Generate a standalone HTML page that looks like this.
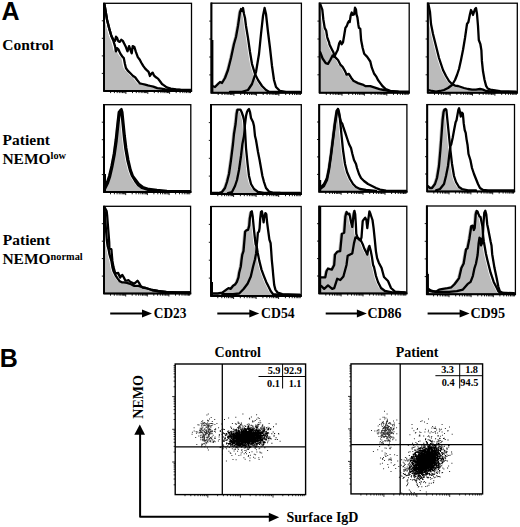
<!DOCTYPE html><html><head><meta charset="utf-8"><style>
html,body{margin:0;padding:0;background:#fff;width:520px;height:527px;overflow:hidden}
svg{display:block}
.s{font-family:"Liberation Serif",serif;font-weight:bold;fill:#000}
.a{font-family:"Liberation Sans",sans-serif;font-weight:bold;fill:#000}
</style></head><body>
<svg width="520" height="527" viewBox="0 0 520 527">
<clipPath id="c00"><rect x="104.0" y="3.3" width="87.5" height="87.6"/></clipPath>
<g clip-path="url(#c00)">
<polygon points="102.0,90.9 102.0,4.0 104.7,20.0 106.8,28.4 108.9,35.7 111.0,40.9 112.6,46.1 113.6,51.3 114.6,48.2 116.2,49.7 117.8,53.4 119.9,56.5 121.4,58.1 122.5,63.8 123.5,68.0 125.3,70.6 128.0,73.3 130.7,76.0 132.7,77.3 134.7,80.0 137.4,83.4 140.1,84.0 142.8,84.7 145.5,85.4 148.2,86.0 150.9,86.7 154.9,88.1 158.9,88.7 163.0,89.4 167.0,89.9 177.6,89.9 177.6,90.9" fill="#bbbbbb"/>
<polyline points="104.4,4.0 107.1,20.0 109.2,28.4 111.3,35.7 113.4,40.9 115.0,46.1 116.0,51.3 117.0,48.2 118.6,49.7 120.2,53.4 122.3,56.5 123.8,58.1 124.9,63.8 125.9,68.0 127.7,70.6 130.4,73.3 133.1,76.0 135.1,77.3 137.1,80.0 139.8,83.4 142.5,84.0 145.2,84.7 147.9,85.4 150.6,86.0 153.3,86.7 157.3,88.1 161.3,88.7 165.4,89.4 169.4,89.9 180.0,89.9" fill="none" stroke="#000" stroke-width="2.3" stroke-linejoin="round" stroke-linecap="round"/>
<polyline points="104.4,4.0 107.1,20.0 109.2,28.4 111.3,35.7 113.4,39.8 115.0,40.9 116.0,36.7 117.0,37.7 118.1,40.9 119.7,41.9 121.2,39.8 122.8,40.9 124.4,44.0 125.9,47.1 127.5,51.3 129.1,46.1 130.6,50.3 131.7,53.4 132.7,46.1 134.4,47.0 135.8,51.7 137.8,57.1 139.8,59.8 141.2,62.5 143.2,65.9 145.2,68.6 146.5,69.9 148.6,71.9 149.9,76.0 151.2,73.9 152.6,72.6 153.9,75.3 156.0,77.3 158.0,78.6 160.0,81.3 162.0,84.0 164.0,85.4 166.7,87.4 170.8,88.7 176.1,89.4 181.5,89.9 191.0,89.9" fill="none" stroke="#000" stroke-width="2.3" stroke-linejoin="round" stroke-linecap="round"/>
</g>
<rect x="104.0" y="3.3" width="87.5" height="87.6" fill="none" stroke="#000" stroke-width="1.3"/>
<path d="M104.0 2.6999999999999997V91.5M103.4 90.9H192.1" stroke="#000" stroke-width="2" fill="none"/>
<path d="M101.8 20.8h2.2 M101.8 38.3h2.2 M101.8 55.9h2.2 M101.8 73.4h2.2 M110.6 90.9v2.2 M114.4 90.9v2.2 M117.2 90.9v2.2 M119.3 90.9v2.2 M121.0 90.9v2.2 M122.5 90.9v2.2 M123.8 90.9v2.2 M124.9 90.9v2.2 M125.9 90.9v3.0 M132.5 90.9v2.2 M136.3 90.9v2.2 M139.0 90.9v2.2 M141.2 90.9v2.2 M142.9 90.9v2.2 M144.4 90.9v2.2 M145.6 90.9v2.2 M146.7 90.9v2.2 M147.8 90.9v3.0 M154.3 90.9v2.2 M158.2 90.9v2.2 M160.9 90.9v2.2 M163.0 90.9v2.2 M164.8 90.9v2.2 M166.2 90.9v2.2 M167.5 90.9v2.2 M168.6 90.9v2.2 M169.6 90.9v3.0 M176.2 90.9v2.2 M180.1 90.9v2.2 M182.8 90.9v2.2 M184.9 90.9v2.2 M186.6 90.9v2.2 M188.1 90.9v2.2 M189.4 90.9v2.2 M190.5 90.9v2.2" stroke="#000" stroke-width="0.9" fill="none"/>
<clipPath id="c01"><rect x="211.4" y="3.2" width="90.0" height="89.6"/></clipPath>
<g clip-path="url(#c01)">
<polygon points="210.4,92.8 210.4,86.0 213.0,87.0 216.0,84.0 218.0,82.0 220.0,83.0 223.0,78.0 226.0,70.0 229.0,58.0 232.0,44.0 234.0,37.0 236.0,26.0 238.0,12.0 239.0,9.0 240.0,11.0 241.0,8.0 242.0,14.0 243.0,18.0 244.0,26.0 246.0,38.0 248.0,52.0 250.0,64.0 253.0,74.0 256.0,80.0 260.0,86.0 264.0,90.0 267.0,91.8 278.0,91.8 278.0,92.8" fill="#bbbbbb"/>
<polyline points="212.4,86.0 215.0,87.0 218.0,84.0 220.0,82.0 222.0,83.0 225.0,78.0 228.0,70.0 231.0,58.0 234.0,44.0 236.0,37.0 238.0,26.0 240.0,12.0 241.0,9.0 242.0,11.0 243.0,8.0 244.0,14.0 245.0,18.0 246.0,26.0 248.0,38.0 250.0,52.0 252.0,64.0 255.0,74.0 258.0,80.0 262.0,86.0 266.0,90.0 269.0,91.8 280.0,91.8" fill="none" stroke="#000" stroke-width="2.3" stroke-linejoin="round" stroke-linecap="round"/>
<polyline points="230.0,91.8 242.0,91.8 248.0,90.0 252.0,84.0 256.0,72.0 259.0,54.0 261.0,34.0 263.0,16.0 264.6,8.0 266.0,14.0 268.0,32.0 270.0,48.0 272.0,66.0 274.0,80.0 276.0,87.0 280.0,91.0 286.0,91.8 300.0,91.8" fill="none" stroke="#000" stroke-width="2.3" stroke-linejoin="round" stroke-linecap="round"/>
</g>
<line x1="212.3" y1="40" x2="212.3" y2="92.8" stroke="#000" stroke-width="2.2"/>
<rect x="211.4" y="3.2" width="90.0" height="89.6" fill="none" stroke="#000" stroke-width="1.3"/>
<path d="M211.4 2.6V93.39999999999999M210.8 92.8H302.0" stroke="#000" stroke-width="2" fill="none"/>
<path d="M209.2 21.1h2.2 M209.2 39.0h2.2 M209.2 57.0h2.2 M209.2 74.9h2.2 M218.2 92.8v2.2 M222.1 92.8v2.2 M224.9 92.8v2.2 M227.1 92.8v2.2 M228.9 92.8v2.2 M230.4 92.8v2.2 M231.7 92.8v2.2 M232.9 92.8v2.2 M233.9 92.8v3.0 M240.7 92.8v2.2 M244.6 92.8v2.2 M247.4 92.8v2.2 M249.6 92.8v2.2 M251.4 92.8v2.2 M252.9 92.8v2.2 M254.2 92.8v2.2 M255.4 92.8v2.2 M256.4 92.8v3.0 M263.2 92.8v2.2 M267.1 92.8v2.2 M269.9 92.8v2.2 M272.1 92.8v2.2 M273.9 92.8v2.2 M275.4 92.8v2.2 M276.7 92.8v2.2 M277.9 92.8v2.2 M278.9 92.8v3.0 M285.7 92.8v2.2 M289.6 92.8v2.2 M292.4 92.8v2.2 M294.6 92.8v2.2 M296.4 92.8v2.2 M297.9 92.8v2.2 M299.2 92.8v2.2 M300.4 92.8v2.2" stroke="#000" stroke-width="0.9" fill="none"/>
<clipPath id="c02"><rect x="319.6" y="3.2" width="89.6" height="89.5"/></clipPath>
<g clip-path="url(#c02)">
<polygon points="318.4,92.7 318.4,4.5 318.9,5.8 320.3,9.6 321.3,19.2 322.7,27.9 324.2,30.8 325.2,37.0 325.6,38.5 327.1,42.3 327.5,44.6 329.8,49.2 331.4,52.3 332.9,56.9 336.0,60.0 338.3,64.6 340.6,66.9 342.9,70.8 344.5,74.6 346.8,73.8 349.1,77.7 351.4,80.8 356.0,83.1 360.6,84.6 363.7,86.2 368.3,86.2 372.9,87.7 377.5,89.2 382.2,90.0 388.3,91.5 396.0,91.7 396.0,92.7" fill="#bbbbbb"/>
<polyline points="320.4,4.5 320.9,5.8 322.3,9.6 323.3,19.2 324.7,27.9 326.2,30.8 327.2,37.0 327.6,38.5 329.1,42.3 329.5,44.6 331.8,49.2 333.4,52.3 334.9,56.9 338.0,60.0 340.3,64.6 342.6,66.9 344.9,70.8 346.5,74.6 348.8,73.8 351.1,77.7 353.4,80.8 358.0,83.1 362.6,84.6 365.7,86.2 370.3,86.2 374.9,87.7 379.5,89.2 384.2,90.0 390.3,91.5 398.0,91.7" fill="none" stroke="#000" stroke-width="2.3" stroke-linejoin="round" stroke-linecap="round"/>
<polyline points="320.3,52.3 322.6,58.5 325.7,63.1 328.0,63.8 330.3,60.0 332.6,55.4 334.2,56.9 336.5,52.3 337.7,50.0 339.2,43.3 340.3,41.3 341.6,44.2 343.0,42.3 344.0,36.5 345.4,27.9 346.8,26.0 347.8,23.1 348.8,21.2 349.7,22.1 350.7,15.4 351.7,12.5 352.6,14.9 354.1,14.4 355.0,7.7 356.0,9.6 356.5,14.4 357.4,17.3 358.4,25.0 358.9,27.9 360.3,28.8 361.1,40.0 362.6,47.7 364.2,53.8 367.2,56.9 370.3,61.5 371.8,67.7 374.2,73.8 376.5,76.9 378.0,80.0 380.3,83.1 382.6,86.2 385.7,89.2 390.3,90.8 398.0,91.7 409.0,91.7" fill="none" stroke="#000" stroke-width="2.3" stroke-linejoin="round" stroke-linecap="round"/>
</g>
<rect x="319.6" y="3.2" width="89.6" height="89.5" fill="none" stroke="#000" stroke-width="1.3"/>
<path d="M319.6 2.6V93.3M319.0 92.7H409.8" stroke="#000" stroke-width="2" fill="none"/>
<path d="M317.4 21.1h2.2 M317.4 39.0h2.2 M317.4 56.9h2.2 M317.4 74.8h2.2 M326.3 92.7v2.2 M330.3 92.7v2.2 M333.1 92.7v2.2 M335.3 92.7v2.2 M337.0 92.7v2.2 M338.5 92.7v2.2 M339.8 92.7v2.2 M341.0 92.7v2.2 M342.0 92.7v3.0 M348.7 92.7v2.2 M352.7 92.7v2.2 M355.5 92.7v2.2 M357.7 92.7v2.2 M359.4 92.7v2.2 M360.9 92.7v2.2 M362.2 92.7v2.2 M363.4 92.7v2.2 M364.4 92.7v3.0 M371.1 92.7v2.2 M375.1 92.7v2.2 M377.9 92.7v2.2 M380.1 92.7v2.2 M381.8 92.7v2.2 M383.3 92.7v2.2 M384.6 92.7v2.2 M385.8 92.7v2.2 M386.8 92.7v3.0 M393.5 92.7v2.2 M397.5 92.7v2.2 M400.3 92.7v2.2 M402.5 92.7v2.2 M404.2 92.7v2.2 M405.7 92.7v2.2 M407.0 92.7v2.2 M408.2 92.7v2.2" stroke="#000" stroke-width="0.9" fill="none"/>
<clipPath id="c03"><rect x="427.8" y="3.2" width="89.5" height="89.5"/></clipPath>
<g clip-path="url(#c03)">
<polygon points="426.4,92.7 426.4,4.0 428.0,12.0 429.0,24.0 431.0,34.0 433.0,42.0 435.0,50.0 437.0,58.0 439.0,64.0 441.0,70.0 444.0,76.0 447.0,81.0 450.0,84.0 453.0,85.6 456.0,86.0 459.0,87.0 462.0,88.0 466.0,89.0 470.0,89.6 474.0,89.6 478.0,89.0 481.0,89.6 484.0,91.0 490.0,91.7 498.0,91.7 498.0,92.7" fill="#bbbbbb"/>
<polyline points="428.4,4.0 430.0,12.0 431.0,24.0 433.0,34.0 435.0,42.0 437.0,50.0 439.0,58.0 441.0,64.0 443.0,70.0 446.0,76.0 449.0,81.0 452.0,84.0 455.0,85.6 458.0,86.0 461.0,87.0 464.0,88.0 468.0,89.0 472.0,89.6 476.0,89.6 480.0,89.0 483.0,89.6 486.0,91.0 492.0,91.7 500.0,91.7" fill="none" stroke="#000" stroke-width="2.3" stroke-linejoin="round" stroke-linecap="round"/>
<polyline points="428.4,90.0 432.0,91.0 436.0,91.6 440.0,91.0 444.0,90.0 448.0,88.0 452.0,85.0 455.0,80.0 457.0,75.0 459.0,69.0 461.0,60.0 463.0,50.0 465.0,38.0 467.0,24.0 468.4,22.0 470.0,14.0 471.0,10.0 472.0,12.0 473.0,15.0 474.0,12.0 475.0,9.0 476.0,8.0 477.0,14.0 478.0,26.0 478.8,40.0 480.4,44.2 481.4,50.4 481.9,60.9 483.0,71.3 484.5,79.7 486.1,85.9 487.7,88.5 490.3,89.6 500.0,91.1 516.0,91.7" fill="none" stroke="#000" stroke-width="2.3" stroke-linejoin="round" stroke-linecap="round"/>
</g>
<rect x="427.8" y="3.2" width="89.5" height="89.5" fill="none" stroke="#000" stroke-width="1.3"/>
<path d="M427.8 2.6V93.3M427.2 92.7H517.9" stroke="#000" stroke-width="2" fill="none"/>
<path d="M425.6 21.1h2.2 M425.6 39.0h2.2 M425.6 56.9h2.2 M425.6 74.8h2.2 M434.5 92.7v2.2 M438.5 92.7v2.2 M441.3 92.7v2.2 M443.4 92.7v2.2 M445.2 92.7v2.2 M446.7 92.7v2.2 M448.0 92.7v2.2 M449.2 92.7v2.2 M450.2 92.7v3.0 M456.9 92.7v2.2 M460.9 92.7v2.2 M463.6 92.7v2.2 M465.8 92.7v2.2 M467.6 92.7v2.2 M469.1 92.7v2.2 M470.4 92.7v2.2 M471.5 92.7v2.2 M472.5 92.7v3.0 M479.3 92.7v2.2 M483.2 92.7v2.2 M486.0 92.7v2.2 M488.2 92.7v2.2 M490.0 92.7v2.2 M491.5 92.7v2.2 M492.8 92.7v2.2 M493.9 92.7v2.2 M494.9 92.7v3.0 M501.7 92.7v2.2 M505.6 92.7v2.2 M508.4 92.7v2.2 M510.6 92.7v2.2 M512.3 92.7v2.2 M513.8 92.7v2.2 M515.1 92.7v2.2 M516.3 92.7v2.2" stroke="#000" stroke-width="0.9" fill="none"/>
<clipPath id="c10"><rect x="104.0" y="104.7" width="86.8" height="87.4"/></clipPath>
<g clip-path="url(#c10)">
<polygon points="102.5,192.1 102.5,190.0 104.0,187.0 106.0,183.0 108.0,177.0 110.3,167.0 112.6,155.0 114.6,141.0 116.3,125.0 117.7,113.0 118.6,110.0 119.5,113.0 120.7,125.0 121.9,137.0 123.4,149.0 125.5,161.0 127.8,170.0 130.0,176.0 133.0,181.0 136.0,185.0 140.0,188.0 146.0,190.0 154.0,191.0 164.0,191.1 178.0,191.1 188.0,191.1 188.0,192.1" fill="#bbbbbb"/>
<polyline points="104.5,190.0 106.0,187.0 108.0,183.0 110.0,177.0 112.3,167.0 114.6,155.0 116.6,141.0 118.3,125.0 119.7,113.0 120.6,110.0 121.5,113.0 122.7,125.0 123.9,137.0 125.4,149.0 127.5,161.0 129.8,170.0 132.0,176.0 135.0,181.0 138.0,185.0 142.0,188.0 148.0,190.0 156.0,191.0 166.0,191.1 180.0,191.1 190.0,191.1" fill="none" stroke="#000" stroke-width="2.3" stroke-linejoin="round" stroke-linecap="round"/>
<polyline points="103.6,188.0 105.1,186.0 107.1,182.0 109.1,176.0 111.5,166.0 113.8,154.0 115.7,140.0 117.4,124.0 118.8,112.0 121.5,109.0 122.4,112.0 123.6,124.0 124.8,136.0 126.3,148.0 128.4,160.0 130.7,170.0 132.9,176.0 135.9,180.0 138.9,184.0 142.9,187.0 148.9,189.0 156.9,190.0 166.9,191.0 180.9,191.1 190.9,191.1" fill="none" stroke="#000" stroke-width="2.3" stroke-linejoin="round" stroke-linecap="round"/>
</g>
<line x1="104.9" y1="174" x2="104.9" y2="192.1" stroke="#000" stroke-width="2.2"/>
<rect x="104.0" y="104.7" width="86.8" height="87.4" fill="none" stroke="#000" stroke-width="1.3"/>
<path d="M104.0 104.10000000000001V192.7M103.4 192.1H191.4" stroke="#000" stroke-width="2" fill="none"/>
<path d="M101.8 122.2h2.2 M101.8 139.7h2.2 M101.8 157.1h2.2 M101.8 174.6h2.2 M110.5 192.1v2.2 M114.4 192.1v2.2 M117.1 192.1v2.2 M119.2 192.1v2.2 M120.9 192.1v2.2 M122.3 192.1v2.2 M123.6 192.1v2.2 M124.7 192.1v2.2 M125.7 192.1v3.0 M132.2 192.1v2.2 M136.1 192.1v2.2 M138.8 192.1v2.2 M140.9 192.1v2.2 M142.6 192.1v2.2 M144.0 192.1v2.2 M145.3 192.1v2.2 M146.4 192.1v2.2 M147.4 192.1v3.0 M153.9 192.1v2.2 M157.8 192.1v2.2 M160.5 192.1v2.2 M162.6 192.1v2.2 M164.3 192.1v2.2 M165.7 192.1v2.2 M167.0 192.1v2.2 M168.1 192.1v2.2 M169.1 192.1v3.0 M175.6 192.1v2.2 M179.5 192.1v2.2 M182.2 192.1v2.2 M184.3 192.1v2.2 M186.0 192.1v2.2 M187.4 192.1v2.2 M188.7 192.1v2.2 M189.8 192.1v2.2" stroke="#000" stroke-width="0.9" fill="none"/>
<clipPath id="c11"><rect x="211.0" y="104.7" width="90.3" height="89.3"/></clipPath>
<g clip-path="url(#c11)">
<polygon points="210.0,194.0 210.0,193.0 216.0,193.0 220.0,192.0 223.0,188.0 225.0,182.0 227.0,174.0 229.0,160.0 231.0,144.0 232.0,134.0 233.6,124.0 234.6,114.0 235.4,109.6 237.0,109.6 238.4,109.6 239.6,112.0 241.0,116.0 242.0,120.0 243.0,130.0 244.0,148.0 245.6,164.0 247.0,176.0 249.0,184.0 252.0,189.0 256.0,192.0 262.0,193.0 278.0,193.0 278.0,194.0" fill="#bbbbbb"/>
<polyline points="212.0,193.0 218.0,193.0 222.0,192.0 225.0,188.0 227.0,182.0 229.0,174.0 231.0,160.0 233.0,144.0 234.0,134.0 235.6,124.0 236.6,114.0 237.4,109.6 239.0,109.6 240.4,109.6 241.6,112.0 243.0,116.0 244.0,120.0 245.0,130.0 246.0,148.0 247.6,164.0 249.0,176.0 251.0,184.0 254.0,189.0 258.0,192.0 264.0,193.0 280.0,193.0" fill="none" stroke="#000" stroke-width="2.3" stroke-linejoin="round" stroke-linecap="round"/>
<polyline points="228.0,193.0 232.0,192.0 235.0,186.0 237.0,180.0 239.0,170.0 241.0,156.0 242.4,144.0 244.0,136.0 245.0,124.0 246.0,116.0 247.0,112.0 248.0,110.0 249.0,109.0 250.0,112.0 251.0,118.0 252.0,120.0 253.0,122.0 254.0,126.0 255.0,136.0 256.0,140.0 257.0,146.0 258.0,152.0 259.6,160.0 261.0,168.0 262.4,176.0 264.0,182.0 266.0,188.0 269.0,191.6 274.0,193.0 300.0,193.0" fill="none" stroke="#000" stroke-width="2.3" stroke-linejoin="round" stroke-linecap="round"/>
</g>
<rect x="211.0" y="104.7" width="90.3" height="89.3" fill="none" stroke="#000" stroke-width="1.3"/>
<path d="M211.0 104.10000000000001V194.6M210.4 194.0H301.90000000000003" stroke="#000" stroke-width="2" fill="none"/>
<path d="M208.8 122.6h2.2 M208.8 140.4h2.2 M208.8 158.3h2.2 M208.8 176.1h2.2 M217.8 194.0v2.2 M221.8 194.0v2.2 M224.6 194.0v2.2 M226.8 194.0v2.2 M228.6 194.0v2.2 M230.1 194.0v2.2 M231.4 194.0v2.2 M232.5 194.0v2.2 M233.6 194.0v3.0 M240.4 194.0v2.2 M244.3 194.0v2.2 M247.2 194.0v2.2 M249.4 194.0v2.2 M251.1 194.0v2.2 M252.7 194.0v2.2 M254.0 194.0v2.2 M255.1 194.0v2.2 M256.1 194.0v3.0 M262.9 194.0v2.2 M266.9 194.0v2.2 M269.7 194.0v2.2 M271.9 194.0v2.2 M273.7 194.0v2.2 M275.2 194.0v2.2 M276.5 194.0v2.2 M277.7 194.0v2.2 M278.7 194.0v3.0 M285.5 194.0v2.2 M289.5 194.0v2.2 M292.3 194.0v2.2 M294.5 194.0v2.2 M296.3 194.0v2.2 M297.8 194.0v2.2 M299.1 194.0v2.2 M300.3 194.0v2.2" stroke="#000" stroke-width="0.9" fill="none"/>
<clipPath id="c12"><rect x="319.2" y="104.6" width="87.7" height="87.2"/></clipPath>
<g clip-path="url(#c12)">
<polygon points="318.0,191.8 318.0,189.0 322.0,186.0 325.0,180.0 327.0,170.0 329.0,156.0 331.0,140.0 333.0,124.0 335.0,112.0 336.0,109.0 337.0,112.0 338.0,120.0 339.6,136.0 341.0,150.0 343.0,164.0 345.0,172.0 348.0,179.0 351.0,184.0 354.0,187.0 358.0,189.0 364.0,190.0 374.0,190.8 374.0,191.8" fill="#bbbbbb"/>
<polyline points="320.0,189.0 324.0,186.0 327.0,180.0 329.0,170.0 331.0,156.0 333.0,140.0 335.0,124.0 337.0,112.0 338.0,109.0 339.0,112.0 340.0,120.0 341.6,136.0 343.0,150.0 345.0,164.0 347.0,172.0 350.0,179.0 353.0,184.0 356.0,187.0 360.0,189.0 366.0,190.0 376.0,190.8" fill="none" stroke="#000" stroke-width="2.3" stroke-linejoin="round" stroke-linecap="round"/>
<polyline points="320.0,188.0 324.0,184.0 327.0,178.0 329.0,168.0 331.0,154.0 333.0,138.0 335.0,122.0 336.6,111.0 338.0,109.0 339.6,116.0 341.0,122.0 342.4,124.0 343.6,128.0 345.0,132.0 347.0,138.0 349.0,144.0 351.0,148.0 352.4,154.0 354.0,160.0 356.0,164.0 357.0,168.0 359.0,174.0 361.0,178.0 364.0,181.0 368.0,184.0 372.0,186.0 376.0,188.0 380.0,189.6 386.0,190.6 406.0,190.8" fill="none" stroke="#000" stroke-width="2.3" stroke-linejoin="round" stroke-linecap="round"/>
</g>
<line x1="320.09999999999997" y1="180" x2="320.09999999999997" y2="191.8" stroke="#000" stroke-width="2.2"/>
<rect x="319.2" y="104.6" width="87.7" height="87.2" fill="none" stroke="#000" stroke-width="1.3"/>
<path d="M319.2 104.0V192.4M318.59999999999997 191.8H407.5" stroke="#000" stroke-width="2" fill="none"/>
<path d="M317.0 122.0h2.2 M317.0 139.5h2.2 M317.0 156.9h2.2 M317.0 174.4h2.2 M325.8 191.8v2.2 M329.7 191.8v2.2 M332.4 191.8v2.2 M334.5 191.8v2.2 M336.3 191.8v2.2 M337.7 191.8v2.2 M339.0 191.8v2.2 M340.1 191.8v2.2 M341.1 191.8v3.0 M347.7 191.8v2.2 M351.6 191.8v2.2 M354.3 191.8v2.2 M356.4 191.8v2.2 M358.2 191.8v2.2 M359.7 191.8v2.2 M360.9 191.8v2.2 M362.0 191.8v2.2 M363.0 191.8v3.0 M369.7 191.8v2.2 M373.5 191.8v2.2 M376.3 191.8v2.2 M378.4 191.8v2.2 M380.1 191.8v2.2 M381.6 191.8v2.2 M382.9 191.8v2.2 M384.0 191.8v2.2 M385.0 191.8v3.0 M391.6 191.8v2.2 M395.4 191.8v2.2 M398.2 191.8v2.2 M400.3 191.8v2.2 M402.0 191.8v2.2 M403.5 191.8v2.2 M404.8 191.8v2.2 M405.9 191.8v2.2" stroke="#000" stroke-width="0.9" fill="none"/>
<clipPath id="c13"><rect x="427.2" y="104.6" width="87.3" height="86.8"/></clipPath>
<g clip-path="url(#c13)">
<polygon points="425.6,191.4 425.6,186.0 428.0,188.0 430.0,188.0 433.0,184.0 435.0,178.0 437.0,166.0 438.4,150.0 439.6,134.0 440.6,120.0 441.6,112.0 442.4,109.6 443.6,109.0 444.4,110.0 445.0,116.0 446.0,126.0 447.0,136.0 448.4,150.0 450.0,164.0 452.0,176.0 454.0,182.0 457.0,187.0 460.0,189.0 466.0,190.4 474.0,190.4 474.0,191.4" fill="#bbbbbb"/>
<polyline points="427.6,186.0 430.0,188.0 432.0,188.0 435.0,184.0 437.0,178.0 439.0,166.0 440.4,150.0 441.6,134.0 442.6,120.0 443.6,112.0 444.4,109.6 445.6,109.0 446.4,110.0 447.0,116.0 448.0,126.0 449.0,136.0 450.4,150.0 452.0,164.0 454.0,176.0 456.0,182.0 459.0,187.0 462.0,189.0 468.0,190.4 476.0,190.4" fill="none" stroke="#000" stroke-width="2.3" stroke-linejoin="round" stroke-linecap="round"/>
<polyline points="436.0,190.4 440.0,189.0 444.0,184.0 446.0,176.0 448.0,166.0 449.4,154.0 450.3,146.3 451.2,144.4 452.7,137.7 454.1,130.0 455.6,122.3 456.5,120.3 457.5,114.6 458.4,109.8 459.1,108.3 459.9,111.7 460.8,116.5 461.8,112.7 462.8,113.6 463.3,118.4 463.7,123.2 464.7,130.0 465.7,132.8 466.6,139.6 467.6,145.3 468.5,154.0 470.4,160.0 472.0,168.0 474.0,174.0 476.0,179.0 478.0,184.0 480.0,188.0 483.0,190.0 488.0,190.4 514.0,190.4" fill="none" stroke="#000" stroke-width="2.3" stroke-linejoin="round" stroke-linecap="round"/>
</g>
<rect x="427.2" y="104.6" width="87.3" height="86.8" fill="none" stroke="#000" stroke-width="1.3"/>
<path d="M427.2 104.0V192.0M426.59999999999997 191.4H515.1" stroke="#000" stroke-width="2" fill="none"/>
<path d="M425.0 122.0h2.2 M425.0 139.3h2.2 M425.0 156.7h2.2 M425.0 174.0h2.2 M433.8 191.4v2.2 M437.6 191.4v2.2 M440.3 191.4v2.2 M442.5 191.4v2.2 M444.2 191.4v2.2 M445.6 191.4v2.2 M446.9 191.4v2.2 M448.0 191.4v2.2 M449.0 191.4v3.0 M455.6 191.4v2.2 M459.4 191.4v2.2 M462.2 191.4v2.2 M464.3 191.4v2.2 M466.0 191.4v2.2 M467.5 191.4v2.2 M468.7 191.4v2.2 M469.9 191.4v2.2 M470.9 191.4v3.0 M477.4 191.4v2.2 M481.3 191.4v2.2 M484.0 191.4v2.2 M486.1 191.4v2.2 M487.8 191.4v2.2 M489.3 191.4v2.2 M490.6 191.4v2.2 M491.7 191.4v2.2 M492.7 191.4v3.0 M499.2 191.4v2.2 M503.1 191.4v2.2 M505.8 191.4v2.2 M507.9 191.4v2.2 M509.7 191.4v2.2 M511.1 191.4v2.2 M512.4 191.4v2.2 M513.5 191.4v2.2" stroke="#000" stroke-width="0.9" fill="none"/>
<clipPath id="c20"><rect x="104.0" y="206.3" width="86.6" height="87.2"/></clipPath>
<g clip-path="url(#c20)">
<polygon points="102.2,293.5 102.2,207.0 102.8,212.0 103.3,220.0 104.0,230.0 104.8,240.0 105.6,246.0 106.3,248.4 106.8,250.4 107.3,253.6 108.4,257.7 109.4,260.9 110.4,267.1 111.5,271.3 113.6,275.5 115.7,278.6 117.7,281.2 119.8,282.3 121.9,282.3 125.0,282.8 128.2,283.8 130.3,284.9 132.4,285.9 134.4,285.9 136.5,285.9 139.7,287.0 143.8,288.0 150.0,290.0 158.0,291.5 168.0,292.4 188.0,292.5 188.0,293.5" fill="#bbbbbb"/>
<polyline points="104.2,207.0 104.8,212.0 105.3,220.0 106.0,230.0 106.8,240.0 107.6,246.0 108.3,248.4 108.8,250.4 109.3,253.6 110.4,257.7 111.4,260.9 112.4,267.1 113.5,271.3 115.6,275.5 117.7,278.6 119.7,281.2 121.8,282.3 123.9,282.3 127.0,282.8 130.2,283.8 132.3,284.9 134.4,285.9 136.4,285.9 138.5,285.9 141.7,287.0 145.8,288.0 152.0,290.0 160.0,291.5 170.0,292.4 190.0,292.5" fill="none" stroke="#000" stroke-width="2.3" stroke-linejoin="round" stroke-linecap="round"/>
<polyline points="104.2,207.0 105.5,209.0 106.6,211.0 107.2,216.0 107.8,224.0 108.6,234.0 109.2,242.0 109.4,248.4 111.4,249.4 111.9,255.7 112.4,260.9 113.5,267.1 115.0,272.4 116.6,273.4 118.2,272.9 119.2,275.5 120.3,277.6 121.3,275.5 122.4,275.0 123.9,277.6 125.5,280.7 127.0,280.7 128.6,280.2 130.2,281.8 132.3,282.8 133.8,283.8 135.4,282.8 137.5,280.7 139.0,282.8 140.6,285.9 142.7,287.5 145.8,288.0 149.0,289.0 152.0,290.0 158.0,291.0 166.0,292.0 178.0,292.5 190.0,292.5" fill="none" stroke="#000" stroke-width="2.3" stroke-linejoin="round" stroke-linecap="round"/>
</g>
<rect x="104.0" y="206.3" width="86.6" height="87.2" fill="none" stroke="#000" stroke-width="1.3"/>
<path d="M104.0 205.70000000000002V294.1M103.4 293.5H191.2" stroke="#000" stroke-width="2" fill="none"/>
<path d="M101.8 223.7h2.2 M101.8 241.2h2.2 M101.8 258.6h2.2 M101.8 276.1h2.2 M110.5 293.5v2.2 M114.3 293.5v2.2 M117.0 293.5v2.2 M119.1 293.5v2.2 M120.8 293.5v2.2 M122.3 293.5v2.2 M123.6 293.5v2.2 M124.7 293.5v2.2 M125.7 293.5v3.0 M132.2 293.5v2.2 M136.0 293.5v2.2 M138.7 293.5v2.2 M140.8 293.5v2.2 M142.5 293.5v2.2 M143.9 293.5v2.2 M145.2 293.5v2.2 M146.3 293.5v2.2 M147.3 293.5v3.0 M153.8 293.5v2.2 M157.6 293.5v2.2 M160.3 293.5v2.2 M162.4 293.5v2.2 M164.1 293.5v2.2 M165.6 293.5v2.2 M166.9 293.5v2.2 M168.0 293.5v2.2 M168.9 293.5v3.0 M175.5 293.5v2.2 M179.3 293.5v2.2 M182.0 293.5v2.2 M184.1 293.5v2.2 M185.8 293.5v2.2 M187.2 293.5v2.2 M188.5 293.5v2.2 M189.6 293.5v2.2" stroke="#000" stroke-width="0.9" fill="none"/>
<clipPath id="c21"><rect x="211.0" y="206.5" width="90.2" height="89.5"/></clipPath>
<g clip-path="url(#c21)">
<polygon points="210.5,296.0 210.5,293.5 215.7,293.5 220.3,292.7 223.4,290.4 226.5,288.1 228.8,288.8 231.1,285.8 233.4,284.2 234.9,281.9 236.5,277.3 237.2,272.7 238.8,266.5 239.5,260.4 240.3,254.6 241.5,251.1 242.6,238.4 243.2,231.5 244.3,230.4 246.1,229.8 247.2,225.8 247.8,218.8 249.0,211.9 249.8,211.3 250.7,216.5 251.8,228.1 252.8,237.3 253.6,244.2 254.7,246.5 255.7,252.7 257.2,260.4 259.5,269.6 261.8,275.8 264.2,281.9 266.5,286.5 268.8,291.2 271.1,294.2 278.0,295.0 298.0,295.0 298.0,296.0" fill="#bbbbbb"/>
<polyline points="212.5,293.5 217.7,293.5 222.3,292.7 225.4,290.4 228.5,288.1 230.8,288.8 233.1,285.8 235.4,284.2 236.9,281.9 238.5,277.3 239.2,272.7 240.8,266.5 241.5,260.4 242.3,254.6 243.5,251.1 244.6,238.4 245.2,231.5 246.3,230.4 248.1,229.8 249.2,225.8 249.8,218.8 251.0,211.9 251.8,211.3 252.7,216.5 253.8,228.1 254.8,237.3 255.6,244.2 256.7,246.5 257.7,252.7 259.2,260.4 261.5,269.6 263.8,275.8 266.2,281.9 268.5,286.5 270.8,291.2 273.1,294.2 280.0,295.0 300.0,295.0" fill="none" stroke="#000" stroke-width="2.3" stroke-linejoin="round" stroke-linecap="round"/>
<polyline points="222.3,294.2 233.1,294.2 239.2,293.5 243.8,288.8 247.7,283.5 250.8,276.5 253.1,266.5 255.0,259.2 256.1,253.4 256.7,245.4 257.3,239.6 257.9,232.7 259.0,231.5 259.6,228.1 260.2,218.8 261.0,211.9 261.9,211.3 262.8,216.5 263.6,222.3 264.2,217.7 265.4,213.1 266.3,214.2 267.1,222.3 268.3,231.5 269.4,239.6 270.6,243.1 271.2,251.0 271.8,260.0 272.6,268.0 273.3,276.0 274.2,285.0 275.4,289.6 277.7,292.7 282.3,294.2 300.0,295.0" fill="none" stroke="#000" stroke-width="2.3" stroke-linejoin="round" stroke-linecap="round"/>
</g>
<line x1="211.9" y1="282" x2="211.9" y2="296.0" stroke="#000" stroke-width="2.2"/>
<rect x="211.0" y="206.5" width="90.2" height="89.5" fill="none" stroke="#000" stroke-width="1.3"/>
<path d="M211.0 205.9V296.6M210.4 296.0H301.8" stroke="#000" stroke-width="2" fill="none"/>
<path d="M208.8 224.4h2.2 M208.8 242.3h2.2 M208.8 260.2h2.2 M208.8 278.1h2.2 M217.8 296.0v2.2 M221.8 296.0v2.2 M224.6 296.0v2.2 M226.8 296.0v2.2 M228.5 296.0v2.2 M230.1 296.0v2.2 M231.4 296.0v2.2 M232.5 296.0v2.2 M233.6 296.0v3.0 M240.3 296.0v2.2 M244.3 296.0v2.2 M247.1 296.0v2.2 M249.3 296.0v2.2 M251.1 296.0v2.2 M252.6 296.0v2.2 M253.9 296.0v2.2 M255.1 296.0v2.2 M256.1 296.0v3.0 M262.9 296.0v2.2 M266.9 296.0v2.2 M269.7 296.0v2.2 M271.9 296.0v2.2 M273.6 296.0v2.2 M275.2 296.0v2.2 M276.5 296.0v2.2 M277.6 296.0v2.2 M278.6 296.0v3.0 M285.4 296.0v2.2 M289.4 296.0v2.2 M292.2 296.0v2.2 M294.4 296.0v2.2 M296.2 296.0v2.2 M297.7 296.0v2.2 M299.0 296.0v2.2 M300.2 296.0v2.2" stroke="#000" stroke-width="0.9" fill="none"/>
<clipPath id="c22"><rect x="319.2" y="206.3" width="87.6" height="87.1"/></clipPath>
<g clip-path="url(#c22)">
<polygon points="318.0,293.4 318.0,277.3 323.3,277.3 324.5,271.2 326.0,268.5 327.9,269.2 329.8,269.6 332.2,265.0 333.0,254.6 335.3,251.7 338.2,251.1 339.9,233.8 342.2,232.7 343.4,216.5 344.5,211.9 346.3,214.2 347.4,213.7 349.1,222.3 350.3,226.9 351.5,215.4 352.4,210.8 353.2,214.2 353.8,223.5 354.3,233.8 355.5,237.3 356.6,238.4 358.4,239.6 360.7,244.2 362.4,248.8 363.6,251.1 365.3,254.6 366.4,248.8 367.4,245.9 368.8,251.1 369.9,256.9 371.1,265.0 372.0,267.0 374.0,276.0 376.0,282.0 379.0,288.0 383.0,291.0 390.0,292.4 404.0,292.4 404.0,293.4" fill="#bbbbbb"/>
<polyline points="320.0,277.3 325.3,277.3 326.5,271.2 328.0,268.5 329.9,269.2 331.8,269.6 334.2,265.0 335.0,254.6 337.3,251.7 340.2,251.1 341.9,233.8 344.2,232.7 345.4,216.5 346.5,211.9 348.3,214.2 349.4,213.7 351.1,222.3 352.3,226.9 353.5,215.4 354.4,210.8 355.2,214.2 355.8,223.5 356.3,233.8 357.5,237.3 358.6,238.4 360.4,239.6 362.7,244.2 364.4,248.8 365.6,251.1 367.3,254.6 368.4,248.8 369.4,245.9 370.8,251.1 371.9,256.9 373.1,265.0 374.0,267.0 376.0,276.0 378.0,282.0 381.0,288.0 385.0,291.0 392.0,292.4 406.0,292.4" fill="none" stroke="#000" stroke-width="2.3" stroke-linejoin="round" stroke-linecap="round"/>
<polyline points="320.0,285.8 321.1,285.8 324.2,288.8 328.0,285.4 332.2,288.8 334.2,288.1 337.2,278.8 340.3,280.0 343.4,276.5 346.5,265.0 347.7,255.7 350.0,254.6 352.3,253.4 354.0,243.1 355.5,237.3 357.5,237.9 359.2,239.6 360.4,240.8 361.5,237.3 362.7,221.1 363.8,219.4 365.2,217.7 366.4,220.0 367.3,228.1 368.4,218.8 369.4,211.3 370.2,213.1 371.3,216.5 372.5,220.0 373.6,228.1 374.8,239.6 375.9,251.1 377.1,258.1 378.8,262.7 380.0,265.0 381.6,268.0 384.0,277.0 386.0,279.0 388.0,281.0 391.0,288.0 395.0,291.6 404.0,292.4" fill="none" stroke="#000" stroke-width="2.3" stroke-linejoin="round" stroke-linecap="round"/>
</g>
<line x1="320.09999999999997" y1="206.3" x2="320.09999999999997" y2="293.4" stroke="#000" stroke-width="2.2"/>
<rect x="319.2" y="206.3" width="87.6" height="87.1" fill="none" stroke="#000" stroke-width="1.3"/>
<path d="M319.2 205.70000000000002V294.0M318.59999999999997 293.4H407.40000000000003" stroke="#000" stroke-width="2" fill="none"/>
<path d="M317.0 223.7h2.2 M317.0 241.1h2.2 M317.0 258.6h2.2 M317.0 276.0h2.2 M325.8 293.4v2.2 M329.6 293.4v2.2 M332.4 293.4v2.2 M334.5 293.4v2.2 M336.2 293.4v2.2 M337.7 293.4v2.2 M339.0 293.4v2.2 M340.1 293.4v2.2 M341.1 293.4v3.0 M347.7 293.4v2.2 M351.5 293.4v2.2 M354.3 293.4v2.2 M356.4 293.4v2.2 M358.1 293.4v2.2 M359.6 293.4v2.2 M360.9 293.4v2.2 M362.0 293.4v2.2 M363.0 293.4v3.0 M369.6 293.4v2.2 M373.4 293.4v2.2 M376.2 293.4v2.2 M378.3 293.4v2.2 M380.0 293.4v2.2 M381.5 293.4v2.2 M382.8 293.4v2.2 M383.9 293.4v2.2 M384.9 293.4v3.0 M391.5 293.4v2.2 M395.3 293.4v2.2 M398.1 293.4v2.2 M400.2 293.4v2.2 M401.9 293.4v2.2 M403.4 293.4v2.2 M404.7 293.4v2.2 M405.8 293.4v2.2" stroke="#000" stroke-width="0.9" fill="none"/>
<clipPath id="c23"><rect x="426.9" y="206.0" width="88.5" height="88.2"/></clipPath>
<g clip-path="url(#c23)">
<polygon points="426.0,294.2 426.0,290.5 430.0,291.5 434.8,291.2 437.1,289.6 440.9,288.8 445.5,288.1 449.4,287.3 452.5,284.2 454.8,281.2 457.1,278.1 459.4,268.1 461.7,263.5 463.2,254.2 464.1,249.2 465.5,248.3 467.4,238.7 469.3,226.2 470.8,225.7 471.8,230.0 472.7,228.1 473.7,214.6 474.6,210.8 475.6,211.7 476.6,214.6 477.5,216.5 478.5,217.0 479.4,221.3 480.4,226.2 480.9,233.8 481.8,241.5 482.6,246.0 484.0,254.0 485.5,260.4 488.6,272.7 491.7,281.9 494.8,288.1 496.3,291.2 497.8,292.7 503.0,293.2 503.0,294.2" fill="#bbbbbb"/>
<polyline points="428.0,290.5 432.0,291.5 436.8,291.2 439.1,289.6 442.9,288.8 447.5,288.1 451.4,287.3 454.5,284.2 456.8,281.2 459.1,278.1 461.4,268.1 463.7,263.5 465.2,254.2 466.1,249.2 467.5,248.3 469.4,238.7 471.3,226.2 472.8,225.7 473.8,230.0 474.7,228.1 475.7,214.6 476.6,210.8 477.6,211.7 478.6,214.6 479.5,216.5 480.5,217.0 481.4,221.3 482.4,226.2 482.9,233.8 483.8,241.5 484.6,246.0 486.0,254.0 487.5,260.4 490.6,272.7 493.7,281.9 496.8,288.1 498.3,291.2 499.8,292.7 505.0,293.2" fill="none" stroke="#000" stroke-width="2.3" stroke-linejoin="round" stroke-linecap="round"/>
<polyline points="427.0,272.7 427.5,288.1 430.6,290.4 435.2,291.9 441.4,291.9 449.1,291.9 456.8,291.2 462.9,289.6 467.5,284.2 470.6,281.9 472.9,275.8 474.5,268.1 476.0,263.5 477.6,255.0 478.6,243.5 479.5,237.7 480.5,238.7 481.0,245.4 481.9,243.5 482.9,235.8 483.4,224.2 484.3,212.7 485.3,210.8 486.3,214.6 487.2,224.2 488.2,229.0 489.1,233.8 490.6,241.5 491.5,245.4 492.2,254.2 494.5,268.1 496.8,278.8 498.3,286.5 499.8,291.2 502.2,292.7 514.0,293.2" fill="none" stroke="#000" stroke-width="2.3" stroke-linejoin="round" stroke-linecap="round"/>
</g>
<line x1="427.79999999999995" y1="274" x2="427.79999999999995" y2="294.2" stroke="#000" stroke-width="2.2"/>
<rect x="426.9" y="206.0" width="88.5" height="88.2" fill="none" stroke="#000" stroke-width="1.3"/>
<path d="M426.9 205.4V294.8M426.29999999999995 294.2H516.0" stroke="#000" stroke-width="2" fill="none"/>
<path d="M424.7 223.6h2.2 M424.7 241.3h2.2 M424.7 258.9h2.2 M424.7 276.6h2.2 M433.6 294.2v2.2 M437.5 294.2v2.2 M440.2 294.2v2.2 M442.4 294.2v2.2 M444.1 294.2v2.2 M445.6 294.2v2.2 M446.9 294.2v2.2 M448.0 294.2v2.2 M449.0 294.2v3.0 M455.7 294.2v2.2 M459.6 294.2v2.2 M462.3 294.2v2.2 M464.5 294.2v2.2 M466.2 294.2v2.2 M467.7 294.2v2.2 M469.0 294.2v2.2 M470.1 294.2v2.2 M471.1 294.2v3.0 M477.8 294.2v2.2 M481.7 294.2v2.2 M484.5 294.2v2.2 M486.6 294.2v2.2 M488.4 294.2v2.2 M489.8 294.2v2.2 M491.1 294.2v2.2 M492.3 294.2v2.2 M493.3 294.2v3.0 M499.9 294.2v2.2 M503.8 294.2v2.2 M506.6 294.2v2.2 M508.7 294.2v2.2 M510.5 294.2v2.2 M512.0 294.2v2.2 M513.3 294.2v2.2 M514.4 294.2v2.2" stroke="#000" stroke-width="0.9" fill="none"/>
<text class="a" x="1.5" y="20" font-size="25">A</text>
<text class="s" x="2.3" y="49.6" font-size="15.5">Control</text>
<text class="s" x="2.6" y="145.3" font-size="15.5">Patient</text>
<text class="s" x="2.4" y="163.6" font-size="15.5">NEMO<tspan font-size="10.3" dy="-4.4">low</tspan></text>
<text class="s" x="2.8" y="245.4" font-size="15.5">Patient</text>
<text class="s" x="2.4" y="263.8" font-size="15.5">NEMO<tspan font-size="10.3" dy="-4.2">normal</tspan></text>
<line x1="110.2" y1="313.5" x2="144" y2="313.5" stroke="#000" stroke-width="1.9"/>
<polygon points="142,309.5 152,313.5 142,317.5" fill="#000"/>
<text class="s" x="153.8" y="317.8" font-size="15.5" textLength="32.7" lengthAdjust="spacingAndGlyphs">CD23</text>
<line x1="217.3" y1="313.5" x2="251.3" y2="313.5" stroke="#000" stroke-width="1.9"/>
<polygon points="249.3,309.5 259.3,313.5 249.3,317.5" fill="#000"/>
<text class="s" x="261.1" y="317.8" font-size="15.5" textLength="33.5" lengthAdjust="spacingAndGlyphs">CD54</text>
<line x1="325.7" y1="313.5" x2="358.9" y2="313.5" stroke="#000" stroke-width="1.9"/>
<polygon points="356.9,309.5 366.9,313.5 356.9,317.5" fill="#000"/>
<text class="s" x="367.4" y="317.8" font-size="15.5" textLength="34.2" lengthAdjust="spacingAndGlyphs">CD86</text>
<line x1="427.6" y1="313.5" x2="461.6" y2="313.5" stroke="#000" stroke-width="1.9"/>
<polygon points="459.6,309.5 469.6,313.5 459.6,317.5" fill="#000"/>
<text class="s" x="470.4" y="317.8" font-size="15.5" textLength="34.6" lengthAdjust="spacingAndGlyphs">CD95</text>
<text class="a" x="-0.2" y="366.5" font-size="25">B</text>
<text class="s" x="214.6" y="356.6" font-size="14">Control</text>
<path d="M211.7 441.4h1v1h-1zM205.8 427.0h1v1h-1zM200.3 432.2h1v1h-1zM200.6 422.7h1v1h-1zM206.5 432.9h1v1h-1zM208.1 426.1h1v1h-1zM205.5 431.6h1v1h-1zM198.3 435.5h1v1h-1zM207.0 447.5h1v1h-1zM206.5 431.1h1v1h-1zM211.4 433.3h1v1h-1zM209.9 429.6h1v1h-1zM206.5 438.7h1v1h-1zM208.8 432.8h1v1h-1zM200.3 434.9h1v1h-1zM205.9 436.7h1v1h-1zM206.5 439.1h1v1h-1zM205.3 433.3h1v1h-1zM208.7 424.9h1v1h-1zM203.6 428.7h1v1h-1zM215.0 431.4h1v1h-1zM208.6 436.0h1v1h-1zM204.2 421.9h1v1h-1zM210.1 429.4h1v1h-1zM208.9 423.5h1v1h-1zM203.4 440.2h1v1h-1zM212.4 423.5h1v1h-1zM199.1 431.7h1v1h-1zM209.0 433.0h1v1h-1zM207.0 425.6h1v1h-1zM208.3 439.3h1v1h-1zM203.4 422.7h1v1h-1zM201.9 437.0h1v1h-1zM197.2 431.4h1v1h-1zM200.7 431.1h1v1h-1zM204.3 432.1h1v1h-1zM212.7 434.7h1v1h-1zM211.9 431.1h1v1h-1zM203.2 434.5h1v1h-1zM191.9 431.7h1v1h-1zM206.3 424.0h1v1h-1zM207.7 428.4h1v1h-1zM193.7 430.6h1v1h-1zM200.8 428.6h1v1h-1zM204.8 440.1h1v1h-1zM206.0 431.8h1v1h-1zM207.4 420.2h1v1h-1zM211.5 425.0h1v1h-1zM207.6 424.7h1v1h-1zM200.8 429.4h1v1h-1zM214.6 436.5h1v1h-1zM202.6 430.2h1v1h-1zM200.0 431.8h1v1h-1zM202.7 436.7h1v1h-1zM199.0 429.8h1v1h-1zM201.5 427.3h1v1h-1zM208.9 432.8h1v1h-1zM208.3 439.7h1v1h-1zM211.0 423.1h1v1h-1zM208.1 420.6h1v1h-1zM205.2 444.5h1v1h-1zM204.6 429.6h1v1h-1zM206.3 432.1h1v1h-1zM205.6 427.1h1v1h-1zM210.7 437.8h1v1h-1zM204.5 434.0h1v1h-1zM208.7 438.7h1v1h-1zM207.4 436.5h1v1h-1zM204.2 425.0h1v1h-1zM203.1 438.6h1v1h-1zM210.2 433.0h1v1h-1zM202.8 434.0h1v1h-1zM213.5 440.8h1v1h-1zM202.2 431.7h1v1h-1zM198.5 424.6h1v1h-1zM206.4 432.2h1v1h-1zM210.1 440.2h1v1h-1zM209.5 440.6h1v1h-1zM202.9 424.7h1v1h-1zM207.9 449.4h1v1h-1zM207.2 424.5h1v1h-1zM206.7 441.3h1v1h-1zM200.5 437.2h1v1h-1zM202.6 440.3h1v1h-1zM209.3 434.0h1v1h-1zM215.1 429.3h1v1h-1zM202.2 444.1h1v1h-1zM201.3 446.3h1v1h-1zM205.3 425.3h1v1h-1zM205.5 432.8h1v1h-1zM206.5 430.8h1v1h-1zM210.7 416.9h1v1h-1zM202.8 430.3h1v1h-1zM214.2 419.0h1v1h-1zM203.9 424.6h1v1h-1zM202.3 436.2h1v1h-1zM207.5 441.4h1v1h-1zM202.6 433.7h1v1h-1zM211.1 437.9h1v1h-1zM203.9 439.3h1v1h-1zM201.1 443.7h1v1h-1zM206.2 431.3h1v1h-1zM206.8 437.5h1v1h-1zM213.9 431.1h1v1h-1zM203.7 435.8h1v1h-1zM201.3 421.0h1v1h-1zM209.5 429.5h1v1h-1zM210.9 425.3h1v1h-1zM191.6 433.8h1v1h-1zM206.2 442.4h1v1h-1zM208.0 434.0h1v1h-1zM208.3 429.6h1v1h-1zM205.9 423.2h1v1h-1zM208.0 426.8h1v1h-1zM203.4 436.5h1v1h-1zM209.9 425.5h1v1h-1zM215.1 428.2h1v1h-1zM209.5 438.2h1v1h-1zM206.6 433.1h1v1h-1zM214.1 437.8h1v1h-1zM207.6 420.1h1v1h-1zM201.9 439.6h1v1h-1zM206.4 425.8h1v1h-1zM202.4 430.0h1v1h-1zM208.8 434.5h1v1h-1zM210.3 426.7h1v1h-1zM210.2 428.7h1v1h-1zM204.1 443.3h1v1h-1zM205.9 431.1h1v1h-1zM204.5 429.5h1v1h-1zM213.0 440.9h1v1h-1zM208.9 433.2h1v1h-1zM210.5 431.5h1v1h-1zM207.7 434.6h1v1h-1zM205.9 442.7h1v1h-1zM213.9 440.6h1v1h-1zM196.3 443.9h1v1h-1zM208.9 429.1h1v1h-1zM205.4 439.4h1v1h-1zM211.1 437.6h1v1h-1zM206.2 432.2h1v1h-1zM209.5 431.4h1v1h-1zM201.2 427.9h1v1h-1zM204.8 434.2h1v1h-1zM216.4 423.1h1v1h-1zM207.8 431.4h1v1h-1zM206.9 440.8h1v1h-1zM211.5 431.0h1v1h-1zM202.8 423.1h1v1h-1zM205.2 440.1h1v1h-1zM204.2 436.6h1v1h-1zM208.9 434.6h1v1h-1zM210.7 431.3h1v1h-1zM201.5 424.4h1v1h-1zM209.9 429.6h1v1h-1zM204.0 437.4h1v1h-1zM201.7 443.5h1v1h-1zM208.7 428.6h1v1h-1zM202.5 439.0h1v1h-1zM199.8 427.8h1v1h-1zM205.5 433.3h1v1h-1zM205.6 434.5h1v1h-1zM203.8 431.2h1v1h-1zM211.6 436.2h1v1h-1zM203.3 443.1h1v1h-1zM195.9 432.5h1v1h-1zM208.7 438.3h1v1h-1zM206.0 429.5h1v1h-1zM208.3 430.7h1v1h-1zM207.8 413.4h1v1h-1zM207.3 426.9h1v1h-1zM210.0 436.9h1v1h-1zM209.0 429.4h1v1h-1zM207.6 429.8h1v1h-1zM206.5 431.1h1v1h-1zM201.3 444.9h1v1h-1zM209.0 418.6h1v1h-1zM209.8 422.9h1v1h-1zM204.4 428.2h1v1h-1zM202.9 433.6h1v1h-1zM203.9 422.6h1v1h-1zM205.5 434.4h1v1h-1zM214.0 429.3h1v1h-1zM199.8 429.5h1v1h-1zM208.6 426.3h1v1h-1zM202.0 435.6h1v1h-1zM205.4 433.4h1v1h-1zM202.5 426.6h1v1h-1zM203.9 431.0h1v1h-1zM203.9 434.8h1v1h-1zM208.1 435.6h1v1h-1zM207.8 426.2h1v1h-1zM200.1 437.2h1v1h-1zM205.6 432.8h1v1h-1zM199.9 430.6h1v1h-1zM202.4 426.4h1v1h-1zM202.5 422.3h1v1h-1zM205.9 439.6h1v1h-1zM202.1 432.6h1v1h-1zM200.3 436.4h1v1h-1zM214.4 424.0h1v1h-1zM204.4 441.3h1v1h-1zM207.3 432.7h1v1h-1zM195.7 431.0h1v1h-1zM209.9 441.3h1v1h-1zM208.6 428.2h1v1h-1zM202.2 420.2h1v1h-1zM200.3 439.3h1v1h-1zM205.0 423.3h1v1h-1zM211.8 421.1h1v1h-1zM211.6 429.9h1v1h-1zM207.1 436.4h1v1h-1zM206.8 440.3h1v1h-1zM205.6 429.9h1v1h-1zM202.3 422.6h1v1h-1zM202.2 438.4h1v1h-1zM209.5 441.0h1v1h-1zM218.6 436.6h1v1h-1zM207.9 423.5h1v1h-1zM204.3 446.3h1v1h-1zM208.0 431.1h1v1h-1zM207.0 419.7h1v1h-1zM201.5 423.5h1v1h-1zM195.2 437.0h1v1h-1zM210.1 430.9h1v1h-1zM207.2 425.5h1v1h-1zM207.7 437.0h1v1h-1zM212.9 442.1h1v1h-1zM207.8 431.2h1v1h-1zM201.5 428.1h1v1h-1zM208.5 435.7h1v1h-1zM205.6 442.8h1v1h-1zM208.6 432.1h1v1h-1zM204.6 432.5h1v1h-1zM200.9 425.6h1v1h-1zM207.2 428.2h1v1h-1zM204.2 439.9h1v1h-1zM204.6 440.5h1v1h-1zM205.5 441.9h1v1h-1zM207.7 420.6h1v1h-1zM211.4 430.7h1v1h-1zM196.1 432.7h1v1h-1zM206.2 423.6h1v1h-1zM202.6 435.6h1v1h-1zM212.3 439.4h1v1h-1zM211.4 439.3h1v1h-1zM193.6 427.3h1v1h-1zM206.4 414.5h1v1h-1zM209.2 437.8h1v1h-1zM201.8 429.5h1v1h-1zM201.0 431.9h1v1h-1zM205.3 432.0h1v1h-1zM200.6 434.5h1v1h-1zM203.9 438.2h1v1h-1zM207.0 422.4h1v1h-1zM198.6 432.5h1v1h-1zM203.2 435.1h1v1h-1zM209.4 432.1h1v1h-1zM197.4 424.2h1v1h-1zM208.2 425.2h1v1h-1z" fill="#333"/>
<path d="M260.3 433.3h1v1h-1zM252.0 428.2h1v1h-1zM242.4 413.5h1v1h-1zM243.8 440.1h1v1h-1zM233.7 430.4h1v1h-1zM245.4 436.1h1v1h-1zM236.1 441.6h1v1h-1zM225.6 446.0h1v1h-1zM227.2 431.3h1v1h-1zM262.4 426.3h1v1h-1zM224.7 438.3h1v1h-1zM233.2 428.4h1v1h-1zM236.3 430.9h1v1h-1zM232.6 429.2h1v1h-1zM266.3 428.3h1v1h-1zM257.5 423.7h1v1h-1zM252.1 425.4h1v1h-1zM240.6 440.9h1v1h-1zM237.6 421.6h1v1h-1zM238.7 435.1h1v1h-1zM252.6 427.3h1v1h-1zM242.2 436.4h1v1h-1zM224.6 436.9h1v1h-1zM235.6 439.9h1v1h-1zM244.4 434.4h1v1h-1zM214.7 438.0h1v1h-1zM240.5 429.0h1v1h-1zM238.4 426.8h1v1h-1zM248.8 440.2h1v1h-1zM253.3 430.8h1v1h-1zM268.4 439.6h1v1h-1zM233.6 435.8h1v1h-1zM224.8 436.8h1v1h-1zM256.2 444.0h1v1h-1zM239.2 422.7h1v1h-1zM244.9 445.9h1v1h-1zM248.9 444.8h1v1h-1zM257.9 446.0h1v1h-1zM253.2 429.7h1v1h-1zM253.8 453.8h1v1h-1zM237.8 422.4h1v1h-1zM273.5 435.7h1v1h-1zM237.4 431.8h1v1h-1zM226.6 442.8h1v1h-1zM247.4 430.6h1v1h-1zM240.2 432.9h1v1h-1zM259.7 432.7h1v1h-1zM263.2 427.4h1v1h-1zM237.7 432.7h1v1h-1zM239.0 435.6h1v1h-1zM260.2 443.1h1v1h-1zM233.1 446.5h1v1h-1zM248.5 447.2h1v1h-1zM243.2 429.5h1v1h-1zM256.7 439.1h1v1h-1zM240.1 436.3h1v1h-1zM247.9 437.6h1v1h-1zM222.9 428.8h1v1h-1zM246.9 437.4h1v1h-1zM237.8 423.1h1v1h-1zM263.1 431.4h1v1h-1zM233.7 448.8h1v1h-1zM261.5 441.7h1v1h-1zM257.2 438.6h1v1h-1zM233.4 437.1h1v1h-1zM251.1 439.7h1v1h-1zM251.4 427.3h1v1h-1zM237.9 433.8h1v1h-1zM242.8 429.3h1v1h-1zM221.5 428.9h1v1h-1zM250.0 435.0h1v1h-1zM252.0 420.6h1v1h-1zM241.3 442.7h1v1h-1zM219.8 430.1h1v1h-1zM225.4 446.8h1v1h-1zM245.9 431.2h1v1h-1zM247.9 434.6h1v1h-1zM258.6 443.0h1v1h-1zM258.1 436.8h1v1h-1zM256.5 440.5h1v1h-1zM259.6 420.2h1v1h-1zM250.5 435.6h1v1h-1zM247.9 433.4h1v1h-1zM245.4 439.3h1v1h-1zM248.7 436.2h1v1h-1zM231.1 427.6h1v1h-1zM234.9 423.2h1v1h-1zM238.7 429.9h1v1h-1zM221.3 423.5h1v1h-1zM239.5 431.8h1v1h-1zM274.8 439.0h1v1h-1zM235.5 432.8h1v1h-1zM232.3 431.0h1v1h-1zM241.4 435.6h1v1h-1zM238.6 442.5h1v1h-1zM255.9 449.2h1v1h-1zM229.6 442.3h1v1h-1zM239.9 424.0h1v1h-1zM240.8 423.7h1v1h-1zM247.8 456.0h1v1h-1zM264.3 447.3h1v1h-1zM260.2 422.3h1v1h-1zM251.5 436.0h1v1h-1zM250.8 427.2h1v1h-1zM222.0 453.9h1v1h-1zM261.7 436.2h1v1h-1zM239.8 437.5h1v1h-1zM230.7 444.3h1v1h-1zM248.0 434.2h1v1h-1zM240.4 435.6h1v1h-1zM247.4 432.3h1v1h-1zM258.6 435.8h1v1h-1zM244.1 429.2h1v1h-1zM262.8 443.5h1v1h-1zM253.5 420.8h1v1h-1zM242.3 443.4h1v1h-1zM247.5 445.0h1v1h-1zM241.0 442.0h1v1h-1zM250.9 416.5h1v1h-1zM240.6 434.3h1v1h-1zM237.2 429.7h1v1h-1zM266.5 432.4h1v1h-1zM255.2 424.4h1v1h-1zM218.8 434.8h1v1h-1zM250.7 429.6h1v1h-1zM253.5 440.8h1v1h-1zM240.2 435.7h1v1h-1zM237.3 444.6h1v1h-1zM269.3 436.8h1v1h-1zM238.9 430.9h1v1h-1zM243.1 442.5h1v1h-1zM237.4 447.6h1v1h-1zM230.2 437.1h1v1h-1zM264.4 447.0h1v1h-1zM241.4 442.0h1v1h-1zM279.6 440.8h1v1h-1zM217.9 440.6h1v1h-1zM275.8 423.6h1v1h-1zM256.2 418.7h1v1h-1zM265.9 427.1h1v1h-1zM257.2 441.2h1v1h-1zM208.9 428.6h1v1h-1zM249.1 423.7h1v1h-1zM245.0 428.5h1v1h-1zM263.0 429.9h1v1h-1zM234.7 441.5h1v1h-1zM261.7 432.7h1v1h-1zM250.0 438.8h1v1h-1zM238.7 427.3h1v1h-1zM252.6 432.1h1v1h-1zM229.0 443.7h1v1h-1zM251.7 436.0h1v1h-1zM236.1 434.9h1v1h-1zM254.3 438.3h1v1h-1zM234.6 429.9h1v1h-1zM250.6 436.4h1v1h-1zM256.1 425.7h1v1h-1zM259.3 447.4h1v1h-1zM258.4 435.2h1v1h-1zM256.7 424.7h1v1h-1zM241.9 451.5h1v1h-1zM224.0 429.1h1v1h-1zM256.1 429.5h1v1h-1zM237.8 427.9h1v1h-1zM267.3 428.7h1v1h-1zM241.0 422.4h1v1h-1zM255.9 434.4h1v1h-1zM253.7 446.6h1v1h-1zM247.0 426.4h1v1h-1zM233.0 437.5h1v1h-1zM262.1 424.8h1v1h-1zM242.7 434.8h1v1h-1zM253.8 428.0h1v1h-1zM250.6 440.9h1v1h-1zM245.4 434.8h1v1h-1zM254.5 439.0h1v1h-1zM261.4 425.7h1v1h-1zM261.7 432.1h1v1h-1zM230.8 432.9h1v1h-1zM229.9 435.7h1v1h-1zM257.6 417.3h1v1h-1zM231.3 442.8h1v1h-1zM242.7 441.8h1v1h-1zM228.8 436.9h1v1h-1zM211.6 432.7h1v1h-1zM256.5 443.6h1v1h-1zM267.0 432.9h1v1h-1zM234.4 433.8h1v1h-1zM222.3 448.2h1v1h-1zM260.5 427.1h1v1h-1zM268.6 422.9h1v1h-1zM252.6 428.7h1v1h-1zM223.8 440.8h1v1h-1zM232.0 446.0h1v1h-1zM234.5 437.5h1v1h-1zM239.9 437.2h1v1h-1zM238.5 442.5h1v1h-1zM253.9 435.2h1v1h-1zM245.9 450.4h1v1h-1zM236.7 433.2h1v1h-1zM256.0 434.4h1v1h-1zM224.8 436.7h1v1h-1zM240.3 428.6h1v1h-1zM247.6 426.8h1v1h-1zM241.9 427.4h1v1h-1zM266.0 431.3h1v1h-1zM251.9 437.0h1v1h-1zM255.0 433.4h1v1h-1zM255.8 435.4h1v1h-1zM214.6 441.2h1v1h-1zM230.0 444.3h1v1h-1zM248.5 432.4h1v1h-1zM211.7 423.0h1v1h-1zM230.5 434.3h1v1h-1zM229.7 452.2h1v1h-1zM251.9 434.2h1v1h-1zM233.0 434.3h1v1h-1zM242.6 432.5h1v1h-1zM245.6 441.6h1v1h-1zM223.4 439.6h1v1h-1zM259.2 423.8h1v1h-1zM243.2 432.9h1v1h-1zM232.0 444.1h1v1h-1zM242.7 444.5h1v1h-1zM251.1 432.9h1v1h-1zM249.4 432.3h1v1h-1zM225.9 448.3h1v1h-1zM251.6 443.6h1v1h-1zM223.4 445.8h1v1h-1zM256.6 434.1h1v1h-1zM218.7 439.1h1v1h-1zM237.2 435.0h1v1h-1zM246.0 428.7h1v1h-1zM244.3 435.8h1v1h-1zM264.8 432.8h1v1h-1zM275.5 423.5h1v1h-1zM245.2 444.9h1v1h-1zM226.2 442.3h1v1h-1zM250.6 430.5h1v1h-1zM244.1 447.4h1v1h-1zM240.4 438.2h1v1h-1zM252.5 443.9h1v1h-1zM218.1 427.3h1v1h-1zM228.4 435.2h1v1h-1zM254.6 440.9h1v1h-1zM243.5 447.2h1v1h-1zM245.6 440.8h1v1h-1zM236.8 442.7h1v1h-1zM237.6 445.1h1v1h-1zM258.6 448.3h1v1h-1zM239.6 427.4h1v1h-1zM257.0 436.7h1v1h-1zM238.1 426.2h1v1h-1zM254.8 419.9h1v1h-1zM240.8 444.1h1v1h-1zM243.1 439.3h1v1h-1zM252.8 439.3h1v1h-1zM260.2 438.9h1v1h-1zM240.2 426.8h1v1h-1zM241.8 431.0h1v1h-1zM252.2 444.1h1v1h-1zM255.6 429.2h1v1h-1zM248.6 435.3h1v1h-1zM240.9 445.8h1v1h-1zM254.2 437.4h1v1h-1zM228.1 417.6h1v1h-1zM237.4 445.0h1v1h-1zM243.2 435.6h1v1h-1zM243.0 439.4h1v1h-1zM247.2 448.3h1v1h-1zM244.2 433.7h1v1h-1zM265.0 439.2h1v1h-1zM255.4 438.5h1v1h-1zM245.7 437.9h1v1h-1zM253.0 435.6h1v1h-1zM222.8 448.3h1v1h-1zM239.3 431.9h1v1h-1zM241.0 430.6h1v1h-1zM234.6 436.1h1v1h-1zM257.2 432.1h1v1h-1zM251.1 424.8h1v1h-1zM254.9 426.0h1v1h-1zM254.5 429.0h1v1h-1zM237.2 426.9h1v1h-1zM229.4 435.6h1v1h-1zM233.2 435.2h1v1h-1zM260.0 427.7h1v1h-1zM241.8 435.2h1v1h-1zM238.0 436.1h1v1h-1zM249.8 443.0h1v1h-1zM236.4 434.9h1v1h-1zM244.9 444.8h1v1h-1zM233.2 438.1h1v1h-1zM256.4 438.8h1v1h-1zM236.0 428.7h1v1h-1zM221.6 434.0h1v1h-1zM241.5 424.7h1v1h-1zM257.0 435.6h1v1h-1zM242.5 431.9h1v1h-1zM251.9 432.7h1v1h-1zM252.2 431.2h1v1h-1zM258.4 421.9h1v1h-1zM233.6 450.4h1v1h-1zM260.8 446.3h1v1h-1zM236.3 442.0h1v1h-1zM259.7 441.0h1v1h-1zM244.8 446.7h1v1h-1zM250.4 425.3h1v1h-1zM278.0 433.1h1v1h-1zM261.7 428.6h1v1h-1zM234.6 443.4h1v1h-1zM256.0 428.8h1v1h-1zM248.1 425.3h1v1h-1zM220.3 446.4h1v1h-1zM231.8 442.6h1v1h-1zM260.1 436.8h1v1h-1zM265.9 436.1h1v1h-1zM249.8 435.1h1v1h-1zM251.7 437.6h1v1h-1zM233.8 436.4h1v1h-1zM243.4 457.2h1v1h-1zM261.2 427.9h1v1h-1zM252.3 421.6h1v1h-1zM248.1 449.0h1v1h-1zM248.1 445.0h1v1h-1zM241.6 439.4h1v1h-1zM249.1 418.6h1v1h-1zM237.1 450.7h1v1h-1zM236.2 445.6h1v1h-1zM268.2 432.8h1v1h-1zM259.3 436.9h1v1h-1zM238.8 440.7h1v1h-1zM250.9 427.5h1v1h-1zM239.2 426.0h1v1h-1zM241.6 435.7h1v1h-1zM231.9 422.9h1v1h-1zM255.7 444.0h1v1h-1zM234.3 437.3h1v1h-1zM235.3 416.8h1v1h-1zM273.6 434.8h1v1h-1zM228.8 446.9h1v1h-1zM256.5 445.1h1v1h-1zM255.9 438.5h1v1h-1zM264.4 431.5h1v1h-1zM248.2 427.1h1v1h-1zM231.4 438.6h1v1h-1zM247.8 423.4h1v1h-1zM251.6 442.5h1v1h-1zM229.5 434.7h1v1h-1zM267.5 426.8h1v1h-1zM254.0 440.6h1v1h-1zM248.4 436.3h1v1h-1zM253.6 436.9h1v1h-1zM246.8 424.3h1v1h-1zM248.5 429.3h1v1h-1zM267.1 450.0h1v1h-1zM258.7 417.9h1v1h-1zM259.0 435.0h1v1h-1zM231.0 427.9h1v1h-1zM259.2 429.2h1v1h-1zM245.0 436.1h1v1h-1zM256.1 414.3h1v1h-1zM261.3 427.8h1v1h-1zM241.2 440.7h1v1h-1zM248.9 417.8h1v1h-1zM253.7 433.5h1v1h-1zM232.2 432.3h1v1h-1zM226.0 443.5h1v1h-1zM264.6 428.8h1v1h-1zM238.8 425.3h1v1h-1zM236.1 428.9h1v1h-1zM247.7 448.4h1v1h-1zM260.4 441.4h1v1h-1zM234.1 443.1h1v1h-1zM236.0 429.9h1v1h-1zM255.4 433.7h1v1h-1zM278.3 433.5h1v1h-1zM242.6 441.5h1v1h-1zM231.5 442.2h1v1h-1zM266.1 432.4h1v1h-1zM240.2 444.6h1v1h-1zM231.8 439.8h1v1h-1zM239.4 438.5h1v1h-1zM236.3 441.1h1v1h-1zM254.6 447.8h1v1h-1zM241.6 439.3h1v1h-1zM222.6 432.0h1v1h-1zM248.4 424.9h1v1h-1zM243.9 428.9h1v1h-1zM252.7 439.3h1v1h-1zM240.4 441.0h1v1h-1zM238.9 437.1h1v1h-1zM253.2 438.9h1v1h-1zM255.0 447.4h1v1h-1zM237.5 435.2h1v1h-1zM223.0 444.5h1v1h-1zM231.0 432.6h1v1h-1zM239.7 439.3h1v1h-1zM242.1 433.8h1v1h-1zM246.7 432.9h1v1h-1zM244.9 428.2h1v1h-1zM237.9 427.2h1v1h-1zM257.8 441.1h1v1h-1zM254.8 437.1h1v1h-1zM238.6 440.5h1v1h-1zM224.0 418.9h1v1h-1zM231.8 448.3h1v1h-1zM250.4 446.7h1v1h-1zM237.6 444.0h1v1h-1zM267.4 440.7h1v1h-1zM250.5 443.2h1v1h-1zM241.5 449.3h1v1h-1zM230.5 431.4h1v1h-1zM245.7 429.7h1v1h-1zM269.2 438.1h1v1h-1zM237.8 449.0h1v1h-1zM263.2 430.8h1v1h-1zM267.1 442.2h1v1h-1zM239.1 432.0h1v1h-1zM250.9 443.6h1v1h-1z" fill="#2a2a2a"/>
<path d="M258.6 459.0h1v1h-1zM242.1 445.9h1v1h-1zM232.5 459.0h1v1h-1zM254.5 457.7h1v1h-1zM246.0 453.3h1v1h-1zM249.9 454.8h1v1h-1zM246.7 449.1h1v1h-1zM235.0 453.6h1v1h-1zM244.7 458.7h1v1h-1zM237.5 445.1h1v1h-1zM230.3 452.9h1v1h-1zM259.4 451.6h1v1h-1zM240.4 454.5h1v1h-1zM258.3 457.3h1v1h-1zM253.0 456.7h1v1h-1zM243.7 453.3h1v1h-1zM249.3 460.3h1v1h-1zM228.4 450.8h1v1h-1zM249.0 452.0h1v1h-1zM245.0 451.9h1v1h-1zM238.4 455.0h1v1h-1zM256.4 451.6h1v1h-1zM249.5 457.4h1v1h-1zM240.7 452.6h1v1h-1zM235.6 459.3h1v1h-1zM259.8 452.2h1v1h-1zM262.0 456.4h1v1h-1zM231.4 455.0h1v1h-1zM248.0 455.0h1v1h-1zM251.5 451.2h1v1h-1zM255.1 454.3h1v1h-1zM261.2 452.5h1v1h-1zM225.9 460.6h1v1h-1zM250.4 445.6h1v1h-1zM241.1 449.8h1v1h-1z" fill="#333"/>
<path d="M254.4 433.5h1v1h-1zM256.5 433.8h1v1h-1zM254.7 433.5h1v1h-1zM236.3 440.2h1v1h-1zM244.7 439.0h1v1h-1zM231.6 434.3h1v1h-1zM244.3 444.8h1v1h-1zM249.3 429.9h1v1h-1zM219.7 446.9h1v1h-1zM248.9 431.6h1v1h-1zM255.5 439.2h1v1h-1zM265.4 435.6h1v1h-1zM242.5 440.4h1v1h-1zM234.5 436.3h1v1h-1zM237.5 435.5h1v1h-1zM234.6 432.4h1v1h-1zM236.9 439.3h1v1h-1zM246.7 436.5h1v1h-1zM250.9 439.3h1v1h-1zM251.5 444.4h1v1h-1zM249.2 438.0h1v1h-1zM242.7 441.5h1v1h-1zM257.8 424.0h1v1h-1zM253.2 431.8h1v1h-1zM249.6 436.8h1v1h-1zM234.9 432.7h1v1h-1zM245.3 447.2h1v1h-1zM235.5 436.4h1v1h-1zM243.9 436.0h1v1h-1zM257.2 443.7h1v1h-1zM246.3 438.4h1v1h-1zM244.3 443.2h1v1h-1zM246.3 439.5h1v1h-1zM245.3 441.4h1v1h-1zM245.6 433.6h1v1h-1zM262.4 427.5h1v1h-1zM247.9 435.3h1v1h-1zM239.4 445.7h1v1h-1zM249.3 434.9h1v1h-1zM238.9 438.9h1v1h-1zM246.4 435.9h1v1h-1zM241.3 443.3h1v1h-1zM248.3 435.9h1v1h-1zM235.2 434.9h1v1h-1zM252.6 433.2h1v1h-1zM252.2 435.8h1v1h-1zM250.1 437.8h1v1h-1zM242.6 436.2h1v1h-1zM246.2 439.4h1v1h-1zM267.9 438.0h1v1h-1zM235.9 446.6h1v1h-1zM245.2 434.2h1v1h-1zM247.6 436.5h1v1h-1zM248.7 436.5h1v1h-1zM246.8 441.7h1v1h-1zM261.4 435.6h1v1h-1zM260.8 439.0h1v1h-1zM257.1 436.7h1v1h-1zM248.6 439.7h1v1h-1zM238.1 437.9h1v1h-1zM237.0 441.4h1v1h-1zM248.6 438.9h1v1h-1zM243.2 434.1h1v1h-1zM254.7 434.2h1v1h-1zM244.6 437.1h1v1h-1zM250.6 436.6h1v1h-1zM237.0 433.7h1v1h-1zM255.3 434.6h1v1h-1zM244.0 433.6h1v1h-1zM254.9 437.8h1v1h-1zM241.1 430.6h1v1h-1zM262.1 433.0h1v1h-1zM236.1 436.0h1v1h-1zM236.5 437.8h1v1h-1zM241.2 432.7h1v1h-1zM252.1 432.9h1v1h-1zM230.4 439.8h1v1h-1zM241.2 433.1h1v1h-1zM231.6 435.6h1v1h-1zM241.0 435.5h1v1h-1zM242.6 442.2h1v1h-1zM255.9 437.0h1v1h-1zM251.3 434.5h1v1h-1zM234.0 440.2h1v1h-1zM258.3 432.8h1v1h-1zM240.2 434.7h1v1h-1zM235.1 440.1h1v1h-1zM237.6 443.1h1v1h-1zM261.1 435.6h1v1h-1zM245.8 433.5h1v1h-1zM254.5 436.3h1v1h-1zM233.1 434.5h1v1h-1zM250.4 434.4h1v1h-1zM250.5 437.4h1v1h-1zM259.0 435.1h1v1h-1zM256.2 440.1h1v1h-1zM257.9 434.2h1v1h-1zM250.0 446.4h1v1h-1zM244.6 434.6h1v1h-1zM247.1 432.1h1v1h-1zM238.9 435.9h1v1h-1zM244.4 441.0h1v1h-1zM236.8 437.1h1v1h-1zM248.7 435.4h1v1h-1zM253.9 444.8h1v1h-1zM236.7 434.4h1v1h-1zM241.8 435.2h1v1h-1zM241.9 438.9h1v1h-1zM262.8 444.8h1v1h-1zM245.0 428.9h1v1h-1zM260.2 435.4h1v1h-1zM243.3 441.4h1v1h-1zM245.4 436.0h1v1h-1zM239.2 441.2h1v1h-1zM253.5 432.7h1v1h-1zM242.1 442.1h1v1h-1zM240.0 435.8h1v1h-1zM239.7 436.6h1v1h-1zM254.1 436.2h1v1h-1zM255.5 438.2h1v1h-1zM228.8 438.6h1v1h-1zM245.6 430.4h1v1h-1zM253.3 435.9h1v1h-1zM242.3 439.3h1v1h-1zM255.2 438.7h1v1h-1zM241.9 437.1h1v1h-1zM267.4 429.5h1v1h-1zM247.1 436.9h1v1h-1zM259.9 437.8h1v1h-1zM248.3 435.4h1v1h-1zM257.4 435.9h1v1h-1zM245.7 437.5h1v1h-1zM252.5 436.3h1v1h-1zM249.1 439.6h1v1h-1zM240.1 436.5h1v1h-1zM247.4 439.4h1v1h-1zM251.2 434.4h1v1h-1zM237.3 436.3h1v1h-1zM242.5 440.7h1v1h-1zM252.1 436.5h1v1h-1zM236.5 432.7h1v1h-1zM247.8 439.1h1v1h-1zM249.7 435.5h1v1h-1zM250.7 428.6h1v1h-1zM257.2 441.6h1v1h-1zM248.1 437.6h1v1h-1zM245.1 440.5h1v1h-1zM238.3 435.4h1v1h-1zM249.4 430.9h1v1h-1zM251.0 438.1h1v1h-1zM246.2 434.9h1v1h-1zM261.6 433.1h1v1h-1zM248.2 439.8h1v1h-1zM246.8 440.9h1v1h-1zM246.6 437.8h1v1h-1zM246.7 439.4h1v1h-1zM241.2 440.8h1v1h-1zM255.1 431.8h1v1h-1zM232.9 433.0h1v1h-1zM239.8 440.2h1v1h-1zM247.8 444.0h1v1h-1zM259.7 429.4h1v1h-1zM243.0 436.0h1v1h-1zM260.9 438.4h1v1h-1zM254.3 432.8h1v1h-1zM263.8 430.7h1v1h-1zM246.4 433.0h1v1h-1zM238.8 438.6h1v1h-1zM238.9 440.3h1v1h-1zM251.1 436.5h1v1h-1zM252.5 440.6h1v1h-1zM255.6 431.4h1v1h-1zM252.6 439.7h1v1h-1zM243.1 435.6h1v1h-1zM257.3 438.3h1v1h-1zM248.2 442.2h1v1h-1zM255.4 442.7h1v1h-1zM243.5 441.0h1v1h-1zM228.9 436.1h1v1h-1zM260.7 431.5h1v1h-1zM245.0 435.6h1v1h-1zM251.2 440.8h1v1h-1zM260.5 434.7h1v1h-1zM249.8 439.9h1v1h-1zM256.5 434.7h1v1h-1zM257.8 430.0h1v1h-1zM248.4 431.2h1v1h-1zM242.1 434.2h1v1h-1zM262.7 441.7h1v1h-1zM253.4 436.7h1v1h-1zM228.7 432.0h1v1h-1zM248.4 439.5h1v1h-1zM250.7 433.5h1v1h-1zM239.9 439.6h1v1h-1zM266.7 437.5h1v1h-1zM246.1 436.4h1v1h-1zM250.5 437.6h1v1h-1zM234.6 444.1h1v1h-1zM250.7 438.5h1v1h-1zM243.0 441.5h1v1h-1zM255.1 433.1h1v1h-1zM255.2 433.1h1v1h-1zM230.7 441.7h1v1h-1zM237.6 435.6h1v1h-1zM238.3 437.4h1v1h-1zM243.4 437.8h1v1h-1zM251.3 442.7h1v1h-1zM250.7 438.4h1v1h-1zM251.1 439.5h1v1h-1zM254.5 437.1h1v1h-1zM235.9 434.2h1v1h-1zM248.9 435.3h1v1h-1zM242.7 435.2h1v1h-1zM240.7 441.7h1v1h-1zM252.8 431.2h1v1h-1zM248.2 436.6h1v1h-1zM242.9 441.3h1v1h-1zM249.3 436.8h1v1h-1zM239.4 441.3h1v1h-1zM248.8 437.7h1v1h-1zM241.1 443.2h1v1h-1zM218.9 434.3h1v1h-1zM231.4 433.3h1v1h-1zM237.3 435.8h1v1h-1zM243.7 437.9h1v1h-1zM258.6 437.7h1v1h-1zM247.5 436.1h1v1h-1zM250.1 439.6h1v1h-1zM240.8 444.3h1v1h-1zM246.7 440.1h1v1h-1zM225.2 439.8h1v1h-1zM243.6 442.4h1v1h-1zM255.5 437.1h1v1h-1zM251.9 435.0h1v1h-1zM239.1 442.1h1v1h-1zM235.8 435.9h1v1h-1zM235.9 434.2h1v1h-1zM243.2 440.4h1v1h-1zM238.3 440.5h1v1h-1zM229.9 435.3h1v1h-1zM239.2 440.2h1v1h-1zM257.1 426.6h1v1h-1zM247.8 443.0h1v1h-1zM247.4 443.2h1v1h-1zM256.7 436.8h1v1h-1zM233.9 435.5h1v1h-1zM259.7 431.9h1v1h-1zM236.8 436.0h1v1h-1zM257.6 436.0h1v1h-1zM232.9 435.8h1v1h-1zM252.9 440.6h1v1h-1zM260.1 437.4h1v1h-1zM250.2 432.6h1v1h-1zM241.0 432.0h1v1h-1zM245.4 438.5h1v1h-1zM246.5 433.1h1v1h-1zM251.9 439.8h1v1h-1zM256.4 427.3h1v1h-1zM224.9 434.8h1v1h-1zM251.6 440.3h1v1h-1zM252.9 436.3h1v1h-1zM248.6 435.6h1v1h-1zM240.2 433.6h1v1h-1zM274.1 432.9h1v1h-1zM251.6 438.4h1v1h-1zM254.3 435.8h1v1h-1zM255.5 443.7h1v1h-1zM240.7 435.1h1v1h-1zM237.6 436.3h1v1h-1zM235.9 439.2h1v1h-1zM252.8 440.9h1v1h-1zM257.6 434.2h1v1h-1zM247.8 433.6h1v1h-1zM247.1 437.1h1v1h-1zM250.9 436.1h1v1h-1zM237.6 441.6h1v1h-1zM244.8 431.6h1v1h-1zM231.8 441.0h1v1h-1zM231.2 441.0h1v1h-1zM259.9 437.5h1v1h-1zM253.8 438.3h1v1h-1zM241.4 438.2h1v1h-1zM230.5 440.9h1v1h-1zM252.2 436.8h1v1h-1zM255.9 435.2h1v1h-1zM232.2 443.8h1v1h-1zM247.1 434.3h1v1h-1zM241.8 435.9h1v1h-1zM247.8 431.7h1v1h-1zM247.3 435.3h1v1h-1zM252.1 435.0h1v1h-1zM251.7 432.8h1v1h-1zM249.5 435.3h1v1h-1zM255.9 437.3h1v1h-1zM255.2 434.0h1v1h-1zM241.3 437.2h1v1h-1zM237.5 436.7h1v1h-1zM257.0 431.5h1v1h-1zM241.6 437.6h1v1h-1zM261.5 443.5h1v1h-1zM241.5 435.5h1v1h-1zM248.5 434.0h1v1h-1zM229.6 440.9h1v1h-1zM249.9 437.6h1v1h-1zM251.3 437.0h1v1h-1zM241.3 439.8h1v1h-1zM246.3 437.5h1v1h-1zM237.1 438.1h1v1h-1zM245.7 433.6h1v1h-1zM239.7 435.9h1v1h-1zM246.3 434.4h1v1h-1zM237.0 438.1h1v1h-1zM236.1 439.1h1v1h-1zM239.0 436.8h1v1h-1zM255.3 427.3h1v1h-1zM234.7 436.0h1v1h-1zM244.9 433.6h1v1h-1zM238.1 435.3h1v1h-1zM237.8 438.1h1v1h-1zM240.5 436.8h1v1h-1zM247.1 439.4h1v1h-1zM240.9 435.7h1v1h-1zM249.3 428.2h1v1h-1zM246.6 433.3h1v1h-1zM253.9 434.8h1v1h-1zM239.3 441.6h1v1h-1zM241.4 433.9h1v1h-1zM249.6 429.0h1v1h-1zM245.3 439.6h1v1h-1zM236.0 441.5h1v1h-1zM243.7 435.0h1v1h-1zM232.6 443.7h1v1h-1zM257.9 434.3h1v1h-1zM248.9 429.2h1v1h-1zM247.2 438.2h1v1h-1zM239.6 435.0h1v1h-1zM244.4 433.9h1v1h-1zM232.2 441.2h1v1h-1zM254.2 438.2h1v1h-1zM253.1 440.1h1v1h-1zM242.5 425.7h1v1h-1zM246.4 434.6h1v1h-1zM236.6 439.7h1v1h-1zM237.2 433.1h1v1h-1zM266.9 433.1h1v1h-1zM248.1 438.9h1v1h-1zM251.5 435.8h1v1h-1zM250.8 436.0h1v1h-1zM242.4 436.2h1v1h-1zM252.0 438.9h1v1h-1zM249.6 430.6h1v1h-1zM244.8 438.9h1v1h-1zM243.3 439.0h1v1h-1zM247.9 441.2h1v1h-1zM226.8 439.5h1v1h-1zM255.9 438.4h1v1h-1zM241.9 436.4h1v1h-1zM243.6 438.7h1v1h-1zM252.6 433.9h1v1h-1zM255.8 437.6h1v1h-1zM228.4 437.2h1v1h-1zM245.1 434.3h1v1h-1zM247.2 436.5h1v1h-1zM245.6 435.8h1v1h-1zM248.7 434.3h1v1h-1zM250.5 429.5h1v1h-1zM246.9 434.9h1v1h-1zM243.3 438.2h1v1h-1zM239.7 425.2h1v1h-1zM233.8 437.3h1v1h-1zM243.9 435.2h1v1h-1zM241.2 440.0h1v1h-1zM246.1 432.8h1v1h-1zM239.4 441.2h1v1h-1zM247.5 438.1h1v1h-1zM246.7 437.6h1v1h-1zM241.4 433.5h1v1h-1zM237.7 434.3h1v1h-1zM261.9 437.6h1v1h-1zM246.9 436.3h1v1h-1zM232.9 441.2h1v1h-1zM232.0 442.3h1v1h-1zM241.6 431.9h1v1h-1zM258.7 431.7h1v1h-1zM244.1 436.4h1v1h-1zM233.8 439.8h1v1h-1zM234.9 437.3h1v1h-1zM237.3 443.9h1v1h-1zM247.4 442.3h1v1h-1zM242.0 438.1h1v1h-1zM251.1 436.6h1v1h-1zM244.6 441.3h1v1h-1zM249.7 436.7h1v1h-1zM252.5 425.7h1v1h-1zM237.7 439.6h1v1h-1zM243.2 436.1h1v1h-1zM233.6 436.7h1v1h-1zM258.1 433.6h1v1h-1zM237.7 436.6h1v1h-1zM255.3 433.4h1v1h-1zM232.5 439.2h1v1h-1zM243.5 437.7h1v1h-1zM231.3 434.1h1v1h-1zM244.0 438.4h1v1h-1zM262.0 440.4h1v1h-1zM256.7 439.4h1v1h-1zM255.7 438.3h1v1h-1zM251.8 434.7h1v1h-1zM242.8 442.2h1v1h-1zM236.2 435.6h1v1h-1zM244.6 437.7h1v1h-1zM240.5 435.7h1v1h-1zM239.4 434.7h1v1h-1zM244.5 449.9h1v1h-1zM237.3 447.2h1v1h-1zM235.9 438.6h1v1h-1zM246.1 439.2h1v1h-1zM243.4 433.0h1v1h-1zM241.6 436.0h1v1h-1zM233.7 437.8h1v1h-1zM246.7 431.0h1v1h-1zM235.4 441.0h1v1h-1zM238.1 435.1h1v1h-1zM241.1 434.9h1v1h-1zM251.2 437.2h1v1h-1zM264.6 433.5h1v1h-1zM249.4 433.8h1v1h-1zM254.1 430.1h1v1h-1zM239.2 436.7h1v1h-1zM271.4 442.7h1v1h-1zM263.6 434.9h1v1h-1zM233.4 440.3h1v1h-1zM255.5 433.2h1v1h-1zM264.2 442.5h1v1h-1zM231.8 436.8h1v1h-1zM244.1 436.1h1v1h-1zM245.2 437.1h1v1h-1zM245.3 446.9h1v1h-1zM241.9 432.6h1v1h-1zM257.0 439.6h1v1h-1zM236.3 434.4h1v1h-1zM238.1 429.4h1v1h-1zM235.3 439.7h1v1h-1zM234.9 437.0h1v1h-1zM243.8 434.8h1v1h-1zM250.7 437.0h1v1h-1zM257.4 437.0h1v1h-1zM242.0 443.7h1v1h-1zM249.3 438.4h1v1h-1zM248.9 435.3h1v1h-1zM238.9 442.4h1v1h-1zM240.0 436.3h1v1h-1zM254.5 439.8h1v1h-1zM247.5 444.4h1v1h-1zM245.5 446.0h1v1h-1zM258.5 436.3h1v1h-1zM244.9 441.3h1v1h-1zM232.1 441.1h1v1h-1zM253.1 442.3h1v1h-1zM258.8 436.7h1v1h-1zM250.3 432.7h1v1h-1zM251.0 433.3h1v1h-1zM235.4 444.8h1v1h-1zM261.9 434.8h1v1h-1zM250.2 445.7h1v1h-1zM235.4 443.9h1v1h-1zM244.1 439.5h1v1h-1zM246.5 442.8h1v1h-1zM257.0 435.1h1v1h-1zM257.3 439.4h1v1h-1zM258.3 431.5h1v1h-1zM254.1 436.0h1v1h-1zM248.1 430.6h1v1h-1zM265.2 434.6h1v1h-1zM249.9 430.7h1v1h-1zM244.9 437.7h1v1h-1zM247.2 432.4h1v1h-1zM249.4 434.9h1v1h-1zM253.9 431.6h1v1h-1zM256.4 431.8h1v1h-1zM237.0 439.6h1v1h-1zM252.0 437.9h1v1h-1zM241.5 436.2h1v1h-1zM239.0 442.0h1v1h-1zM230.7 433.8h1v1h-1zM236.6 439.9h1v1h-1zM233.9 441.2h1v1h-1zM230.9 431.7h1v1h-1zM249.5 438.1h1v1h-1zM243.8 442.3h1v1h-1zM242.5 435.2h1v1h-1zM245.5 442.1h1v1h-1zM245.8 444.2h1v1h-1zM258.9 439.7h1v1h-1zM255.0 441.0h1v1h-1zM249.7 427.3h1v1h-1zM248.0 436.1h1v1h-1zM235.5 430.6h1v1h-1zM247.3 432.4h1v1h-1zM246.2 433.6h1v1h-1zM249.0 432.7h1v1h-1zM248.5 436.4h1v1h-1zM242.4 436.2h1v1h-1zM247.8 426.3h1v1h-1zM229.8 438.9h1v1h-1zM246.8 437.7h1v1h-1zM249.1 432.7h1v1h-1zM258.1 438.5h1v1h-1zM249.4 435.5h1v1h-1zM240.1 435.2h1v1h-1zM249.8 436.9h1v1h-1zM253.8 437.0h1v1h-1zM243.1 441.7h1v1h-1zM233.6 432.9h1v1h-1zM249.6 434.6h1v1h-1zM233.5 432.4h1v1h-1zM247.1 442.1h1v1h-1zM258.8 435.1h1v1h-1zM243.9 433.8h1v1h-1zM263.0 434.7h1v1h-1zM243.5 440.1h1v1h-1zM256.5 435.9h1v1h-1zM256.7 430.8h1v1h-1zM250.6 438.7h1v1h-1zM250.4 439.0h1v1h-1zM248.3 438.9h1v1h-1zM227.9 435.9h1v1h-1zM253.5 431.7h1v1h-1zM239.6 445.4h1v1h-1zM247.2 437.8h1v1h-1zM250.5 443.2h1v1h-1zM243.9 433.9h1v1h-1zM249.4 442.0h1v1h-1zM230.9 437.9h1v1h-1zM243.1 437.7h1v1h-1zM252.4 437.4h1v1h-1zM232.7 437.3h1v1h-1zM245.3 436.7h1v1h-1zM255.6 434.6h1v1h-1zM240.9 436.7h1v1h-1zM247.0 439.5h1v1h-1zM230.9 433.1h1v1h-1zM246.2 440.5h1v1h-1zM246.1 437.8h1v1h-1zM261.8 435.6h1v1h-1zM249.0 436.4h1v1h-1zM255.2 437.9h1v1h-1zM244.6 439.8h1v1h-1zM250.2 434.5h1v1h-1zM253.8 444.0h1v1h-1zM236.5 433.7h1v1h-1zM245.4 436.1h1v1h-1zM248.6 436.5h1v1h-1zM248.4 441.0h1v1h-1zM256.8 427.5h1v1h-1zM251.3 436.4h1v1h-1zM251.3 436.5h1v1h-1zM249.6 435.6h1v1h-1zM240.8 436.8h1v1h-1zM253.6 436.2h1v1h-1zM246.4 441.7h1v1h-1zM253.7 432.6h1v1h-1zM239.5 436.9h1v1h-1zM251.2 440.4h1v1h-1zM232.2 443.5h1v1h-1zM247.1 437.6h1v1h-1zM253.9 437.1h1v1h-1zM248.6 440.4h1v1h-1zM256.4 431.4h1v1h-1zM232.3 434.2h1v1h-1zM248.7 435.6h1v1h-1zM244.6 435.1h1v1h-1zM239.4 439.6h1v1h-1zM246.3 438.0h1v1h-1zM251.8 442.0h1v1h-1zM264.8 432.6h1v1h-1zM257.8 436.3h1v1h-1zM250.8 440.8h1v1h-1zM241.4 436.9h1v1h-1zM255.3 438.2h1v1h-1zM262.6 437.5h1v1h-1zM247.6 436.2h1v1h-1zM251.0 429.2h1v1h-1zM257.9 436.9h1v1h-1zM241.2 437.7h1v1h-1zM250.8 431.7h1v1h-1zM253.4 427.6h1v1h-1zM259.1 434.4h1v1h-1zM248.6 435.6h1v1h-1zM241.7 441.1h1v1h-1zM238.1 437.4h1v1h-1zM250.7 431.6h1v1h-1zM251.5 432.8h1v1h-1zM254.0 434.7h1v1h-1zM257.8 435.4h1v1h-1zM238.2 441.5h1v1h-1zM257.4 439.4h1v1h-1zM233.3 434.0h1v1h-1zM254.8 437.8h1v1h-1zM243.8 436.4h1v1h-1zM247.1 428.3h1v1h-1zM235.5 433.2h1v1h-1zM255.4 434.4h1v1h-1zM228.2 438.1h1v1h-1zM243.1 434.3h1v1h-1zM233.5 434.6h1v1h-1zM248.9 434.8h1v1h-1zM253.7 441.2h1v1h-1zM242.9 431.0h1v1h-1zM237.9 438.0h1v1h-1zM252.9 435.4h1v1h-1zM246.1 437.7h1v1h-1zM257.4 438.4h1v1h-1zM243.0 434.8h1v1h-1zM245.9 434.5h1v1h-1zM238.3 441.7h1v1h-1zM247.7 432.4h1v1h-1zM249.6 432.3h1v1h-1zM237.3 431.4h1v1h-1zM235.9 436.0h1v1h-1zM248.6 436.2h1v1h-1zM248.9 436.7h1v1h-1zM242.9 441.7h1v1h-1zM236.3 433.9h1v1h-1zM264.3 435.8h1v1h-1zM249.4 446.7h1v1h-1zM237.6 444.0h1v1h-1zM246.0 436.0h1v1h-1zM237.7 437.4h1v1h-1zM252.8 436.0h1v1h-1zM242.4 438.7h1v1h-1zM257.4 435.8h1v1h-1zM242.5 435.6h1v1h-1zM249.5 434.1h1v1h-1zM258.4 433.3h1v1h-1zM255.7 435.1h1v1h-1zM252.3 431.6h1v1h-1zM244.1 433.1h1v1h-1zM239.5 437.3h1v1h-1zM236.9 445.4h1v1h-1zM261.4 438.7h1v1h-1zM246.3 434.5h1v1h-1zM231.8 441.5h1v1h-1zM236.1 437.6h1v1h-1zM241.1 437.3h1v1h-1zM261.0 434.9h1v1h-1zM245.1 440.5h1v1h-1zM241.1 429.7h1v1h-1zM239.6 436.5h1v1h-1zM240.0 441.3h1v1h-1zM256.4 431.8h1v1h-1zM246.9 437.5h1v1h-1zM242.5 434.7h1v1h-1zM250.0 434.8h1v1h-1zM262.2 435.0h1v1h-1zM246.5 437.5h1v1h-1zM248.1 434.9h1v1h-1zM251.8 439.4h1v1h-1zM248.5 438.1h1v1h-1zM234.2 436.4h1v1h-1zM247.0 435.4h1v1h-1zM256.0 437.2h1v1h-1zM245.9 434.2h1v1h-1zM242.9 436.1h1v1h-1zM260.3 430.6h1v1h-1zM254.3 434.5h1v1h-1zM260.9 438.9h1v1h-1zM239.1 438.9h1v1h-1zM234.4 440.8h1v1h-1zM244.8 432.8h1v1h-1zM246.2 439.1h1v1h-1zM268.0 437.8h1v1h-1zM249.7 436.2h1v1h-1zM226.3 433.1h1v1h-1zM225.3 434.2h1v1h-1zM255.5 440.8h1v1h-1zM248.7 434.9h1v1h-1zM253.4 445.2h1v1h-1zM248.3 442.0h1v1h-1zM257.9 432.3h1v1h-1zM247.2 433.5h1v1h-1zM249.1 434.8h1v1h-1zM238.6 440.3h1v1h-1zM245.7 435.9h1v1h-1zM254.1 437.7h1v1h-1zM258.0 442.7h1v1h-1zM235.7 439.7h1v1h-1zM231.4 441.9h1v1h-1zM262.9 431.3h1v1h-1zM257.3 438.3h1v1h-1zM248.9 427.9h1v1h-1zM237.1 436.3h1v1h-1zM247.0 437.2h1v1h-1zM253.5 436.5h1v1h-1zM244.4 433.1h1v1h-1zM239.7 436.7h1v1h-1zM265.8 433.3h1v1h-1zM246.1 440.7h1v1h-1zM253.7 438.5h1v1h-1zM247.9 443.0h1v1h-1zM242.0 442.8h1v1h-1zM260.1 436.4h1v1h-1zM241.5 434.9h1v1h-1zM248.0 428.9h1v1h-1zM257.3 432.3h1v1h-1zM235.9 439.9h1v1h-1zM246.7 433.4h1v1h-1zM257.5 431.0h1v1h-1zM240.8 431.2h1v1h-1zM261.9 437.4h1v1h-1zM234.1 440.1h1v1h-1zM240.8 434.1h1v1h-1zM244.2 429.3h1v1h-1zM248.1 436.6h1v1h-1zM259.1 432.0h1v1h-1zM233.9 434.4h1v1h-1zM241.7 440.6h1v1h-1zM266.2 437.0h1v1h-1zM249.8 432.0h1v1h-1zM233.6 433.4h1v1h-1zM252.7 440.6h1v1h-1zM244.0 431.9h1v1h-1zM253.1 435.7h1v1h-1zM239.3 431.4h1v1h-1zM231.0 444.3h1v1h-1zM242.4 438.4h1v1h-1zM251.1 439.8h1v1h-1zM265.8 434.1h1v1h-1zM256.6 432.3h1v1h-1zM233.9 438.0h1v1h-1zM228.7 432.7h1v1h-1zM239.9 439.9h1v1h-1zM243.7 430.1h1v1h-1zM245.9 434.6h1v1h-1zM241.6 435.0h1v1h-1zM245.8 439.9h1v1h-1zM250.9 436.4h1v1h-1zM238.5 431.5h1v1h-1zM263.7 440.9h1v1h-1zM231.7 439.8h1v1h-1zM250.0 436.8h1v1h-1zM247.9 435.0h1v1h-1zM259.1 436.8h1v1h-1zM255.3 437.0h1v1h-1zM248.0 434.9h1v1h-1zM256.3 428.6h1v1h-1zM258.3 434.7h1v1h-1zM248.5 434.5h1v1h-1zM230.2 434.9h1v1h-1zM249.9 434.6h1v1h-1zM250.3 432.9h1v1h-1zM230.9 437.9h1v1h-1zM242.4 434.2h1v1h-1zM258.3 428.4h1v1h-1zM247.4 435.5h1v1h-1zM258.0 436.1h1v1h-1zM249.6 437.5h1v1h-1zM248.3 435.7h1v1h-1zM245.4 440.2h1v1h-1zM265.4 430.9h1v1h-1zM248.1 432.4h1v1h-1zM263.9 441.8h1v1h-1zM249.2 442.1h1v1h-1zM247.9 432.0h1v1h-1zM261.4 429.1h1v1h-1zM237.8 442.3h1v1h-1zM254.4 438.3h1v1h-1zM242.9 434.4h1v1h-1zM236.7 442.6h1v1h-1zM252.2 444.8h1v1h-1zM250.7 438.5h1v1h-1zM241.5 435.5h1v1h-1zM250.6 433.2h1v1h-1zM256.0 440.0h1v1h-1zM235.8 440.3h1v1h-1zM248.8 437.4h1v1h-1zM244.0 441.6h1v1h-1zM248.6 439.1h1v1h-1zM249.6 434.0h1v1h-1zM237.0 444.3h1v1h-1zM261.5 435.1h1v1h-1zM256.5 440.9h1v1h-1zM260.1 439.2h1v1h-1zM245.8 439.6h1v1h-1zM242.3 438.2h1v1h-1zM237.7 431.4h1v1h-1zM238.0 431.6h1v1h-1zM250.5 439.0h1v1h-1zM250.3 433.4h1v1h-1zM245.8 431.8h1v1h-1zM250.4 438.6h1v1h-1zM262.8 431.2h1v1h-1zM245.2 436.5h1v1h-1zM267.1 435.6h1v1h-1zM250.0 430.6h1v1h-1zM246.2 445.4h1v1h-1zM258.8 438.2h1v1h-1zM242.9 433.7h1v1h-1zM248.4 434.2h1v1h-1zM266.0 432.6h1v1h-1zM242.7 440.2h1v1h-1zM248.4 433.2h1v1h-1zM234.8 434.9h1v1h-1zM260.1 433.2h1v1h-1zM245.6 440.5h1v1h-1zM260.9 438.5h1v1h-1zM249.7 434.2h1v1h-1zM238.6 438.3h1v1h-1zM246.2 437.8h1v1h-1zM228.2 433.3h1v1h-1zM254.1 441.8h1v1h-1zM247.6 431.9h1v1h-1zM251.5 432.9h1v1h-1zM244.0 436.0h1v1h-1zM253.6 440.3h1v1h-1zM251.5 432.5h1v1h-1zM255.6 434.0h1v1h-1zM233.9 441.8h1v1h-1zM262.6 431.1h1v1h-1zM243.0 434.9h1v1h-1zM242.9 441.8h1v1h-1zM253.8 436.8h1v1h-1zM247.8 433.8h1v1h-1zM241.8 434.6h1v1h-1zM252.0 438.8h1v1h-1zM243.7 439.9h1v1h-1zM240.1 445.6h1v1h-1zM237.1 435.7h1v1h-1zM246.2 440.1h1v1h-1zM248.6 433.2h1v1h-1zM252.0 439.4h1v1h-1zM236.0 429.6h1v1h-1zM251.2 432.3h1v1h-1zM256.2 442.9h1v1h-1zM257.8 436.9h1v1h-1zM254.0 435.4h1v1h-1zM239.1 437.1h1v1h-1zM243.0 438.1h1v1h-1zM236.0 433.8h1v1h-1zM247.4 437.1h1v1h-1zM247.3 440.4h1v1h-1zM234.1 440.6h1v1h-1zM244.2 436.9h1v1h-1zM256.0 436.3h1v1h-1zM254.9 442.1h1v1h-1zM245.4 429.8h1v1h-1zM241.9 435.5h1v1h-1zM248.1 433.5h1v1h-1zM247.9 437.6h1v1h-1zM230.3 444.7h1v1h-1zM240.8 432.1h1v1h-1zM240.0 440.4h1v1h-1zM273.0 426.2h1v1h-1zM241.1 441.9h1v1h-1zM240.6 437.6h1v1h-1zM242.7 437.1h1v1h-1zM248.7 432.7h1v1h-1zM237.3 432.1h1v1h-1zM249.4 446.0h1v1h-1zM256.5 435.4h1v1h-1zM258.0 438.0h1v1h-1zM243.6 434.6h1v1h-1zM247.4 433.6h1v1h-1zM246.4 438.5h1v1h-1zM235.3 433.5h1v1h-1zM243.6 434.0h1v1h-1zM245.8 438.1h1v1h-1zM249.8 439.1h1v1h-1zM247.3 437.8h1v1h-1zM245.5 437.2h1v1h-1zM245.9 436.9h1v1h-1zM243.7 438.3h1v1h-1zM254.1 441.2h1v1h-1zM260.5 438.3h1v1h-1zM240.7 432.3h1v1h-1zM232.6 437.1h1v1h-1zM248.6 440.5h1v1h-1zM247.3 436.8h1v1h-1zM236.3 440.6h1v1h-1zM262.7 433.5h1v1h-1zM265.3 437.7h1v1h-1zM239.6 440.0h1v1h-1zM248.7 438.0h1v1h-1zM236.2 439.3h1v1h-1zM253.8 431.4h1v1h-1zM251.2 441.2h1v1h-1zM249.1 433.9h1v1h-1zM245.0 439.9h1v1h-1zM251.3 435.9h1v1h-1zM240.6 434.7h1v1h-1zM244.4 432.5h1v1h-1zM250.7 444.0h1v1h-1zM244.7 436.8h1v1h-1zM247.8 439.0h1v1h-1zM244.4 439.1h1v1h-1zM238.7 433.4h1v1h-1zM241.6 439.3h1v1h-1zM240.6 434.6h1v1h-1zM247.7 428.9h1v1h-1zM241.6 428.2h1v1h-1zM241.8 444.5h1v1h-1zM232.6 442.6h1v1h-1zM241.0 435.2h1v1h-1zM244.0 444.7h1v1h-1zM241.5 437.6h1v1h-1zM242.2 436.2h1v1h-1zM252.9 437.3h1v1h-1zM247.2 434.1h1v1h-1zM248.1 435.8h1v1h-1zM246.1 437.2h1v1h-1zM241.4 432.3h1v1h-1zM249.2 429.5h1v1h-1zM254.0 433.8h1v1h-1zM238.9 441.6h1v1h-1zM240.8 437.6h1v1h-1zM238.7 439.2h1v1h-1zM249.1 435.5h1v1h-1zM243.9 431.0h1v1h-1zM256.0 433.2h1v1h-1zM245.1 435.0h1v1h-1zM248.4 435.7h1v1h-1zM243.0 436.0h1v1h-1zM248.9 442.5h1v1h-1zM237.0 441.8h1v1h-1zM247.4 438.4h1v1h-1zM241.0 441.2h1v1h-1zM252.2 428.9h1v1h-1zM232.1 444.8h1v1h-1zM241.2 436.4h1v1h-1zM233.3 438.1h1v1h-1zM246.7 434.8h1v1h-1zM257.4 434.8h1v1h-1zM253.7 436.1h1v1h-1zM247.8 435.5h1v1h-1zM242.1 442.7h1v1h-1zM256.7 440.2h1v1h-1zM240.5 435.8h1v1h-1zM247.6 435.3h1v1h-1zM252.3 442.4h1v1h-1zM241.4 435.7h1v1h-1zM233.7 442.9h1v1h-1zM248.1 437.9h1v1h-1zM240.6 437.4h1v1h-1zM243.5 434.4h1v1h-1zM251.5 441.3h1v1h-1zM257.1 434.4h1v1h-1zM272.7 431.5h1v1h-1zM246.1 431.7h1v1h-1zM244.2 438.2h1v1h-1zM241.0 436.9h1v1h-1zM237.8 436.0h1v1h-1zM235.6 436.2h1v1h-1zM227.5 435.5h1v1h-1zM242.3 436.6h1v1h-1zM256.8 431.4h1v1h-1zM240.4 440.6h1v1h-1zM238.3 436.2h1v1h-1zM230.2 426.4h1v1h-1zM265.3 437.7h1v1h-1zM263.9 434.5h1v1h-1zM234.1 439.4h1v1h-1zM238.3 438.4h1v1h-1zM250.0 438.6h1v1h-1zM239.5 438.0h1v1h-1zM250.2 441.6h1v1h-1zM243.9 444.3h1v1h-1zM252.0 437.7h1v1h-1zM241.2 438.6h1v1h-1zM251.4 432.4h1v1h-1zM252.1 437.2h1v1h-1zM243.8 433.9h1v1h-1zM244.9 439.5h1v1h-1zM261.3 435.8h1v1h-1zM243.8 439.7h1v1h-1zM255.0 438.8h1v1h-1zM244.0 427.6h1v1h-1zM248.0 436.3h1v1h-1zM236.4 438.0h1v1h-1zM237.6 436.5h1v1h-1zM256.8 433.4h1v1h-1zM226.3 442.9h1v1h-1zM245.4 436.9h1v1h-1zM229.9 431.3h1v1h-1zM242.9 435.0h1v1h-1zM247.7 435.8h1v1h-1zM249.0 434.8h1v1h-1zM249.3 434.4h1v1h-1zM250.8 438.7h1v1h-1zM233.1 438.1h1v1h-1zM243.1 437.0h1v1h-1zM262.0 432.7h1v1h-1zM245.0 437.8h1v1h-1zM228.1 444.2h1v1h-1zM251.5 435.6h1v1h-1zM255.4 446.0h1v1h-1zM239.9 442.6h1v1h-1zM260.9 432.1h1v1h-1zM250.0 431.3h1v1h-1zM248.5 433.9h1v1h-1zM251.3 434.8h1v1h-1zM257.7 440.3h1v1h-1zM261.2 434.9h1v1h-1zM243.7 435.9h1v1h-1zM241.1 436.9h1v1h-1zM237.7 436.7h1v1h-1zM253.9 439.8h1v1h-1zM249.4 430.5h1v1h-1zM260.3 442.4h1v1h-1zM253.8 434.5h1v1h-1zM252.1 435.9h1v1h-1zM233.4 442.6h1v1h-1zM254.2 438.0h1v1h-1zM252.5 436.3h1v1h-1zM236.9 443.7h1v1h-1zM243.6 435.9h1v1h-1zM250.1 430.1h1v1h-1zM244.9 439.2h1v1h-1zM243.6 427.9h1v1h-1zM248.4 440.0h1v1h-1zM236.1 446.8h1v1h-1zM248.1 436.9h1v1h-1zM251.0 440.3h1v1h-1zM248.8 436.3h1v1h-1zM249.2 431.9h1v1h-1zM263.2 428.6h1v1h-1zM244.9 434.1h1v1h-1zM247.6 436.4h1v1h-1zM255.5 435.5h1v1h-1zM245.1 445.0h1v1h-1zM237.9 437.7h1v1h-1zM243.8 440.9h1v1h-1zM247.1 441.5h1v1h-1zM240.3 438.7h1v1h-1zM251.5 436.4h1v1h-1zM248.5 430.5h1v1h-1zM250.8 435.3h1v1h-1zM262.5 431.5h1v1h-1zM234.5 445.9h1v1h-1zM263.3 434.3h1v1h-1zM229.6 435.8h1v1h-1zM249.3 438.2h1v1h-1zM255.6 440.5h1v1h-1zM252.0 435.6h1v1h-1zM259.0 441.7h1v1h-1zM249.6 435.1h1v1h-1zM253.5 436.7h1v1h-1zM246.4 437.3h1v1h-1zM257.3 441.6h1v1h-1zM255.6 437.5h1v1h-1zM243.0 431.1h1v1h-1zM245.0 438.9h1v1h-1zM239.3 439.2h1v1h-1zM239.7 438.6h1v1h-1zM223.3 440.9h1v1h-1zM252.8 436.3h1v1h-1zM252.1 432.5h1v1h-1zM247.1 435.2h1v1h-1zM247.1 436.7h1v1h-1zM247.7 433.8h1v1h-1zM242.0 430.4h1v1h-1zM243.4 427.4h1v1h-1zM250.2 444.0h1v1h-1zM242.2 435.6h1v1h-1zM247.4 438.4h1v1h-1zM252.7 434.1h1v1h-1zM244.1 438.7h1v1h-1zM249.7 431.7h1v1h-1zM251.6 443.0h1v1h-1zM231.2 436.8h1v1h-1zM243.5 433.1h1v1h-1zM235.7 444.4h1v1h-1zM248.4 438.3h1v1h-1zM254.4 431.3h1v1h-1zM257.0 433.3h1v1h-1zM255.8 435.8h1v1h-1zM258.7 437.8h1v1h-1zM246.8 440.7h1v1h-1zM241.5 439.9h1v1h-1zM234.7 437.5h1v1h-1zM263.6 438.6h1v1h-1zM238.8 442.9h1v1h-1zM244.2 438.7h1v1h-1zM243.8 439.5h1v1h-1zM242.7 442.7h1v1h-1zM243.8 434.8h1v1h-1zM242.6 432.0h1v1h-1zM253.0 440.5h1v1h-1zM258.8 437.5h1v1h-1zM245.9 442.1h1v1h-1zM258.9 433.2h1v1h-1zM235.7 436.1h1v1h-1zM247.1 441.1h1v1h-1zM256.3 437.3h1v1h-1zM256.5 434.8h1v1h-1zM244.9 428.5h1v1h-1zM242.2 436.4h1v1h-1zM256.9 435.4h1v1h-1zM243.7 437.7h1v1h-1zM242.9 429.7h1v1h-1zM241.0 436.9h1v1h-1zM244.7 434.5h1v1h-1zM243.0 439.5h1v1h-1zM233.9 437.2h1v1h-1zM241.5 436.5h1v1h-1zM247.4 439.5h1v1h-1zM223.9 438.5h1v1h-1zM236.1 431.4h1v1h-1zM248.2 437.1h1v1h-1zM240.3 436.7h1v1h-1zM240.0 443.0h1v1h-1zM261.9 439.7h1v1h-1zM236.8 440.6h1v1h-1zM249.6 436.8h1v1h-1zM245.3 436.0h1v1h-1zM241.3 434.8h1v1h-1zM240.7 446.7h1v1h-1zM251.1 433.8h1v1h-1zM241.2 439.5h1v1h-1zM263.0 441.7h1v1h-1zM237.9 432.7h1v1h-1zM241.3 438.6h1v1h-1zM241.8 435.1h1v1h-1zM264.0 430.1h1v1h-1zM252.4 435.6h1v1h-1zM242.3 444.7h1v1h-1zM235.7 439.0h1v1h-1zM244.9 434.3h1v1h-1zM243.0 437.5h1v1h-1zM269.3 436.4h1v1h-1zM243.8 431.7h1v1h-1zM248.9 439.7h1v1h-1zM270.3 428.2h1v1h-1zM233.4 431.2h1v1h-1zM233.7 442.8h1v1h-1zM245.4 434.2h1v1h-1zM247.8 436.4h1v1h-1zM245.8 441.4h1v1h-1zM253.9 434.6h1v1h-1zM257.7 439.6h1v1h-1zM244.2 435.3h1v1h-1zM242.9 433.6h1v1h-1zM228.7 443.1h1v1h-1zM257.4 426.3h1v1h-1zM243.6 433.4h1v1h-1zM243.3 438.7h1v1h-1zM256.2 437.7h1v1h-1zM253.2 440.5h1v1h-1zM249.4 441.0h1v1h-1zM254.1 433.4h1v1h-1zM252.9 434.6h1v1h-1zM256.1 440.4h1v1h-1zM234.8 440.4h1v1h-1zM238.1 435.7h1v1h-1zM242.7 439.3h1v1h-1zM252.4 436.0h1v1h-1zM228.8 440.7h1v1h-1zM255.5 425.6h1v1h-1zM241.2 435.1h1v1h-1zM248.6 435.5h1v1h-1zM255.3 434.4h1v1h-1zM238.0 430.1h1v1h-1zM230.3 437.6h1v1h-1zM251.6 432.3h1v1h-1zM251.9 434.7h1v1h-1zM254.6 441.1h1v1h-1zM250.2 432.8h1v1h-1zM255.7 436.6h1v1h-1zM247.2 438.2h1v1h-1zM253.0 440.7h1v1h-1zM235.6 442.7h1v1h-1zM249.3 441.7h1v1h-1zM246.0 440.0h1v1h-1zM255.5 441.1h1v1h-1zM244.5 442.7h1v1h-1zM241.8 432.7h1v1h-1zM239.0 432.5h1v1h-1zM259.2 439.3h1v1h-1zM230.5 437.7h1v1h-1zM248.9 437.4h1v1h-1zM241.7 434.6h1v1h-1zM253.9 435.7h1v1h-1zM238.9 438.7h1v1h-1zM240.8 436.4h1v1h-1zM253.2 435.3h1v1h-1zM268.1 429.0h1v1h-1zM238.7 443.8h1v1h-1zM248.3 436.0h1v1h-1zM254.9 435.2h1v1h-1zM238.8 443.6h1v1h-1zM247.6 437.5h1v1h-1zM248.1 436.5h1v1h-1zM238.7 433.7h1v1h-1zM232.5 441.8h1v1h-1zM247.2 435.9h1v1h-1zM233.2 433.0h1v1h-1zM243.2 438.4h1v1h-1zM245.0 436.6h1v1h-1zM239.2 440.7h1v1h-1zM249.6 441.6h1v1h-1zM250.7 432.4h1v1h-1zM241.0 436.7h1v1h-1zM256.4 436.0h1v1h-1zM247.0 442.3h1v1h-1zM254.5 438.5h1v1h-1zM231.2 437.7h1v1h-1zM264.2 437.6h1v1h-1zM258.4 442.8h1v1h-1zM252.7 428.5h1v1h-1zM249.7 435.7h1v1h-1zM239.3 441.6h1v1h-1zM240.7 442.4h1v1h-1zM250.3 434.5h1v1h-1zM239.9 444.7h1v1h-1zM244.9 438.4h1v1h-1zM246.0 433.6h1v1h-1zM243.6 436.4h1v1h-1zM231.5 435.5h1v1h-1zM238.8 438.9h1v1h-1zM247.3 432.0h1v1h-1zM241.2 437.7h1v1h-1zM238.7 431.0h1v1h-1zM254.0 436.0h1v1h-1zM243.4 435.3h1v1h-1zM249.3 434.9h1v1h-1zM247.3 441.0h1v1h-1zM259.5 441.9h1v1h-1zM237.8 437.6h1v1h-1zM234.9 433.8h1v1h-1zM234.2 436.5h1v1h-1zM242.2 433.4h1v1h-1zM245.9 438.9h1v1h-1zM241.7 434.0h1v1h-1zM253.1 435.2h1v1h-1zM248.0 432.5h1v1h-1zM251.7 439.5h1v1h-1zM237.0 433.6h1v1h-1zM243.1 439.4h1v1h-1zM253.5 440.4h1v1h-1zM237.7 430.1h1v1h-1zM238.7 437.8h1v1h-1zM249.7 431.2h1v1h-1zM245.9 435.5h1v1h-1zM250.0 432.9h1v1h-1zM244.7 435.6h1v1h-1zM248.7 436.6h1v1h-1zM249.9 437.2h1v1h-1zM253.2 432.3h1v1h-1zM276.8 439.0h1v1h-1zM234.7 440.5h1v1h-1zM241.9 434.2h1v1h-1zM256.0 426.7h1v1h-1zM239.8 439.5h1v1h-1zM232.2 441.8h1v1h-1zM242.4 437.2h1v1h-1zM259.4 435.8h1v1h-1zM256.0 441.2h1v1h-1zM241.5 435.7h1v1h-1zM258.6 438.0h1v1h-1zM260.6 444.6h1v1h-1zM238.7 437.3h1v1h-1zM250.0 431.3h1v1h-1zM237.5 431.9h1v1h-1zM244.0 437.4h1v1h-1zM262.1 445.3h1v1h-1zM245.1 436.3h1v1h-1zM249.1 438.0h1v1h-1zM246.6 442.5h1v1h-1zM256.5 433.5h1v1h-1zM226.7 438.9h1v1h-1zM259.9 441.5h1v1h-1zM242.3 435.0h1v1h-1zM246.9 434.3h1v1h-1zM238.1 435.3h1v1h-1zM263.2 440.8h1v1h-1zM249.7 440.0h1v1h-1zM241.7 434.9h1v1h-1zM252.8 438.0h1v1h-1zM235.7 442.9h1v1h-1zM227.2 436.3h1v1h-1zM257.6 441.3h1v1h-1zM271.3 433.2h1v1h-1zM245.4 438.6h1v1h-1zM246.9 432.6h1v1h-1zM243.8 435.7h1v1h-1zM255.0 435.0h1v1h-1zM247.6 436.6h1v1h-1zM244.3 441.3h1v1h-1zM242.6 439.2h1v1h-1zM257.4 435.0h1v1h-1zM256.1 434.0h1v1h-1zM248.8 431.1h1v1h-1zM255.8 440.4h1v1h-1zM245.6 430.7h1v1h-1zM243.7 437.2h1v1h-1zM256.7 426.7h1v1h-1zM248.9 437.0h1v1h-1zM233.8 440.8h1v1h-1zM231.4 440.7h1v1h-1zM254.7 432.3h1v1h-1zM236.7 434.1h1v1h-1zM242.6 439.1h1v1h-1zM252.1 434.6h1v1h-1zM251.0 432.1h1v1h-1zM244.8 430.1h1v1h-1zM258.4 430.5h1v1h-1zM239.4 444.1h1v1h-1zM254.6 431.8h1v1h-1zM255.7 446.6h1v1h-1zM248.7 432.9h1v1h-1zM242.0 444.1h1v1h-1zM241.6 434.1h1v1h-1zM268.0 428.0h1v1h-1zM238.6 431.0h1v1h-1zM240.2 435.6h1v1h-1zM250.0 430.6h1v1h-1zM252.2 433.7h1v1h-1zM258.8 433.2h1v1h-1zM245.8 429.3h1v1h-1zM230.6 440.6h1v1h-1zM263.8 428.4h1v1h-1zM243.9 436.3h1v1h-1zM247.1 439.3h1v1h-1zM252.2 439.2h1v1h-1zM223.3 433.0h1v1h-1zM266.1 439.6h1v1h-1zM231.2 436.4h1v1h-1zM250.0 433.2h1v1h-1zM241.6 431.1h1v1h-1zM237.8 445.6h1v1h-1zM247.4 436.3h1v1h-1zM251.5 433.2h1v1h-1zM249.4 436.1h1v1h-1zM251.9 432.3h1v1h-1zM245.3 441.4h1v1h-1zM250.8 432.8h1v1h-1zM229.3 440.8h1v1h-1zM249.6 434.1h1v1h-1zM237.6 437.4h1v1h-1zM248.9 439.0h1v1h-1zM250.7 437.9h1v1h-1zM240.8 438.8h1v1h-1zM245.7 435.2h1v1h-1zM249.0 446.5h1v1h-1zM241.3 436.3h1v1h-1zM247.1 436.1h1v1h-1zM245.1 439.0h1v1h-1zM238.4 440.0h1v1h-1zM255.1 433.6h1v1h-1zM263.7 429.2h1v1h-1zM250.5 436.9h1v1h-1zM248.9 433.5h1v1h-1zM234.2 439.4h1v1h-1zM231.1 441.9h1v1h-1zM253.3 436.6h1v1h-1zM252.9 437.3h1v1h-1zM248.6 436.5h1v1h-1zM240.5 436.7h1v1h-1zM246.0 434.5h1v1h-1zM245.6 432.2h1v1h-1zM249.9 436.1h1v1h-1zM227.4 437.5h1v1h-1zM237.3 437.2h1v1h-1zM260.7 431.9h1v1h-1zM247.9 432.7h1v1h-1zM243.5 439.9h1v1h-1zM249.9 436.2h1v1h-1zM255.1 440.1h1v1h-1zM263.8 427.7h1v1h-1zM232.5 433.4h1v1h-1zM240.0 441.1h1v1h-1zM246.9 434.3h1v1h-1zM243.4 433.2h1v1h-1zM254.5 437.0h1v1h-1zM244.9 430.0h1v1h-1zM240.3 431.7h1v1h-1zM241.6 439.8h1v1h-1zM239.2 440.1h1v1h-1zM238.9 444.8h1v1h-1zM244.7 434.8h1v1h-1zM253.5 439.4h1v1h-1zM237.2 433.2h1v1h-1zM236.4 440.1h1v1h-1zM240.5 435.4h1v1h-1zM248.9 433.2h1v1h-1zM250.0 438.0h1v1h-1zM240.2 433.9h1v1h-1zM255.9 429.2h1v1h-1zM248.9 443.3h1v1h-1zM241.4 432.7h1v1h-1zM251.8 436.2h1v1h-1zM238.8 439.5h1v1h-1zM245.6 442.3h1v1h-1zM252.3 432.7h1v1h-1zM252.6 437.6h1v1h-1zM244.2 432.8h1v1h-1zM253.0 437.0h1v1h-1zM238.9 437.0h1v1h-1zM249.2 440.2h1v1h-1zM261.1 440.5h1v1h-1zM242.6 441.2h1v1h-1zM237.0 437.2h1v1h-1zM250.9 435.3h1v1h-1zM241.4 437.4h1v1h-1zM259.4 437.7h1v1h-1zM239.8 443.1h1v1h-1zM244.1 437.1h1v1h-1zM248.3 437.0h1v1h-1zM238.4 435.8h1v1h-1zM244.9 440.2h1v1h-1zM230.9 441.7h1v1h-1zM258.7 430.9h1v1h-1zM246.2 434.8h1v1h-1zM235.8 443.2h1v1h-1zM251.2 442.3h1v1h-1zM259.4 440.0h1v1h-1zM246.5 439.8h1v1h-1zM250.6 436.0h1v1h-1zM252.2 434.3h1v1h-1zM245.8 439.0h1v1h-1zM254.6 437.3h1v1h-1zM239.5 438.7h1v1h-1zM264.9 435.2h1v1h-1zM252.8 431.5h1v1h-1zM249.9 438.1h1v1h-1zM241.2 437.6h1v1h-1zM245.6 439.6h1v1h-1zM247.5 430.9h1v1h-1zM253.1 445.3h1v1h-1zM233.7 433.9h1v1h-1zM241.5 433.5h1v1h-1zM237.5 438.5h1v1h-1zM265.9 438.7h1v1h-1zM245.0 438.1h1v1h-1zM253.6 438.4h1v1h-1zM243.8 432.6h1v1h-1zM238.0 445.1h1v1h-1zM252.9 437.4h1v1h-1zM253.5 433.1h1v1h-1zM243.0 437.5h1v1h-1zM234.5 434.4h1v1h-1zM248.6 434.9h1v1h-1zM231.7 435.2h1v1h-1zM249.4 435.4h1v1h-1zM258.9 442.2h1v1h-1zM240.0 440.3h1v1h-1zM245.6 434.2h1v1h-1zM253.7 440.0h1v1h-1zM230.7 432.3h1v1h-1zM257.0 439.1h1v1h-1zM255.1 439.5h1v1h-1zM240.5 434.2h1v1h-1zM239.6 440.0h1v1h-1zM253.3 429.2h1v1h-1zM232.9 440.2h1v1h-1zM238.0 439.4h1v1h-1zM237.5 434.0h1v1h-1zM237.0 439.0h1v1h-1zM251.3 433.6h1v1h-1zM243.0 435.6h1v1h-1zM249.1 436.4h1v1h-1zM247.3 434.4h1v1h-1zM246.0 436.5h1v1h-1zM245.4 437.9h1v1h-1zM236.0 440.5h1v1h-1zM257.5 436.2h1v1h-1zM232.5 442.9h1v1h-1zM244.9 437.5h1v1h-1zM248.4 444.6h1v1h-1zM237.9 438.0h1v1h-1zM244.0 440.0h1v1h-1zM254.2 439.9h1v1h-1zM249.8 438.1h1v1h-1zM250.7 438.7h1v1h-1zM250.9 434.7h1v1h-1zM267.7 436.4h1v1h-1zM223.4 439.9h1v1h-1zM248.4 432.3h1v1h-1zM246.3 436.9h1v1h-1zM241.0 438.8h1v1h-1zM234.5 443.4h1v1h-1zM230.5 432.1h1v1h-1zM247.7 429.0h1v1h-1zM255.0 438.9h1v1h-1zM252.5 430.1h1v1h-1zM250.0 432.7h1v1h-1zM254.2 439.4h1v1h-1zM232.7 435.5h1v1h-1zM234.6 444.2h1v1h-1zM256.4 431.2h1v1h-1zM244.4 425.2h1v1h-1zM253.5 438.0h1v1h-1zM238.1 439.1h1v1h-1zM241.9 433.5h1v1h-1zM245.1 437.6h1v1h-1zM256.3 437.1h1v1h-1zM244.0 439.6h1v1h-1zM250.0 436.6h1v1h-1zM251.2 440.3h1v1h-1zM248.1 441.0h1v1h-1zM246.1 435.3h1v1h-1zM235.8 433.2h1v1h-1zM268.9 427.4h1v1h-1zM247.6 437.8h1v1h-1zM239.6 433.6h1v1h-1zM256.0 432.9h1v1h-1zM247.0 436.2h1v1h-1zM240.8 437.9h1v1h-1zM248.1 438.0h1v1h-1zM254.6 434.6h1v1h-1zM250.2 429.9h1v1h-1zM248.8 433.4h1v1h-1zM247.1 432.4h1v1h-1zM258.4 433.2h1v1h-1zM263.3 429.2h1v1h-1zM241.7 440.2h1v1h-1zM263.1 435.2h1v1h-1zM242.5 435.6h1v1h-1zM230.8 431.9h1v1h-1zM269.9 428.9h1v1h-1zM243.3 439.7h1v1h-1zM251.4 436.3h1v1h-1zM246.5 442.3h1v1h-1zM266.7 435.0h1v1h-1zM235.5 431.7h1v1h-1zM244.7 441.7h1v1h-1zM250.0 435.5h1v1h-1zM251.0 437.4h1v1h-1zM248.3 439.0h1v1h-1zM251.6 436.7h1v1h-1zM239.5 438.8h1v1h-1zM236.9 439.3h1v1h-1zM242.9 432.2h1v1h-1zM267.0 432.9h1v1h-1zM254.8 433.1h1v1h-1zM247.4 441.0h1v1h-1zM236.0 438.1h1v1h-1zM258.4 433.4h1v1h-1zM251.0 435.4h1v1h-1zM241.9 434.9h1v1h-1zM247.3 436.8h1v1h-1zM242.8 439.0h1v1h-1zM245.4 437.9h1v1h-1zM253.0 436.7h1v1h-1zM244.5 432.6h1v1h-1zM242.2 428.7h1v1h-1zM234.9 438.0h1v1h-1zM249.4 440.0h1v1h-1zM245.6 430.0h1v1h-1zM250.2 438.4h1v1h-1zM237.3 438.8h1v1h-1zM232.7 433.1h1v1h-1zM246.8 438.5h1v1h-1zM253.1 437.9h1v1h-1zM243.6 438.6h1v1h-1zM250.2 433.2h1v1h-1zM246.9 440.0h1v1h-1zM255.3 432.2h1v1h-1zM248.0 434.8h1v1h-1zM251.3 439.8h1v1h-1zM241.9 437.8h1v1h-1zM247.8 438.2h1v1h-1zM251.1 437.3h1v1h-1zM247.1 440.1h1v1h-1zM219.8 431.0h1v1h-1zM237.3 435.8h1v1h-1zM243.5 438.4h1v1h-1zM241.0 433.7h1v1h-1zM241.4 434.0h1v1h-1zM248.7 440.0h1v1h-1zM250.8 438.9h1v1h-1zM251.9 435.5h1v1h-1zM229.7 433.4h1v1h-1zM240.4 439.4h1v1h-1zM250.3 437.7h1v1h-1zM255.2 434.0h1v1h-1zM245.4 438.0h1v1h-1zM245.1 434.9h1v1h-1zM231.8 438.4h1v1h-1zM251.3 429.0h1v1h-1zM246.5 439.1h1v1h-1zM252.4 438.5h1v1h-1zM243.6 439.3h1v1h-1zM253.3 438.9h1v1h-1zM242.5 438.2h1v1h-1zM248.0 435.1h1v1h-1zM240.1 440.0h1v1h-1zM237.3 441.1h1v1h-1zM234.6 437.5h1v1h-1zM245.9 435.1h1v1h-1zM256.8 434.7h1v1h-1zM246.4 434.2h1v1h-1zM231.8 439.5h1v1h-1zM242.4 441.8h1v1h-1zM253.6 432.6h1v1h-1zM233.0 437.3h1v1h-1zM252.3 434.7h1v1h-1zM260.6 434.3h1v1h-1zM242.5 438.7h1v1h-1zM246.4 440.8h1v1h-1zM243.7 433.3h1v1h-1zM250.0 437.0h1v1h-1zM249.7 435.9h1v1h-1zM261.9 430.2h1v1h-1zM236.3 434.2h1v1h-1zM256.0 429.9h1v1h-1zM242.5 430.8h1v1h-1zM252.1 434.8h1v1h-1zM234.5 441.6h1v1h-1zM242.5 433.6h1v1h-1zM249.2 436.5h1v1h-1zM248.6 438.6h1v1h-1zM236.4 445.7h1v1h-1zM261.5 434.9h1v1h-1zM229.3 442.9h1v1h-1zM241.6 441.5h1v1h-1zM244.5 433.5h1v1h-1zM240.5 429.0h1v1h-1zM238.2 443.1h1v1h-1zM264.1 438.7h1v1h-1zM238.5 438.4h1v1h-1zM250.2 436.0h1v1h-1zM224.7 438.1h1v1h-1zM241.8 439.4h1v1h-1zM234.2 439.6h1v1h-1zM245.7 446.3h1v1h-1zM259.4 432.0h1v1h-1zM237.4 437.0h1v1h-1zM247.6 440.3h1v1h-1zM238.9 438.3h1v1h-1zM245.2 436.9h1v1h-1zM251.0 430.1h1v1h-1zM247.2 435.0h1v1h-1zM245.9 439.6h1v1h-1zM225.5 435.0h1v1h-1zM236.7 443.6h1v1h-1zM259.3 436.9h1v1h-1zM240.5 439.8h1v1h-1zM236.9 431.4h1v1h-1zM254.5 434.3h1v1h-1zM236.8 437.6h1v1h-1zM257.2 437.3h1v1h-1zM244.7 428.2h1v1h-1zM249.6 441.3h1v1h-1zM247.9 434.1h1v1h-1zM245.3 440.9h1v1h-1zM238.6 430.7h1v1h-1zM243.9 442.2h1v1h-1zM267.2 432.3h1v1h-1zM250.3 432.8h1v1h-1zM243.0 432.9h1v1h-1zM238.2 437.3h1v1h-1zM261.0 435.0h1v1h-1zM244.3 436.8h1v1h-1zM239.5 444.5h1v1h-1zM262.3 439.5h1v1h-1zM243.1 437.8h1v1h-1zM231.3 439.7h1v1h-1zM256.4 437.2h1v1h-1zM242.6 433.3h1v1h-1zM243.7 442.2h1v1h-1zM242.2 436.7h1v1h-1zM259.4 430.6h1v1h-1zM227.1 437.0h1v1h-1zM244.7 436.3h1v1h-1zM258.4 433.5h1v1h-1zM247.6 437.4h1v1h-1zM246.2 433.0h1v1h-1zM255.7 440.2h1v1h-1zM230.9 436.0h1v1h-1zM238.6 435.1h1v1h-1zM234.9 448.7h1v1h-1zM249.5 436.1h1v1h-1zM261.2 434.9h1v1h-1zM247.0 443.6h1v1h-1zM238.8 433.2h1v1h-1zM251.4 433.9h1v1h-1zM250.6 431.7h1v1h-1zM230.4 445.8h1v1h-1zM257.1 438.1h1v1h-1zM248.1 435.5h1v1h-1zM252.9 432.4h1v1h-1zM239.2 436.5h1v1h-1zM246.8 434.6h1v1h-1zM238.2 438.0h1v1h-1zM240.7 436.6h1v1h-1zM245.1 436.8h1v1h-1zM237.9 434.0h1v1h-1zM251.5 439.0h1v1h-1zM231.3 441.1h1v1h-1zM258.2 435.3h1v1h-1zM247.9 433.0h1v1h-1zM263.4 429.6h1v1h-1zM258.6 435.3h1v1h-1zM251.9 437.6h1v1h-1zM249.1 441.8h1v1h-1zM241.5 440.7h1v1h-1zM246.7 435.0h1v1h-1zM252.8 436.7h1v1h-1zM242.3 434.9h1v1h-1zM255.9 433.7h1v1h-1zM236.4 436.4h1v1h-1zM258.3 437.7h1v1h-1zM234.4 434.9h1v1h-1zM238.0 444.8h1v1h-1zM233.5 441.3h1v1h-1zM258.1 435.6h1v1h-1zM251.4 435.2h1v1h-1zM248.1 436.6h1v1h-1zM236.2 443.3h1v1h-1zM249.6 442.1h1v1h-1zM248.3 433.8h1v1h-1zM255.2 432.6h1v1h-1zM239.3 439.5h1v1h-1zM255.1 442.4h1v1h-1zM248.7 434.1h1v1h-1zM251.2 437.1h1v1h-1zM240.3 439.8h1v1h-1zM259.9 432.8h1v1h-1zM256.3 443.0h1v1h-1zM267.7 432.2h1v1h-1zM233.9 438.1h1v1h-1zM251.0 435.0h1v1h-1zM253.7 436.0h1v1h-1zM242.9 439.5h1v1h-1zM241.9 431.2h1v1h-1zM247.6 439.4h1v1h-1zM262.3 434.9h1v1h-1zM245.4 444.0h1v1h-1zM243.4 433.1h1v1h-1zM259.6 433.1h1v1h-1zM243.8 445.6h1v1h-1zM237.3 443.1h1v1h-1zM237.5 438.0h1v1h-1zM250.1 440.9h1v1h-1zM238.9 437.0h1v1h-1zM248.2 441.5h1v1h-1zM237.0 440.1h1v1h-1zM247.0 427.7h1v1h-1zM234.6 437.6h1v1h-1zM251.5 437.7h1v1h-1zM238.3 440.8h1v1h-1zM249.6 441.1h1v1h-1zM245.5 430.7h1v1h-1zM253.3 431.8h1v1h-1zM246.1 431.2h1v1h-1zM256.7 439.2h1v1h-1zM243.0 434.2h1v1h-1zM248.5 433.0h1v1h-1zM256.9 429.4h1v1h-1zM233.1 441.5h1v1h-1zM246.9 439.3h1v1h-1zM248.6 435.3h1v1h-1zM239.9 431.6h1v1h-1zM239.8 437.6h1v1h-1zM255.1 436.7h1v1h-1zM238.8 440.2h1v1h-1zM248.9 439.6h1v1h-1zM247.3 438.9h1v1h-1zM238.0 444.5h1v1h-1zM253.7 432.5h1v1h-1zM240.7 432.6h1v1h-1zM237.9 435.6h1v1h-1zM242.2 433.9h1v1h-1zM244.3 439.6h1v1h-1zM235.5 441.9h1v1h-1zM261.4 436.8h1v1h-1zM249.9 430.8h1v1h-1zM243.8 435.3h1v1h-1zM243.8 438.8h1v1h-1zM237.0 437.8h1v1h-1zM227.0 445.5h1v1h-1zM231.7 442.3h1v1h-1zM244.3 439.5h1v1h-1zM240.1 440.1h1v1h-1zM242.7 437.1h1v1h-1zM230.8 430.7h1v1h-1zM259.2 440.1h1v1h-1zM243.5 438.4h1v1h-1zM248.5 426.4h1v1h-1zM243.4 430.2h1v1h-1zM254.9 429.9h1v1h-1zM236.8 438.8h1v1h-1zM259.6 438.7h1v1h-1zM264.0 429.6h1v1h-1zM255.5 434.4h1v1h-1zM246.4 433.0h1v1h-1zM249.6 434.4h1v1h-1zM252.0 437.2h1v1h-1zM245.7 439.3h1v1h-1zM232.1 438.4h1v1h-1zM227.2 437.3h1v1h-1zM247.2 437.2h1v1h-1zM242.3 442.9h1v1h-1zM247.4 437.5h1v1h-1zM242.8 445.3h1v1h-1zM245.6 439.2h1v1h-1zM243.8 441.5h1v1h-1zM249.5 430.9h1v1h-1zM252.5 433.0h1v1h-1zM248.1 439.1h1v1h-1zM258.0 437.3h1v1h-1zM243.0 440.4h1v1h-1zM244.6 437.8h1v1h-1zM242.6 438.6h1v1h-1zM257.8 442.5h1v1h-1zM252.7 441.6h1v1h-1zM238.8 438.5h1v1h-1zM256.8 434.9h1v1h-1zM251.8 434.9h1v1h-1zM240.2 436.7h1v1h-1zM247.3 435.4h1v1h-1zM248.8 446.0h1v1h-1zM236.9 436.9h1v1h-1zM235.3 447.3h1v1h-1zM256.5 435.0h1v1h-1zM241.9 437.4h1v1h-1zM241.6 438.5h1v1h-1zM238.4 436.2h1v1h-1zM255.2 431.7h1v1h-1zM250.3 430.7h1v1h-1zM247.4 441.2h1v1h-1zM241.8 440.9h1v1h-1zM262.2 438.8h1v1h-1zM266.7 432.7h1v1h-1zM248.2 437.7h1v1h-1zM229.7 439.9h1v1h-1zM236.4 434.3h1v1h-1zM248.8 436.8h1v1h-1zM255.5 434.1h1v1h-1zM237.1 438.9h1v1h-1zM238.6 439.3h1v1h-1zM252.4 438.1h1v1h-1zM247.2 438.6h1v1h-1zM235.1 440.5h1v1h-1zM258.3 431.9h1v1h-1zM248.3 433.4h1v1h-1zM243.1 435.6h1v1h-1zM243.9 440.2h1v1h-1zM224.1 433.2h1v1h-1zM252.2 436.8h1v1h-1zM233.0 439.6h1v1h-1zM249.6 434.1h1v1h-1zM266.9 434.8h1v1h-1zM253.9 438.7h1v1h-1zM246.7 438.9h1v1h-1zM242.8 432.8h1v1h-1zM241.1 439.9h1v1h-1zM260.6 431.0h1v1h-1zM262.6 437.5h1v1h-1zM250.0 438.9h1v1h-1zM234.5 438.7h1v1h-1zM242.4 436.7h1v1h-1zM261.1 434.4h1v1h-1zM227.9 431.9h1v1h-1zM258.2 435.5h1v1h-1zM235.3 440.2h1v1h-1zM246.3 435.8h1v1h-1zM242.9 432.9h1v1h-1zM242.6 436.0h1v1h-1zM257.1 437.0h1v1h-1zM242.1 444.0h1v1h-1zM257.6 434.7h1v1h-1zM252.3 434.8h1v1h-1zM242.2 440.1h1v1h-1zM245.1 437.7h1v1h-1zM237.5 439.8h1v1h-1zM254.7 435.3h1v1h-1zM247.1 446.8h1v1h-1zM246.5 435.4h1v1h-1zM246.4 440.1h1v1h-1zM247.2 433.5h1v1h-1zM258.3 432.7h1v1h-1zM257.3 430.0h1v1h-1zM241.1 433.1h1v1h-1zM251.3 434.9h1v1h-1zM236.7 435.8h1v1h-1zM244.5 441.9h1v1h-1zM249.0 442.2h1v1h-1zM255.5 440.8h1v1h-1zM230.6 431.2h1v1h-1zM236.8 433.2h1v1h-1zM234.1 433.9h1v1h-1zM234.3 429.3h1v1h-1zM257.2 431.3h1v1h-1zM249.9 436.9h1v1h-1zM249.7 428.2h1v1h-1zM253.6 443.0h1v1h-1zM255.7 436.0h1v1h-1zM247.9 445.2h1v1h-1zM253.2 438.6h1v1h-1zM252.6 431.7h1v1h-1zM252.6 432.4h1v1h-1zM253.1 438.0h1v1h-1zM239.5 434.3h1v1h-1zM257.7 435.5h1v1h-1zM235.9 440.1h1v1h-1zM241.0 439.9h1v1h-1zM244.5 440.8h1v1h-1zM254.5 435.0h1v1h-1zM251.1 433.0h1v1h-1zM229.1 442.5h1v1h-1zM243.3 433.9h1v1h-1zM259.5 442.2h1v1h-1zM241.3 443.6h1v1h-1zM252.6 433.7h1v1h-1zM244.3 438.2h1v1h-1zM246.3 434.7h1v1h-1zM245.0 436.1h1v1h-1zM256.0 440.8h1v1h-1zM246.4 437.9h1v1h-1zM251.2 438.4h1v1h-1zM252.5 435.9h1v1h-1zM249.9 438.6h1v1h-1zM241.5 439.8h1v1h-1zM238.2 435.3h1v1h-1zM233.5 435.3h1v1h-1zM244.9 436.3h1v1h-1zM255.1 440.4h1v1h-1zM240.4 437.2h1v1h-1zM255.7 432.7h1v1h-1zM236.0 437.2h1v1h-1zM258.0 432.4h1v1h-1zM244.4 431.0h1v1h-1zM237.2 436.2h1v1h-1zM229.4 434.5h1v1h-1zM242.6 436.5h1v1h-1zM242.5 443.7h1v1h-1zM247.2 439.4h1v1h-1zM253.4 442.0h1v1h-1zM246.0 428.6h1v1h-1zM234.9 432.6h1v1h-1zM248.6 442.2h1v1h-1zM233.2 438.7h1v1h-1zM250.6 435.1h1v1h-1zM258.4 434.4h1v1h-1zM253.9 438.9h1v1h-1zM235.2 429.3h1v1h-1zM250.2 431.2h1v1h-1zM247.1 433.8h1v1h-1zM250.7 434.9h1v1h-1zM243.9 436.1h1v1h-1zM248.7 435.3h1v1h-1zM252.6 430.9h1v1h-1zM239.1 437.2h1v1h-1zM241.0 433.0h1v1h-1zM241.3 434.7h1v1h-1zM253.1 439.8h1v1h-1zM244.6 434.7h1v1h-1zM247.8 431.3h1v1h-1zM249.8 436.5h1v1h-1zM227.1 436.6h1v1h-1zM263.5 437.4h1v1h-1zM239.6 433.6h1v1h-1zM235.7 439.2h1v1h-1zM248.1 436.5h1v1h-1zM244.4 438.3h1v1h-1zM251.6 437.2h1v1h-1zM236.0 435.6h1v1h-1zM251.6 441.7h1v1h-1zM255.8 434.3h1v1h-1zM237.2 444.1h1v1h-1zM254.9 433.5h1v1h-1zM260.9 440.0h1v1h-1zM241.2 436.7h1v1h-1zM249.8 435.5h1v1h-1zM241.5 445.3h1v1h-1zM237.9 434.2h1v1h-1zM235.2 436.8h1v1h-1zM238.1 435.6h1v1h-1zM246.5 432.6h1v1h-1zM248.4 431.9h1v1h-1zM240.0 435.7h1v1h-1zM245.2 444.4h1v1h-1zM257.6 425.3h1v1h-1zM263.9 436.6h1v1h-1zM243.9 432.6h1v1h-1zM261.4 432.7h1v1h-1zM244.1 430.9h1v1h-1zM234.7 429.6h1v1h-1zM238.0 435.7h1v1h-1zM247.4 441.6h1v1h-1zM258.5 438.1h1v1h-1zM246.8 442.7h1v1h-1zM247.0 433.2h1v1h-1zM253.7 434.1h1v1h-1zM263.1 442.7h1v1h-1zM242.9 440.8h1v1h-1zM256.9 438.2h1v1h-1zM255.7 435.2h1v1h-1zM237.9 440.9h1v1h-1zM247.5 431.3h1v1h-1zM246.5 434.7h1v1h-1zM262.2 424.4h1v1h-1zM259.0 436.1h1v1h-1zM255.6 437.2h1v1h-1zM237.9 443.7h1v1h-1zM239.9 443.8h1v1h-1zM238.4 428.2h1v1h-1zM244.1 431.6h1v1h-1zM248.1 439.2h1v1h-1zM235.4 442.3h1v1h-1zM244.4 434.0h1v1h-1zM253.9 441.0h1v1h-1zM247.2 431.4h1v1h-1zM257.7 437.9h1v1h-1zM236.4 435.7h1v1h-1zM247.4 441.3h1v1h-1zM236.2 439.4h1v1h-1zM264.9 441.7h1v1h-1zM240.8 442.9h1v1h-1zM242.2 439.2h1v1h-1zM254.6 438.4h1v1h-1zM258.3 439.9h1v1h-1zM253.1 435.9h1v1h-1zM239.1 437.3h1v1h-1zM258.4 436.2h1v1h-1zM242.5 433.7h1v1h-1zM237.3 439.7h1v1h-1zM237.2 439.2h1v1h-1zM246.6 443.2h1v1h-1zM248.6 431.6h1v1h-1zM250.7 437.2h1v1h-1zM243.4 438.4h1v1h-1zM245.4 444.5h1v1h-1zM253.4 438.0h1v1h-1zM236.7 441.5h1v1h-1zM259.6 432.9h1v1h-1zM238.3 433.2h1v1h-1zM241.2 439.2h1v1h-1zM242.2 433.8h1v1h-1zM259.6 436.0h1v1h-1zM243.1 436.8h1v1h-1zM243.2 438.2h1v1h-1zM248.2 428.1h1v1h-1zM255.7 434.6h1v1h-1zM239.4 439.8h1v1h-1zM253.6 436.6h1v1h-1zM247.7 432.2h1v1h-1zM233.6 441.5h1v1h-1zM249.3 438.8h1v1h-1zM241.6 439.6h1v1h-1zM265.7 430.7h1v1h-1zM237.7 436.5h1v1h-1zM262.6 444.0h1v1h-1zM243.4 442.6h1v1h-1zM244.5 436.5h1v1h-1zM239.2 437.1h1v1h-1zM226.0 439.7h1v1h-1zM244.9 430.2h1v1h-1zM246.2 433.0h1v1h-1zM243.0 432.8h1v1h-1zM251.9 429.9h1v1h-1zM240.3 439.0h1v1h-1zM252.2 433.7h1v1h-1zM243.2 439.6h1v1h-1zM261.9 432.6h1v1h-1zM250.8 437.6h1v1h-1zM242.3 442.1h1v1h-1zM256.4 435.7h1v1h-1zM238.6 440.9h1v1h-1zM248.0 441.4h1v1h-1zM227.7 436.1h1v1h-1zM239.2 439.5h1v1h-1zM247.6 436.6h1v1h-1zM253.1 432.1h1v1h-1zM239.3 436.3h1v1h-1zM250.6 428.5h1v1h-1zM254.6 432.0h1v1h-1zM248.8 440.7h1v1h-1zM252.0 440.8h1v1h-1zM244.9 433.7h1v1h-1zM254.1 433.3h1v1h-1zM247.3 432.0h1v1h-1zM258.9 430.3h1v1h-1zM242.1 435.0h1v1h-1zM262.4 438.4h1v1h-1zM241.2 442.5h1v1h-1zM241.6 435.6h1v1h-1zM247.0 434.4h1v1h-1zM247.7 435.5h1v1h-1zM236.2 444.0h1v1h-1zM240.8 435.1h1v1h-1zM255.8 436.9h1v1h-1zM260.8 434.6h1v1h-1zM252.1 440.7h1v1h-1zM250.7 430.8h1v1h-1zM232.5 438.3h1v1h-1zM244.9 439.1h1v1h-1zM240.7 433.2h1v1h-1zM243.6 429.9h1v1h-1zM246.5 432.6h1v1h-1zM248.8 447.4h1v1h-1zM233.8 445.1h1v1h-1zM238.7 442.6h1v1h-1zM238.2 442.1h1v1h-1zM239.0 432.5h1v1h-1zM257.6 437.0h1v1h-1zM255.6 433.6h1v1h-1zM243.7 438.3h1v1h-1zM247.1 436.7h1v1h-1zM248.5 438.3h1v1h-1zM239.5 440.9h1v1h-1zM239.1 440.0h1v1h-1zM237.9 434.8h1v1h-1zM245.6 441.3h1v1h-1zM252.3 441.4h1v1h-1zM259.1 435.2h1v1h-1zM265.1 439.2h1v1h-1zM250.0 438.8h1v1h-1zM243.3 444.6h1v1h-1zM248.7 435.9h1v1h-1zM245.7 436.6h1v1h-1zM246.0 436.3h1v1h-1zM254.3 433.8h1v1h-1zM249.9 440.0h1v1h-1zM251.5 439.2h1v1h-1zM243.3 435.9h1v1h-1zM250.6 431.4h1v1h-1zM242.0 440.8h1v1h-1zM245.3 434.6h1v1h-1zM236.7 437.8h1v1h-1zM249.1 435.4h1v1h-1zM249.6 441.7h1v1h-1zM250.9 438.6h1v1h-1zM248.4 444.3h1v1h-1zM240.0 441.1h1v1h-1zM241.2 436.2h1v1h-1zM250.4 436.7h1v1h-1zM232.2 442.4h1v1h-1zM250.0 432.1h1v1h-1zM247.0 438.1h1v1h-1zM254.7 442.0h1v1h-1zM241.4 433.8h1v1h-1zM239.7 436.8h1v1h-1zM245.7 428.5h1v1h-1zM248.5 431.8h1v1h-1zM245.0 439.7h1v1h-1zM238.9 436.6h1v1h-1zM232.8 436.0h1v1h-1zM237.4 440.3h1v1h-1zM230.4 433.5h1v1h-1zM247.9 431.9h1v1h-1zM256.4 436.6h1v1h-1zM247.8 438.4h1v1h-1zM235.2 440.0h1v1h-1zM255.6 433.9h1v1h-1zM232.4 436.2h1v1h-1zM234.2 440.0h1v1h-1zM252.3 442.3h1v1h-1zM238.8 433.1h1v1h-1zM231.8 433.4h1v1h-1zM262.5 435.5h1v1h-1zM241.9 433.9h1v1h-1zM249.6 432.1h1v1h-1zM245.3 441.9h1v1h-1zM247.2 431.7h1v1h-1zM238.4 438.8h1v1h-1zM244.3 437.8h1v1h-1zM254.2 437.3h1v1h-1zM244.7 432.7h1v1h-1zM244.1 437.3h1v1h-1zM252.1 435.8h1v1h-1zM238.9 445.4h1v1h-1zM241.1 446.2h1v1h-1zM245.5 434.0h1v1h-1zM244.7 434.8h1v1h-1zM255.1 432.6h1v1h-1zM238.6 430.3h1v1h-1zM243.7 438.4h1v1h-1zM242.7 433.4h1v1h-1zM232.5 441.6h1v1h-1zM247.7 439.1h1v1h-1zM236.1 434.8h1v1h-1zM242.6 437.6h1v1h-1zM232.7 442.8h1v1h-1zM246.4 434.3h1v1h-1zM241.2 432.7h1v1h-1zM254.0 434.7h1v1h-1zM237.2 435.0h1v1h-1zM250.4 431.5h1v1h-1zM247.6 440.5h1v1h-1zM241.1 435.3h1v1h-1zM259.0 444.0h1v1h-1zM247.5 434.0h1v1h-1zM243.6 439.1h1v1h-1zM253.7 436.0h1v1h-1zM259.5 440.4h1v1h-1zM245.5 436.4h1v1h-1zM245.6 439.0h1v1h-1zM235.7 435.4h1v1h-1zM242.2 436.7h1v1h-1zM243.0 435.0h1v1h-1zM234.9 433.1h1v1h-1zM243.5 431.9h1v1h-1zM252.8 441.3h1v1h-1zM255.4 445.0h1v1h-1zM249.7 435.3h1v1h-1zM229.3 434.3h1v1h-1zM246.5 437.1h1v1h-1zM237.0 433.1h1v1h-1zM251.6 433.9h1v1h-1zM237.8 436.7h1v1h-1zM244.8 438.9h1v1h-1zM254.9 432.3h1v1h-1zM252.1 439.9h1v1h-1zM243.7 438.3h1v1h-1zM242.4 437.9h1v1h-1zM255.5 444.5h1v1h-1zM256.2 430.3h1v1h-1zM245.8 433.6h1v1h-1zM238.5 442.4h1v1h-1zM237.8 431.1h1v1h-1zM246.2 431.9h1v1h-1zM235.8 432.2h1v1h-1zM240.4 438.7h1v1h-1zM227.6 437.0h1v1h-1zM241.9 435.2h1v1h-1zM237.8 431.7h1v1h-1zM237.8 431.8h1v1h-1zM260.7 437.4h1v1h-1zM262.5 432.4h1v1h-1zM245.5 435.6h1v1h-1zM244.8 435.8h1v1h-1zM248.9 436.5h1v1h-1zM236.7 443.9h1v1h-1zM249.4 438.7h1v1h-1zM253.3 442.7h1v1h-1zM244.8 436.1h1v1h-1zM237.0 434.3h1v1h-1zM233.5 432.4h1v1h-1zM241.7 433.2h1v1h-1zM238.5 434.1h1v1h-1zM249.1 447.0h1v1h-1zM246.9 438.6h1v1h-1zM244.2 439.2h1v1h-1zM254.9 433.3h1v1h-1zM240.6 439.8h1v1h-1zM253.2 434.3h1v1h-1zM237.5 439.4h1v1h-1zM245.4 434.6h1v1h-1zM259.4 437.7h1v1h-1zM241.6 441.8h1v1h-1zM251.5 436.7h1v1h-1zM252.6 443.1h1v1h-1zM238.6 434.8h1v1h-1zM247.1 438.1h1v1h-1zM242.4 435.7h1v1h-1zM235.6 439.4h1v1h-1zM246.8 436.7h1v1h-1zM258.3 437.1h1v1h-1zM259.0 438.2h1v1h-1zM231.9 443.1h1v1h-1zM249.4 430.7h1v1h-1zM249.6 433.3h1v1h-1zM253.7 438.4h1v1h-1zM242.2 442.1h1v1h-1zM254.7 446.2h1v1h-1zM260.0 435.1h1v1h-1zM238.9 433.4h1v1h-1zM244.3 440.1h1v1h-1zM241.3 437.3h1v1h-1zM256.7 443.3h1v1h-1zM234.5 435.7h1v1h-1zM241.8 432.5h1v1h-1zM232.5 441.0h1v1h-1zM250.3 436.0h1v1h-1zM236.5 439.8h1v1h-1zM236.8 437.4h1v1h-1zM245.0 431.2h1v1h-1zM250.0 431.6h1v1h-1zM256.4 446.2h1v1h-1zM241.2 429.8h1v1h-1zM238.7 446.3h1v1h-1zM249.9 437.8h1v1h-1zM257.2 437.3h1v1h-1zM235.7 444.5h1v1h-1zM261.7 440.3h1v1h-1zM253.9 437.3h1v1h-1zM231.8 441.1h1v1h-1zM242.2 437.8h1v1h-1zM242.3 436.9h1v1h-1zM229.1 433.6h1v1h-1zM254.8 438.0h1v1h-1zM242.8 437.1h1v1h-1zM234.2 445.6h1v1h-1zM252.6 440.6h1v1h-1zM233.8 438.2h1v1h-1zM251.2 432.2h1v1h-1zM247.4 427.8h1v1h-1zM246.1 432.4h1v1h-1zM251.1 443.0h1v1h-1zM247.7 438.0h1v1h-1zM246.3 437.5h1v1h-1zM237.7 439.3h1v1h-1zM243.3 434.8h1v1h-1zM251.8 434.0h1v1h-1zM260.9 439.0h1v1h-1zM233.8 437.0h1v1h-1zM249.3 438.6h1v1h-1zM249.0 440.5h1v1h-1zM246.9 443.5h1v1h-1zM253.3 440.2h1v1h-1zM253.6 434.7h1v1h-1zM247.2 427.7h1v1h-1zM248.1 430.2h1v1h-1zM248.6 442.1h1v1h-1zM252.5 437.2h1v1h-1zM242.0 433.6h1v1h-1zM248.8 436.6h1v1h-1zM241.3 432.5h1v1h-1zM249.1 432.5h1v1h-1zM243.6 428.1h1v1h-1zM251.8 439.2h1v1h-1zM255.0 430.7h1v1h-1zM230.9 435.6h1v1h-1zM257.5 434.9h1v1h-1zM245.1 441.5h1v1h-1zM245.1 440.1h1v1h-1zM243.4 436.9h1v1h-1zM254.6 437.2h1v1h-1zM254.6 439.0h1v1h-1zM245.0 443.1h1v1h-1zM270.2 438.1h1v1h-1zM242.5 440.3h1v1h-1zM248.1 426.0h1v1h-1zM231.8 438.8h1v1h-1zM254.8 437.6h1v1h-1zM230.5 439.9h1v1h-1zM238.7 439.8h1v1h-1zM236.5 439.1h1v1h-1zM255.8 438.1h1v1h-1zM242.4 439.0h1v1h-1zM244.7 436.3h1v1h-1zM263.3 444.0h1v1h-1zM237.6 443.4h1v1h-1zM263.3 433.7h1v1h-1zM247.4 435.0h1v1h-1zM250.2 434.1h1v1h-1zM248.2 436.6h1v1h-1zM241.8 433.6h1v1h-1zM246.1 440.4h1v1h-1zM245.6 435.3h1v1h-1zM246.0 433.8h1v1h-1zM227.9 443.1h1v1h-1zM262.9 435.0h1v1h-1zM250.3 433.1h1v1h-1zM235.1 433.5h1v1h-1zM248.3 442.8h1v1h-1zM252.9 441.3h1v1h-1zM267.4 432.1h1v1h-1zM249.7 434.4h1v1h-1zM241.9 435.2h1v1h-1zM234.7 441.3h1v1h-1zM255.1 440.5h1v1h-1zM230.5 440.0h1v1h-1zM231.9 433.9h1v1h-1zM261.1 432.9h1v1h-1zM245.4 435.2h1v1h-1zM247.8 438.0h1v1h-1zM240.9 436.2h1v1h-1zM243.2 440.7h1v1h-1zM250.2 439.3h1v1h-1zM244.0 445.0h1v1h-1zM247.3 438.7h1v1h-1zM251.0 435.6h1v1h-1zM253.7 434.5h1v1h-1zM236.6 434.8h1v1h-1zM254.9 433.2h1v1h-1zM254.6 438.2h1v1h-1zM241.3 441.4h1v1h-1zM223.1 436.6h1v1h-1zM239.3 437.2h1v1h-1zM238.8 437.2h1v1h-1zM249.0 438.0h1v1h-1zM243.6 435.2h1v1h-1zM248.1 439.9h1v1h-1zM230.1 442.5h1v1h-1zM246.0 442.3h1v1h-1zM233.4 432.6h1v1h-1zM233.0 431.2h1v1h-1zM243.8 437.6h1v1h-1zM246.3 436.8h1v1h-1zM253.3 434.9h1v1h-1zM233.9 438.1h1v1h-1zM253.1 438.5h1v1h-1zM232.8 445.5h1v1h-1zM256.6 441.6h1v1h-1zM239.1 432.0h1v1h-1zM249.7 432.2h1v1h-1zM257.0 434.5h1v1h-1zM244.8 438.0h1v1h-1zM254.4 439.1h1v1h-1zM244.8 435.4h1v1h-1zM259.9 437.8h1v1h-1zM247.7 436.9h1v1h-1zM225.7 432.9h1v1h-1zM229.0 432.1h1v1h-1zM248.8 442.7h1v1h-1zM237.9 436.4h1v1h-1zM234.4 435.1h1v1h-1zM254.3 440.9h1v1h-1zM248.0 435.5h1v1h-1zM266.2 436.4h1v1h-1zM241.2 433.7h1v1h-1zM260.0 436.7h1v1h-1zM248.6 432.9h1v1h-1zM236.9 432.5h1v1h-1zM257.0 436.8h1v1h-1zM251.9 441.2h1v1h-1zM245.8 438.8h1v1h-1zM241.4 436.2h1v1h-1zM237.9 435.2h1v1h-1zM246.6 433.8h1v1h-1zM254.0 432.5h1v1h-1zM251.1 430.9h1v1h-1zM251.0 438.4h1v1h-1zM242.0 440.9h1v1h-1zM238.4 443.1h1v1h-1zM246.1 436.3h1v1h-1zM258.7 432.5h1v1h-1zM231.0 435.2h1v1h-1zM257.5 436.1h1v1h-1zM245.9 428.5h1v1h-1zM241.5 446.6h1v1h-1zM227.5 430.7h1v1h-1zM228.3 436.0h1v1h-1zM237.1 435.6h1v1h-1zM254.6 431.3h1v1h-1zM236.6 436.3h1v1h-1zM238.6 438.3h1v1h-1zM235.8 441.1h1v1h-1zM260.2 439.6h1v1h-1zM248.3 434.1h1v1h-1zM242.4 432.1h1v1h-1zM243.8 436.4h1v1h-1zM252.7 436.0h1v1h-1zM264.1 426.6h1v1h-1zM248.2 432.9h1v1h-1zM249.2 436.9h1v1h-1zM247.0 428.8h1v1h-1zM256.8 431.3h1v1h-1zM244.2 444.9h1v1h-1zM234.3 435.2h1v1h-1zM260.6 440.0h1v1h-1zM241.2 440.9h1v1h-1zM244.9 432.9h1v1h-1zM240.5 429.4h1v1h-1zM248.3 436.3h1v1h-1zM245.2 425.9h1v1h-1zM254.7 431.6h1v1h-1zM248.1 438.1h1v1h-1zM234.3 434.3h1v1h-1zM244.9 436.4h1v1h-1zM253.5 443.2h1v1h-1zM254.8 437.4h1v1h-1zM245.8 440.9h1v1h-1zM262.2 431.2h1v1h-1zM243.4 437.6h1v1h-1zM247.2 437.7h1v1h-1zM232.7 442.2h1v1h-1zM241.5 438.2h1v1h-1zM248.1 438.3h1v1h-1zM243.3 433.6h1v1h-1zM257.9 432.8h1v1h-1zM235.4 437.0h1v1h-1zM253.6 436.2h1v1h-1zM245.3 437.7h1v1h-1zM255.7 435.6h1v1h-1zM238.0 442.0h1v1h-1zM250.3 432.5h1v1h-1zM242.5 430.9h1v1h-1zM257.9 439.7h1v1h-1zM247.1 428.7h1v1h-1zM248.9 440.0h1v1h-1zM234.4 440.6h1v1h-1zM246.9 435.4h1v1h-1zM253.0 438.0h1v1h-1zM261.3 433.0h1v1h-1zM244.3 438.3h1v1h-1zM243.6 441.1h1v1h-1zM252.8 440.5h1v1h-1zM240.7 436.9h1v1h-1zM254.1 435.3h1v1h-1zM236.7 434.9h1v1h-1zM222.9 446.2h1v1h-1zM241.4 434.2h1v1h-1zM238.6 436.0h1v1h-1zM245.2 440.5h1v1h-1zM248.7 434.7h1v1h-1zM239.3 436.8h1v1h-1zM248.9 435.2h1v1h-1zM238.4 437.9h1v1h-1zM234.1 442.5h1v1h-1zM244.4 435.6h1v1h-1zM265.8 433.2h1v1h-1zM251.3 437.1h1v1h-1zM226.4 434.1h1v1h-1zM248.0 438.0h1v1h-1zM242.2 438.8h1v1h-1zM240.4 439.7h1v1h-1zM241.8 436.0h1v1h-1zM230.1 443.6h1v1h-1zM248.7 443.0h1v1h-1zM238.4 441.5h1v1h-1zM262.2 435.5h1v1h-1zM243.8 434.0h1v1h-1zM246.8 433.7h1v1h-1zM251.6 435.0h1v1h-1zM246.6 435.7h1v1h-1zM246.9 434.8h1v1h-1zM245.1 435.8h1v1h-1zM240.1 433.8h1v1h-1zM234.5 438.5h1v1h-1zM249.1 442.4h1v1h-1zM244.1 437.7h1v1h-1zM267.1 433.4h1v1h-1zM256.6 437.0h1v1h-1zM243.0 435.1h1v1h-1zM242.7 435.5h1v1h-1zM247.0 437.5h1v1h-1zM228.3 430.6h1v1h-1zM239.8 439.6h1v1h-1zM244.2 439.0h1v1h-1zM241.2 442.7h1v1h-1zM241.0 434.8h1v1h-1zM229.9 440.8h1v1h-1zM257.5 443.1h1v1h-1zM244.4 432.5h1v1h-1zM261.7 431.8h1v1h-1zM251.6 441.3h1v1h-1zM232.9 442.1h1v1h-1zM255.0 438.9h1v1h-1zM260.7 437.1h1v1h-1zM249.3 441.4h1v1h-1zM240.8 430.5h1v1h-1zM239.7 439.2h1v1h-1zM262.4 430.5h1v1h-1zM231.9 443.1h1v1h-1zM252.3 434.6h1v1h-1zM247.3 436.2h1v1h-1zM243.8 437.5h1v1h-1zM232.0 435.5h1v1h-1zM242.2 432.6h1v1h-1zM251.8 436.7h1v1h-1zM258.6 433.8h1v1h-1zM245.2 437.1h1v1h-1zM230.2 436.2h1v1h-1zM248.6 441.4h1v1h-1zM233.9 437.8h1v1h-1zM232.3 434.3h1v1h-1zM259.8 434.2h1v1h-1zM243.6 432.7h1v1h-1zM240.0 442.9h1v1h-1zM248.3 439.5h1v1h-1zM235.4 431.1h1v1h-1zM250.6 439.2h1v1h-1zM251.9 437.5h1v1h-1zM249.6 435.9h1v1h-1zM246.1 430.1h1v1h-1zM246.5 440.5h1v1h-1zM254.3 440.0h1v1h-1zM246.9 438.3h1v1h-1zM241.1 436.9h1v1h-1zM256.8 437.5h1v1h-1zM275.6 437.3h1v1h-1zM235.4 436.1h1v1h-1zM237.6 438.3h1v1h-1zM242.8 436.1h1v1h-1zM241.5 429.8h1v1h-1zM232.0 438.2h1v1h-1zM246.2 431.1h1v1h-1zM246.4 443.2h1v1h-1zM243.8 444.0h1v1h-1zM243.9 441.5h1v1h-1zM234.4 437.9h1v1h-1zM249.1 437.5h1v1h-1zM252.5 434.2h1v1h-1zM258.9 434.9h1v1h-1zM238.9 441.3h1v1h-1zM235.8 423.8h1v1h-1zM258.4 429.4h1v1h-1zM261.0 435.3h1v1h-1zM240.2 437.4h1v1h-1zM250.9 434.2h1v1h-1zM235.8 440.9h1v1h-1zM248.7 438.3h1v1h-1zM244.3 432.9h1v1h-1zM243.5 430.6h1v1h-1zM254.5 435.6h1v1h-1zM252.3 438.5h1v1h-1zM251.6 435.8h1v1h-1zM245.3 432.7h1v1h-1zM250.8 428.9h1v1h-1zM235.2 438.0h1v1h-1zM244.9 438.6h1v1h-1zM252.0 437.9h1v1h-1zM248.5 446.2h1v1h-1zM262.8 437.2h1v1h-1zM270.6 438.6h1v1h-1zM243.2 434.1h1v1h-1z" fill="#000"/>
<rect x="175.2" y="364.0" width="130.4" height="130.6" fill="none" stroke="#000" stroke-width="1.4"/>
<line x1="222.3" y1="364.0" x2="222.3" y2="494.6" stroke="#000" stroke-width="1.3"/>
<line x1="175.2" y1="446.8" x2="305.6" y2="446.8" stroke="#000" stroke-width="1.3"/>
<line x1="282.6" y1="364.0" x2="282.6" y2="388.5" stroke="#000" stroke-width="1"/>
<line x1="258.5" y1="376.5" x2="305.6" y2="376.5" stroke="#000" stroke-width="1"/>
<text class="s" x="280.5" y="373.5" font-size="10.3" text-anchor="end">5.9</text>
<text class="s" x="302.0" y="373.5" font-size="10.3" text-anchor="end">92.9</text>
<text class="s" x="279.9" y="387.0" font-size="10.3" text-anchor="end">0.1</text>
<text class="s" x="301.5" y="387.0" font-size="10.3" text-anchor="end">1.1</text>
<path d="M173.6 484.8h1.6 M185.0 494.6v1.6 M173.6 479.0h1.6 M190.8 494.6v1.6 M173.6 474.9h1.6 M194.8 494.6v1.6 M173.6 471.8h1.6 M198.0 494.6v1.6 M173.6 469.2h1.6 M200.6 494.6v1.6 M173.6 467.0h1.6 M202.8 494.6v1.6 M173.6 465.1h1.6 M204.6 494.6v1.6 M173.6 463.4h1.6 M206.3 494.6v1.6 M172.2 462.0h3.0 M207.8 494.6v3.0 M173.6 452.1h1.6 M217.6 494.6v1.6 M173.6 446.4h1.6 M223.4 494.6v1.6 M173.6 442.3h1.6 M227.4 494.6v1.6 M173.6 439.1h1.6 M230.6 494.6v1.6 M173.6 436.5h1.6 M233.2 494.6v1.6 M173.6 434.4h1.6 M235.4 494.6v1.6 M173.6 432.5h1.6 M237.2 494.6v1.6 M173.6 430.8h1.6 M238.9 494.6v1.6 M172.2 429.3h3.0 M240.4 494.6v3.0 M173.6 419.5h1.6 M250.2 494.6v1.6 M173.6 413.7h1.6 M256.0 494.6v1.6 M173.6 409.6h1.6 M260.0 494.6v1.6 M173.6 406.5h1.6 M263.2 494.6v1.6 M173.6 403.9h1.6 M265.8 494.6v1.6 M173.6 401.7h1.6 M268.0 494.6v1.6 M173.6 399.8h1.6 M269.8 494.6v1.6 M173.6 398.1h1.6 M271.5 494.6v1.6 M172.2 396.6h3.0 M273.0 494.6v3.0 M173.6 386.8h1.6 M282.8 494.6v1.6 M173.6 381.1h1.6 M288.6 494.6v1.6 M173.6 377.0h1.6 M292.6 494.6v1.6 M173.6 373.8h1.6 M295.8 494.6v1.6 M173.6 371.2h1.6 M298.4 494.6v1.6 M173.6 369.1h1.6 M300.6 494.6v1.6 M173.6 367.2h1.6 M302.4 494.6v1.6 M173.6 365.5h1.6 M304.1 494.6v1.6" stroke="#000" stroke-width="0.8" fill="none"/>
<text class="s" x="395.7" y="356.6" font-size="14">Patient</text>
<path d="M396.1 427.2h1v1h-1zM388.0 432.5h1v1h-1zM389.8 422.4h1v1h-1zM384.6 426.6h1v1h-1zM381.8 426.0h1v1h-1zM384.1 429.6h1v1h-1zM382.5 434.2h1v1h-1zM384.0 410.7h1v1h-1zM391.3 429.0h1v1h-1zM383.2 433.2h1v1h-1zM387.3 431.8h1v1h-1zM382.7 432.7h1v1h-1zM379.8 440.9h1v1h-1zM381.0 430.2h1v1h-1zM386.4 432.9h1v1h-1zM385.3 434.6h1v1h-1zM371.0 430.0h1v1h-1zM385.1 427.8h1v1h-1zM392.2 424.3h1v1h-1zM385.4 417.4h1v1h-1zM386.9 420.1h1v1h-1zM379.1 446.0h1v1h-1zM388.7 430.6h1v1h-1zM386.5 421.2h1v1h-1zM381.3 433.4h1v1h-1zM376.8 432.4h1v1h-1zM378.4 431.4h1v1h-1zM381.0 442.2h1v1h-1zM390.1 427.2h1v1h-1zM377.7 425.5h1v1h-1zM385.5 424.1h1v1h-1zM387.0 437.2h1v1h-1zM385.5 427.8h1v1h-1zM389.1 428.7h1v1h-1zM389.4 428.5h1v1h-1zM392.6 428.8h1v1h-1zM381.2 431.3h1v1h-1zM383.1 424.5h1v1h-1zM385.2 435.6h1v1h-1zM376.5 430.4h1v1h-1zM385.1 429.7h1v1h-1zM389.2 422.0h1v1h-1zM388.6 429.2h1v1h-1zM386.3 429.2h1v1h-1zM384.4 427.2h1v1h-1zM387.6 444.6h1v1h-1zM390.3 436.4h1v1h-1zM388.2 427.6h1v1h-1zM388.4 444.5h1v1h-1zM380.4 436.3h1v1h-1zM390.2 432.7h1v1h-1zM389.3 440.1h1v1h-1zM395.4 439.5h1v1h-1zM393.0 433.2h1v1h-1zM389.5 432.2h1v1h-1zM387.3 428.0h1v1h-1zM388.9 440.6h1v1h-1zM385.4 432.8h1v1h-1zM388.7 431.3h1v1h-1zM390.1 432.8h1v1h-1zM381.1 424.4h1v1h-1zM389.2 435.3h1v1h-1zM390.8 432.9h1v1h-1zM387.0 420.9h1v1h-1zM392.1 425.2h1v1h-1zM390.6 423.8h1v1h-1zM383.3 432.3h1v1h-1zM384.4 426.7h1v1h-1zM390.0 435.7h1v1h-1zM387.8 429.1h1v1h-1zM382.7 428.2h1v1h-1zM384.0 431.2h1v1h-1zM389.4 430.2h1v1h-1zM382.9 427.3h1v1h-1zM391.6 432.4h1v1h-1zM387.2 433.2h1v1h-1zM388.7 432.3h1v1h-1zM391.2 436.7h1v1h-1zM374.3 430.5h1v1h-1zM398.7 423.1h1v1h-1zM386.8 438.5h1v1h-1zM386.3 440.2h1v1h-1zM380.9 423.3h1v1h-1zM385.5 426.7h1v1h-1zM381.8 435.2h1v1h-1zM387.4 431.6h1v1h-1zM384.6 433.2h1v1h-1zM385.8 426.7h1v1h-1zM388.5 433.9h1v1h-1zM386.6 436.0h1v1h-1zM381.6 430.6h1v1h-1zM384.1 440.2h1v1h-1zM388.4 445.3h1v1h-1zM392.9 429.1h1v1h-1zM381.7 434.6h1v1h-1zM385.1 430.5h1v1h-1zM381.8 435.4h1v1h-1zM387.1 434.1h1v1h-1zM387.6 425.6h1v1h-1zM376.9 429.7h1v1h-1zM383.6 428.1h1v1h-1zM390.3 430.9h1v1h-1zM392.6 432.7h1v1h-1zM389.2 434.8h1v1h-1zM389.7 423.3h1v1h-1zM390.9 432.2h1v1h-1zM382.2 435.5h1v1h-1zM387.8 439.9h1v1h-1zM389.4 433.9h1v1h-1zM379.4 442.4h1v1h-1zM392.5 436.5h1v1h-1zM388.2 439.4h1v1h-1zM382.7 436.1h1v1h-1zM386.4 425.0h1v1h-1zM387.8 433.8h1v1h-1zM393.5 437.6h1v1h-1zM379.6 418.7h1v1h-1zM386.0 430.1h1v1h-1zM382.4 422.0h1v1h-1zM385.5 424.0h1v1h-1zM383.4 437.1h1v1h-1zM387.3 426.6h1v1h-1zM381.6 430.3h1v1h-1zM393.6 428.2h1v1h-1zM393.6 426.4h1v1h-1zM385.4 436.0h1v1h-1zM383.1 431.9h1v1h-1zM380.6 435.8h1v1h-1zM391.2 427.3h1v1h-1zM387.1 428.8h1v1h-1zM377.2 449.3h1v1h-1zM388.9 436.9h1v1h-1zM387.9 432.6h1v1h-1zM396.3 419.6h1v1h-1zM385.0 428.8h1v1h-1zM385.4 436.0h1v1h-1zM383.3 422.9h1v1h-1zM381.6 434.5h1v1h-1zM390.3 436.8h1v1h-1zM393.0 428.1h1v1h-1zM390.5 436.0h1v1h-1zM385.6 426.6h1v1h-1zM390.0 427.1h1v1h-1zM385.1 425.2h1v1h-1zM393.6 431.2h1v1h-1zM384.2 429.9h1v1h-1zM385.3 432.1h1v1h-1zM379.1 423.9h1v1h-1zM388.4 438.5h1v1h-1zM382.0 432.2h1v1h-1zM383.9 416.7h1v1h-1zM385.0 424.4h1v1h-1zM390.0 430.1h1v1h-1zM386.1 422.0h1v1h-1zM386.9 418.8h1v1h-1zM387.2 440.4h1v1h-1zM381.2 437.0h1v1h-1zM392.2 430.2h1v1h-1zM391.0 432.0h1v1h-1zM384.2 418.4h1v1h-1zM381.8 421.8h1v1h-1zM396.3 433.2h1v1h-1zM385.6 422.7h1v1h-1zM393.5 423.9h1v1h-1zM392.5 438.6h1v1h-1zM386.6 427.2h1v1h-1zM386.1 422.9h1v1h-1zM389.0 442.5h1v1h-1zM390.0 438.3h1v1h-1zM383.4 433.5h1v1h-1zM382.0 428.6h1v1h-1zM389.4 447.8h1v1h-1zM386.6 431.7h1v1h-1zM378.3 432.6h1v1h-1zM382.5 422.4h1v1h-1zM380.0 432.4h1v1h-1zM384.6 435.9h1v1h-1zM385.3 431.5h1v1h-1zM392.5 436.7h1v1h-1zM389.5 441.1h1v1h-1zM387.2 425.0h1v1h-1zM382.9 421.3h1v1h-1zM387.8 428.9h1v1h-1zM388.5 436.9h1v1h-1zM382.9 432.7h1v1h-1zM391.7 432.0h1v1h-1zM390.2 430.2h1v1h-1zM382.3 430.0h1v1h-1zM378.4 436.1h1v1h-1zM384.1 440.3h1v1h-1zM381.1 432.3h1v1h-1zM387.7 430.2h1v1h-1zM387.9 426.6h1v1h-1zM381.8 422.3h1v1h-1zM383.9 426.2h1v1h-1zM387.3 429.1h1v1h-1zM383.5 426.7h1v1h-1zM378.3 429.1h1v1h-1zM388.1 422.8h1v1h-1zM385.2 435.9h1v1h-1zM383.4 432.7h1v1h-1zM384.5 447.6h1v1h-1zM392.2 439.3h1v1h-1zM383.4 435.8h1v1h-1zM385.6 433.9h1v1h-1zM383.9 432.5h1v1h-1zM383.0 433.4h1v1h-1zM393.8 422.5h1v1h-1zM380.7 434.8h1v1h-1zM389.7 429.0h1v1h-1zM388.8 434.3h1v1h-1zM388.6 440.6h1v1h-1zM383.5 435.8h1v1h-1zM387.2 427.0h1v1h-1zM388.4 422.9h1v1h-1zM380.0 438.6h1v1h-1zM381.6 442.7h1v1h-1zM390.7 428.1h1v1h-1zM382.5 416.8h1v1h-1zM386.0 420.7h1v1h-1zM393.0 420.4h1v1h-1zM386.6 413.4h1v1h-1zM384.8 440.3h1v1h-1zM384.4 426.0h1v1h-1zM384.2 434.0h1v1h-1zM390.1 429.9h1v1h-1zM377.5 433.5h1v1h-1zM390.5 446.7h1v1h-1zM387.0 432.6h1v1h-1zM384.0 436.4h1v1h-1zM393.9 424.8h1v1h-1zM386.6 424.6h1v1h-1zM383.3 430.2h1v1h-1zM388.4 425.9h1v1h-1zM385.0 440.5h1v1h-1zM388.4 436.1h1v1h-1zM388.0 430.2h1v1h-1zM388.1 434.9h1v1h-1zM386.3 438.3h1v1h-1zM386.3 437.5h1v1h-1zM386.4 436.3h1v1h-1zM383.4 427.7h1v1h-1zM381.3 439.5h1v1h-1zM388.5 432.9h1v1h-1zM388.9 425.9h1v1h-1zM386.7 428.1h1v1h-1zM378.3 429.7h1v1h-1zM382.5 441.0h1v1h-1zM383.1 427.3h1v1h-1zM390.5 431.4h1v1h-1z" fill="#333"/>
<path d="M380.1 457.6h1v1h-1zM383.1 468.2h1v1h-1zM381.6 450.6h1v1h-1zM372.9 451.1h1v1h-1zM396.6 455.1h1v1h-1zM382.1 458.0h1v1h-1zM385.5 455.7h1v1h-1zM399.7 470.4h1v1h-1zM395.2 467.9h1v1h-1zM382.3 441.9h1v1h-1zM390.8 458.8h1v1h-1zM387.2 455.1h1v1h-1zM390.7 460.0h1v1h-1zM388.3 459.5h1v1h-1zM385.9 453.3h1v1h-1zM394.1 454.2h1v1h-1zM397.2 460.6h1v1h-1zM387.3 464.0h1v1h-1zM384.5 454.6h1v1h-1zM385.2 456.0h1v1h-1zM390.5 470.9h1v1h-1zM389.7 448.3h1v1h-1zM382.8 443.0h1v1h-1zM390.7 462.3h1v1h-1zM388.7 458.6h1v1h-1zM389.7 459.0h1v1h-1zM390.3 457.6h1v1h-1zM381.9 462.7h1v1h-1zM393.8 444.2h1v1h-1zM385.8 447.8h1v1h-1zM389.6 453.9h1v1h-1zM394.3 463.9h1v1h-1zM384.6 452.6h1v1h-1zM384.0 460.1h1v1h-1zM382.2 459.1h1v1h-1zM379.8 463.5h1v1h-1zM389.4 447.7h1v1h-1zM383.0 457.0h1v1h-1zM388.4 435.5h1v1h-1zM388.0 466.8h1v1h-1z" fill="#333"/>
<path d="M409.8 460.3h1v1h-1zM435.4 455.1h1v1h-1zM430.3 467.2h1v1h-1zM409.0 472.2h1v1h-1zM406.1 468.2h1v1h-1zM413.1 461.1h1v1h-1zM440.6 453.2h1v1h-1zM417.4 446.3h1v1h-1zM421.0 466.1h1v1h-1zM428.7 466.4h1v1h-1zM410.4 466.5h1v1h-1zM449.1 470.9h1v1h-1zM438.1 443.6h1v1h-1zM419.2 473.6h1v1h-1zM441.5 472.2h1v1h-1zM416.2 462.3h1v1h-1zM426.5 450.4h1v1h-1zM421.3 476.6h1v1h-1zM414.1 459.9h1v1h-1zM418.6 464.8h1v1h-1zM416.3 462.3h1v1h-1zM425.7 457.2h1v1h-1zM427.5 477.6h1v1h-1zM422.5 478.7h1v1h-1zM426.2 457.5h1v1h-1zM414.0 453.2h1v1h-1zM417.8 455.9h1v1h-1zM419.2 474.8h1v1h-1zM419.2 472.8h1v1h-1zM435.3 468.0h1v1h-1zM435.1 468.1h1v1h-1zM415.1 469.6h1v1h-1zM438.2 466.7h1v1h-1zM423.3 457.3h1v1h-1zM408.1 468.8h1v1h-1zM425.1 448.1h1v1h-1zM427.0 471.3h1v1h-1zM421.9 456.3h1v1h-1zM440.8 447.5h1v1h-1zM432.4 467.7h1v1h-1zM426.9 472.5h1v1h-1zM415.9 460.5h1v1h-1zM419.4 476.4h1v1h-1zM423.5 463.0h1v1h-1zM418.4 467.6h1v1h-1zM438.7 464.8h1v1h-1zM424.0 469.0h1v1h-1zM400.5 474.8h1v1h-1zM411.4 465.6h1v1h-1zM413.2 445.0h1v1h-1zM433.0 464.9h1v1h-1zM437.3 441.3h1v1h-1zM438.9 470.4h1v1h-1zM424.0 450.2h1v1h-1zM412.3 460.8h1v1h-1zM429.8 468.8h1v1h-1zM438.9 456.0h1v1h-1zM439.1 463.6h1v1h-1zM422.8 477.0h1v1h-1zM430.1 454.8h1v1h-1zM417.7 474.9h1v1h-1zM430.5 468.0h1v1h-1zM407.2 479.2h1v1h-1zM449.6 454.7h1v1h-1zM420.6 464.5h1v1h-1zM414.4 461.2h1v1h-1zM420.1 469.0h1v1h-1zM414.1 475.6h1v1h-1zM416.2 454.2h1v1h-1zM408.5 459.1h1v1h-1zM426.0 466.0h1v1h-1zM420.5 470.2h1v1h-1zM433.5 464.3h1v1h-1zM411.1 475.3h1v1h-1zM398.3 466.1h1v1h-1zM437.8 460.5h1v1h-1zM439.7 458.2h1v1h-1zM421.7 471.0h1v1h-1zM430.2 478.8h1v1h-1zM408.8 489.4h1v1h-1zM425.2 474.8h1v1h-1zM428.4 449.8h1v1h-1zM442.9 459.4h1v1h-1zM425.8 491.4h1v1h-1zM404.4 467.2h1v1h-1zM425.7 451.6h1v1h-1zM425.4 462.7h1v1h-1zM428.4 484.8h1v1h-1zM436.1 451.8h1v1h-1zM436.2 450.4h1v1h-1zM423.7 460.7h1v1h-1zM411.1 475.0h1v1h-1zM419.8 476.5h1v1h-1zM420.7 459.9h1v1h-1zM436.8 455.6h1v1h-1zM435.1 445.6h1v1h-1zM415.3 463.8h1v1h-1zM424.6 461.8h1v1h-1zM437.8 476.0h1v1h-1zM425.4 453.6h1v1h-1zM425.1 459.6h1v1h-1zM420.0 466.4h1v1h-1zM429.5 468.5h1v1h-1zM432.2 455.9h1v1h-1zM417.7 472.5h1v1h-1zM420.5 465.0h1v1h-1zM413.6 475.3h1v1h-1zM419.7 489.9h1v1h-1zM435.5 463.1h1v1h-1zM418.6 475.1h1v1h-1zM432.3 451.8h1v1h-1zM414.9 474.1h1v1h-1zM413.7 491.9h1v1h-1zM416.8 452.1h1v1h-1zM438.2 465.9h1v1h-1zM434.1 463.4h1v1h-1zM437.7 452.2h1v1h-1zM433.3 450.7h1v1h-1zM416.2 469.2h1v1h-1zM419.0 477.2h1v1h-1zM421.4 473.8h1v1h-1zM439.0 472.6h1v1h-1zM433.5 445.2h1v1h-1zM421.4 465.5h1v1h-1zM433.1 482.3h1v1h-1zM431.9 452.2h1v1h-1zM408.4 473.6h1v1h-1zM436.3 474.9h1v1h-1zM425.2 486.1h1v1h-1zM415.6 480.4h1v1h-1zM411.8 472.9h1v1h-1zM410.1 490.8h1v1h-1zM416.3 458.0h1v1h-1zM407.0 484.2h1v1h-1zM412.6 455.9h1v1h-1zM426.7 459.7h1v1h-1zM409.0 470.3h1v1h-1zM410.5 492.3h1v1h-1zM430.0 454.7h1v1h-1zM405.5 469.4h1v1h-1zM414.7 462.1h1v1h-1zM419.4 456.8h1v1h-1zM439.9 464.4h1v1h-1zM413.0 465.3h1v1h-1zM401.2 492.5h1v1h-1zM419.5 455.5h1v1h-1zM427.3 450.4h1v1h-1zM421.0 481.2h1v1h-1zM411.5 447.5h1v1h-1zM408.5 463.2h1v1h-1zM423.5 468.2h1v1h-1zM421.4 470.2h1v1h-1zM428.3 454.7h1v1h-1zM406.5 470.4h1v1h-1zM443.4 468.4h1v1h-1zM425.3 469.1h1v1h-1zM413.1 468.7h1v1h-1zM427.3 452.9h1v1h-1zM426.1 464.2h1v1h-1zM434.5 455.9h1v1h-1zM421.0 463.6h1v1h-1zM427.4 476.5h1v1h-1zM428.2 435.2h1v1h-1zM424.1 449.2h1v1h-1zM416.6 468.7h1v1h-1zM417.5 466.7h1v1h-1zM432.9 482.1h1v1h-1zM407.6 474.2h1v1h-1zM419.2 473.4h1v1h-1zM413.7 476.8h1v1h-1zM439.6 476.5h1v1h-1zM428.3 458.7h1v1h-1zM438.7 475.9h1v1h-1zM417.6 461.6h1v1h-1zM416.2 468.4h1v1h-1zM422.9 450.5h1v1h-1zM419.1 470.2h1v1h-1zM421.6 477.7h1v1h-1zM424.5 471.8h1v1h-1zM439.1 469.9h1v1h-1zM430.5 443.6h1v1h-1zM404.8 469.7h1v1h-1zM431.5 464.1h1v1h-1zM423.5 464.8h1v1h-1zM442.3 456.8h1v1h-1zM430.2 467.0h1v1h-1zM421.3 486.3h1v1h-1zM440.8 447.1h1v1h-1zM430.0 476.9h1v1h-1zM420.8 470.2h1v1h-1zM427.4 458.4h1v1h-1zM414.5 446.2h1v1h-1zM410.8 492.0h1v1h-1zM429.7 461.6h1v1h-1zM421.3 468.9h1v1h-1zM418.6 453.7h1v1h-1zM419.9 457.7h1v1h-1zM442.7 448.3h1v1h-1zM433.8 469.0h1v1h-1zM438.5 462.5h1v1h-1zM420.1 471.9h1v1h-1zM432.5 458.3h1v1h-1zM420.6 460.3h1v1h-1zM436.0 472.1h1v1h-1zM404.4 467.3h1v1h-1zM403.0 466.1h1v1h-1zM448.1 465.4h1v1h-1zM428.5 461.0h1v1h-1zM442.6 459.1h1v1h-1zM406.1 485.3h1v1h-1zM439.8 440.1h1v1h-1zM413.9 467.5h1v1h-1zM432.8 447.8h1v1h-1zM436.4 468.8h1v1h-1zM425.6 463.4h1v1h-1zM406.7 466.6h1v1h-1zM422.5 446.9h1v1h-1zM441.7 463.2h1v1h-1zM434.2 450.1h1v1h-1zM418.4 473.3h1v1h-1zM438.1 456.6h1v1h-1zM426.8 459.8h1v1h-1zM416.3 444.2h1v1h-1zM426.9 485.6h1v1h-1zM433.0 465.2h1v1h-1zM403.1 476.9h1v1h-1zM420.0 468.3h1v1h-1zM428.8 450.6h1v1h-1zM419.6 459.2h1v1h-1zM425.2 469.4h1v1h-1zM434.8 467.5h1v1h-1zM420.4 481.4h1v1h-1zM421.5 455.8h1v1h-1zM429.0 448.8h1v1h-1zM425.3 471.7h1v1h-1zM431.8 449.5h1v1h-1zM438.4 454.1h1v1h-1zM423.7 476.6h1v1h-1zM419.1 459.8h1v1h-1zM432.4 474.3h1v1h-1zM424.9 460.2h1v1h-1zM419.6 448.7h1v1h-1zM439.1 467.5h1v1h-1zM406.9 468.5h1v1h-1zM416.0 471.5h1v1h-1zM418.2 471.7h1v1h-1zM418.6 475.8h1v1h-1zM431.9 462.7h1v1h-1zM426.0 475.5h1v1h-1zM407.3 474.9h1v1h-1zM433.2 473.8h1v1h-1zM425.8 472.4h1v1h-1zM451.4 462.7h1v1h-1zM431.3 444.2h1v1h-1zM430.0 465.8h1v1h-1zM433.1 462.2h1v1h-1zM423.6 466.4h1v1h-1zM419.1 482.0h1v1h-1zM422.2 458.4h1v1h-1zM437.9 448.8h1v1h-1zM423.7 474.6h1v1h-1zM432.4 465.1h1v1h-1zM429.3 470.7h1v1h-1zM434.2 471.5h1v1h-1zM420.5 456.8h1v1h-1zM420.7 477.8h1v1h-1zM420.3 447.2h1v1h-1zM428.3 459.0h1v1h-1zM420.2 457.3h1v1h-1zM411.3 471.3h1v1h-1zM414.9 469.7h1v1h-1zM425.3 464.3h1v1h-1zM431.4 441.9h1v1h-1zM421.6 469.6h1v1h-1zM421.1 452.8h1v1h-1zM415.2 479.6h1v1h-1zM431.5 465.2h1v1h-1zM417.5 449.5h1v1h-1zM431.3 454.6h1v1h-1zM437.1 443.6h1v1h-1zM407.0 483.7h1v1h-1zM428.0 465.3h1v1h-1zM421.8 459.7h1v1h-1zM410.2 478.9h1v1h-1zM416.8 463.7h1v1h-1zM422.3 462.5h1v1h-1zM402.6 477.9h1v1h-1zM415.9 470.9h1v1h-1zM436.2 450.0h1v1h-1zM412.5 446.7h1v1h-1zM429.3 450.6h1v1h-1zM420.0 453.3h1v1h-1zM430.0 470.4h1v1h-1zM425.6 466.6h1v1h-1zM413.0 467.3h1v1h-1zM424.8 461.4h1v1h-1zM420.1 459.6h1v1h-1zM426.8 473.2h1v1h-1zM431.8 449.8h1v1h-1zM420.2 471.6h1v1h-1zM433.2 458.4h1v1h-1zM430.9 454.0h1v1h-1zM402.7 461.7h1v1h-1zM432.5 458.9h1v1h-1zM421.9 473.0h1v1h-1zM423.1 481.8h1v1h-1zM440.7 463.0h1v1h-1zM431.5 477.9h1v1h-1zM442.3 467.6h1v1h-1zM418.3 486.1h1v1h-1zM431.9 451.4h1v1h-1zM432.3 457.1h1v1h-1zM433.4 450.4h1v1h-1zM415.8 457.1h1v1h-1zM433.6 441.2h1v1h-1zM409.5 468.7h1v1h-1zM425.3 464.6h1v1h-1zM439.2 470.8h1v1h-1zM420.8 446.9h1v1h-1zM424.2 462.2h1v1h-1zM430.9 458.9h1v1h-1zM435.3 453.8h1v1h-1zM431.9 441.3h1v1h-1zM440.0 460.2h1v1h-1zM408.8 463.1h1v1h-1zM422.2 473.2h1v1h-1zM425.7 440.9h1v1h-1zM412.6 459.5h1v1h-1zM431.3 458.8h1v1h-1zM430.1 469.3h1v1h-1zM437.5 471.4h1v1h-1zM417.6 463.8h1v1h-1zM424.1 464.6h1v1h-1zM431.0 451.0h1v1h-1zM415.2 465.4h1v1h-1zM403.7 459.5h1v1h-1zM429.0 466.9h1v1h-1zM419.7 458.6h1v1h-1zM436.6 461.2h1v1h-1zM431.0 466.6h1v1h-1zM426.5 468.5h1v1h-1zM419.2 452.5h1v1h-1zM415.1 465.0h1v1h-1zM407.8 445.1h1v1h-1zM426.3 462.3h1v1h-1zM425.8 469.1h1v1h-1zM414.6 479.8h1v1h-1zM413.9 467.9h1v1h-1zM432.1 450.4h1v1h-1zM432.0 455.2h1v1h-1zM419.1 465.3h1v1h-1zM410.7 475.9h1v1h-1zM435.8 472.6h1v1h-1zM436.1 463.4h1v1h-1zM411.6 468.6h1v1h-1zM431.0 464.9h1v1h-1zM423.9 481.0h1v1h-1zM421.4 472.4h1v1h-1zM426.1 473.8h1v1h-1zM438.4 463.6h1v1h-1zM418.5 474.1h1v1h-1zM441.3 444.8h1v1h-1zM428.7 461.5h1v1h-1zM433.3 480.3h1v1h-1zM431.0 446.5h1v1h-1zM442.1 472.1h1v1h-1zM428.4 461.2h1v1h-1zM437.9 461.3h1v1h-1zM409.0 470.7h1v1h-1zM432.1 447.0h1v1h-1zM419.1 461.3h1v1h-1zM429.5 439.9h1v1h-1zM422.7 460.9h1v1h-1zM412.9 459.9h1v1h-1zM416.7 470.9h1v1h-1zM412.3 451.1h1v1h-1zM418.4 458.6h1v1h-1zM420.5 462.6h1v1h-1zM421.5 464.5h1v1h-1zM427.8 460.8h1v1h-1zM393.3 465.0h1v1h-1zM415.4 479.8h1v1h-1zM403.7 473.7h1v1h-1zM435.3 446.1h1v1h-1zM425.1 468.9h1v1h-1zM425.0 455.9h1v1h-1zM409.5 451.2h1v1h-1zM430.9 465.7h1v1h-1zM417.8 486.5h1v1h-1zM419.2 431.5h1v1h-1zM433.0 475.7h1v1h-1zM423.9 454.3h1v1h-1zM416.5 468.2h1v1h-1zM422.7 453.4h1v1h-1zM413.7 479.2h1v1h-1zM430.8 482.8h1v1h-1zM418.1 476.1h1v1h-1zM411.0 457.7h1v1h-1zM404.9 457.0h1v1h-1zM419.6 455.5h1v1h-1zM402.5 466.3h1v1h-1zM438.5 455.6h1v1h-1zM414.9 473.1h1v1h-1zM433.0 463.0h1v1h-1zM408.1 451.7h1v1h-1zM435.8 448.7h1v1h-1zM424.7 444.2h1v1h-1zM440.1 466.3h1v1h-1zM423.4 446.7h1v1h-1zM433.7 477.2h1v1h-1zM422.9 476.9h1v1h-1zM411.2 457.1h1v1h-1zM439.5 463.3h1v1h-1zM430.8 460.8h1v1h-1zM416.6 443.1h1v1h-1zM436.7 476.3h1v1h-1zM435.9 467.4h1v1h-1zM424.7 469.4h1v1h-1zM419.0 479.0h1v1h-1zM423.3 460.0h1v1h-1zM424.5 465.8h1v1h-1zM431.4 468.0h1v1h-1zM415.4 442.0h1v1h-1zM434.5 469.9h1v1h-1zM413.8 474.5h1v1h-1zM437.5 439.2h1v1h-1zM433.5 457.4h1v1h-1zM411.0 476.5h1v1h-1zM407.3 479.5h1v1h-1zM435.9 460.8h1v1h-1zM422.2 458.8h1v1h-1zM438.3 467.0h1v1h-1zM437.5 464.3h1v1h-1zM431.0 463.7h1v1h-1zM428.7 482.8h1v1h-1zM409.2 469.0h1v1h-1zM413.1 466.8h1v1h-1zM432.7 451.5h1v1h-1zM419.9 465.6h1v1h-1zM434.2 473.5h1v1h-1zM432.3 448.5h1v1h-1zM441.9 453.2h1v1h-1zM436.5 470.5h1v1h-1zM427.5 465.9h1v1h-1zM416.5 456.2h1v1h-1zM407.1 470.2h1v1h-1zM412.9 469.2h1v1h-1zM428.3 477.0h1v1h-1zM430.1 469.8h1v1h-1zM420.1 456.4h1v1h-1z" fill="#2a2a2a"/>
<path d="M426.7 423.1h1v1h-1zM409.4 434.3h1v1h-1zM429.5 432.4h1v1h-1zM441.6 423.9h1v1h-1zM428.0 418.5h1v1h-1zM419.4 435.4h1v1h-1zM411.5 424.1h1v1h-1zM426.1 441.9h1v1h-1zM438.9 430.8h1v1h-1zM437.1 432.4h1v1h-1zM424.9 428.7h1v1h-1zM435.0 431.2h1v1h-1zM438.9 428.6h1v1h-1zM439.6 429.4h1v1h-1zM443.8 437.8h1v1h-1zM421.3 445.6h1v1h-1zM434.1 427.9h1v1h-1zM414.9 432.5h1v1h-1zM431.3 427.4h1v1h-1zM416.7 429.1h1v1h-1zM417.0 428.0h1v1h-1zM419.2 434.5h1v1h-1zM399.5 443.8h1v1h-1zM424.4 431.6h1v1h-1zM413.9 438.3h1v1h-1zM428.0 429.8h1v1h-1zM418.7 435.4h1v1h-1zM435.3 428.1h1v1h-1zM449.0 426.5h1v1h-1zM444.0 432.9h1v1h-1zM413.4 430.3h1v1h-1zM436.1 429.4h1v1h-1zM430.8 431.3h1v1h-1zM434.7 427.9h1v1h-1zM451.7 433.8h1v1h-1zM447.3 430.4h1v1h-1zM432.1 426.1h1v1h-1zM430.2 440.9h1v1h-1zM433.4 427.6h1v1h-1zM423.2 435.4h1v1h-1zM427.8 444.0h1v1h-1zM432.5 432.1h1v1h-1zM438.5 441.6h1v1h-1zM411.7 427.7h1v1h-1zM421.6 420.2h1v1h-1zM427.8 431.3h1v1h-1zM439.9 435.7h1v1h-1zM437.6 435.5h1v1h-1zM424.7 449.0h1v1h-1zM447.5 430.0h1v1h-1zM419.1 434.9h1v1h-1zM441.9 434.8h1v1h-1zM439.2 437.8h1v1h-1zM434.9 426.4h1v1h-1zM424.0 421.4h1v1h-1zM440.9 428.8h1v1h-1zM432.0 444.6h1v1h-1zM420.4 432.0h1v1h-1zM420.3 421.1h1v1h-1zM441.6 431.4h1v1h-1zM429.1 436.5h1v1h-1zM427.5 436.0h1v1h-1zM444.9 427.9h1v1h-1zM435.1 432.8h1v1h-1zM442.5 446.5h1v1h-1zM418.1 441.1h1v1h-1zM431.2 435.9h1v1h-1zM434.4 431.2h1v1h-1zM415.3 432.0h1v1h-1zM419.5 440.6h1v1h-1z" fill="#333"/>
<path d="M425.9 454.9h1v1h-1zM427.7 466.8h1v1h-1zM417.5 469.5h1v1h-1zM422.7 455.4h1v1h-1zM430.2 452.0h1v1h-1zM432.7 454.4h1v1h-1zM421.1 463.4h1v1h-1zM427.8 450.1h1v1h-1zM420.0 464.6h1v1h-1zM431.3 459.1h1v1h-1zM414.7 461.1h1v1h-1zM423.9 459.7h1v1h-1zM421.0 452.1h1v1h-1zM417.8 458.6h1v1h-1zM426.8 442.0h1v1h-1zM417.6 463.6h1v1h-1zM412.8 468.9h1v1h-1zM414.4 458.4h1v1h-1zM427.6 468.3h1v1h-1zM431.6 464.6h1v1h-1zM433.6 452.8h1v1h-1zM414.6 453.0h1v1h-1zM413.7 473.4h1v1h-1zM426.4 460.3h1v1h-1zM418.9 464.2h1v1h-1zM422.2 470.0h1v1h-1zM417.8 451.4h1v1h-1zM426.7 468.5h1v1h-1zM414.5 461.9h1v1h-1zM417.2 463.7h1v1h-1zM425.2 458.8h1v1h-1zM423.9 456.7h1v1h-1zM434.9 461.7h1v1h-1zM421.1 466.5h1v1h-1zM427.9 458.8h1v1h-1zM427.0 462.1h1v1h-1zM421.5 458.8h1v1h-1zM423.7 467.7h1v1h-1zM415.0 456.0h1v1h-1zM420.4 460.8h1v1h-1zM434.7 458.8h1v1h-1zM423.7 471.6h1v1h-1zM433.7 464.1h1v1h-1zM424.9 465.8h1v1h-1zM436.1 461.8h1v1h-1zM417.6 467.7h1v1h-1zM425.4 458.4h1v1h-1zM419.1 464.3h1v1h-1zM433.7 467.2h1v1h-1zM430.0 463.9h1v1h-1zM423.3 464.0h1v1h-1zM425.6 460.5h1v1h-1zM416.7 468.7h1v1h-1zM441.2 444.2h1v1h-1zM426.8 477.1h1v1h-1zM429.7 458.6h1v1h-1zM415.1 468.1h1v1h-1zM423.5 460.8h1v1h-1zM422.0 468.7h1v1h-1zM422.1 472.5h1v1h-1zM423.7 458.4h1v1h-1zM417.5 470.8h1v1h-1zM421.8 451.9h1v1h-1zM434.7 448.9h1v1h-1zM421.1 474.1h1v1h-1zM415.5 462.8h1v1h-1zM413.0 464.9h1v1h-1zM419.3 457.4h1v1h-1zM422.8 454.3h1v1h-1zM415.6 451.7h1v1h-1zM421.6 463.0h1v1h-1zM427.5 454.8h1v1h-1zM427.2 460.8h1v1h-1zM422.0 467.5h1v1h-1zM424.8 456.1h1v1h-1zM422.8 472.5h1v1h-1zM432.5 454.3h1v1h-1zM437.5 459.3h1v1h-1zM426.6 463.2h1v1h-1zM430.6 458.6h1v1h-1zM422.7 459.0h1v1h-1zM430.7 456.3h1v1h-1zM437.0 452.0h1v1h-1zM420.9 454.5h1v1h-1zM425.6 461.9h1v1h-1zM421.5 458.0h1v1h-1zM404.2 473.9h1v1h-1zM432.3 465.7h1v1h-1zM420.3 469.0h1v1h-1zM421.1 471.6h1v1h-1zM423.8 461.4h1v1h-1zM424.7 455.3h1v1h-1zM425.1 468.0h1v1h-1zM413.0 464.9h1v1h-1zM432.7 458.2h1v1h-1zM417.2 461.9h1v1h-1zM433.3 466.8h1v1h-1zM432.9 449.9h1v1h-1zM421.5 463.0h1v1h-1zM415.6 471.8h1v1h-1zM426.8 466.7h1v1h-1zM421.6 466.2h1v1h-1zM419.3 461.6h1v1h-1zM432.3 445.8h1v1h-1zM426.1 462.2h1v1h-1zM437.9 449.8h1v1h-1zM423.7 463.8h1v1h-1zM438.0 451.7h1v1h-1zM438.2 465.1h1v1h-1zM424.5 470.0h1v1h-1zM425.2 470.1h1v1h-1zM431.1 459.4h1v1h-1zM428.1 459.4h1v1h-1zM402.9 472.9h1v1h-1zM438.6 447.6h1v1h-1zM427.0 463.2h1v1h-1zM431.9 455.1h1v1h-1zM434.2 456.2h1v1h-1zM422.5 464.3h1v1h-1zM428.0 450.2h1v1h-1zM422.7 456.7h1v1h-1zM417.6 455.5h1v1h-1zM423.5 456.8h1v1h-1zM430.6 452.1h1v1h-1zM442.3 452.2h1v1h-1zM429.1 472.7h1v1h-1zM427.7 460.9h1v1h-1zM417.2 467.4h1v1h-1zM416.2 458.9h1v1h-1zM424.0 472.1h1v1h-1zM421.8 463.2h1v1h-1zM418.6 463.1h1v1h-1zM421.3 462.8h1v1h-1zM428.6 463.3h1v1h-1zM424.0 459.9h1v1h-1zM422.1 467.5h1v1h-1zM426.2 456.3h1v1h-1zM413.5 470.6h1v1h-1zM418.1 478.6h1v1h-1zM430.1 465.0h1v1h-1zM426.9 464.9h1v1h-1zM438.3 453.3h1v1h-1zM412.4 460.3h1v1h-1zM422.0 464.3h1v1h-1zM409.7 459.7h1v1h-1zM419.8 463.4h1v1h-1zM412.3 470.9h1v1h-1zM424.0 451.1h1v1h-1zM424.4 459.0h1v1h-1zM426.6 459.9h1v1h-1zM420.1 468.3h1v1h-1zM437.8 449.4h1v1h-1zM413.9 467.7h1v1h-1zM434.4 448.2h1v1h-1zM419.5 454.3h1v1h-1zM413.9 469.4h1v1h-1zM423.2 455.6h1v1h-1zM424.5 456.6h1v1h-1zM409.9 471.9h1v1h-1zM436.6 465.9h1v1h-1zM416.2 470.7h1v1h-1zM427.8 459.9h1v1h-1zM431.0 465.6h1v1h-1zM428.5 450.4h1v1h-1zM418.9 465.5h1v1h-1zM415.6 469.8h1v1h-1zM426.5 453.3h1v1h-1zM419.5 459.3h1v1h-1zM426.8 461.4h1v1h-1zM421.6 470.2h1v1h-1zM418.5 466.5h1v1h-1zM421.9 454.7h1v1h-1zM417.8 458.0h1v1h-1zM429.7 453.5h1v1h-1zM418.1 472.4h1v1h-1zM429.3 470.1h1v1h-1zM426.0 463.7h1v1h-1zM416.4 466.2h1v1h-1zM426.9 464.8h1v1h-1zM432.8 452.6h1v1h-1zM419.7 457.5h1v1h-1zM419.6 463.8h1v1h-1zM438.0 461.0h1v1h-1zM420.1 459.0h1v1h-1zM421.8 469.5h1v1h-1zM435.6 454.4h1v1h-1zM434.8 450.3h1v1h-1zM422.9 463.5h1v1h-1zM416.2 466.7h1v1h-1zM413.3 456.1h1v1h-1zM427.1 462.3h1v1h-1zM432.1 451.5h1v1h-1zM428.3 449.9h1v1h-1zM429.1 449.9h1v1h-1zM418.4 455.6h1v1h-1zM433.4 448.1h1v1h-1zM431.2 452.9h1v1h-1zM429.3 461.5h1v1h-1zM419.3 469.1h1v1h-1zM418.7 458.3h1v1h-1zM430.8 452.9h1v1h-1zM433.4 452.7h1v1h-1zM420.4 460.0h1v1h-1zM422.6 457.5h1v1h-1zM428.5 451.9h1v1h-1zM432.0 450.1h1v1h-1zM422.1 457.9h1v1h-1zM430.9 437.6h1v1h-1zM434.7 459.5h1v1h-1zM439.5 460.3h1v1h-1zM427.8 444.2h1v1h-1zM422.2 455.3h1v1h-1zM423.0 460.4h1v1h-1zM435.0 457.0h1v1h-1zM421.8 456.9h1v1h-1zM427.5 458.2h1v1h-1zM426.1 466.4h1v1h-1zM429.9 448.6h1v1h-1zM428.6 447.6h1v1h-1zM415.6 456.6h1v1h-1zM434.2 464.9h1v1h-1zM414.8 465.0h1v1h-1zM418.8 466.9h1v1h-1zM425.6 447.7h1v1h-1zM437.4 463.3h1v1h-1zM423.0 461.8h1v1h-1zM420.5 448.6h1v1h-1zM421.2 467.8h1v1h-1zM427.6 463.2h1v1h-1zM418.0 465.6h1v1h-1zM415.4 460.3h1v1h-1zM435.8 462.9h1v1h-1zM420.7 467.3h1v1h-1zM434.1 461.7h1v1h-1zM414.4 458.2h1v1h-1zM424.5 454.1h1v1h-1zM415.6 466.6h1v1h-1zM425.2 461.1h1v1h-1zM415.0 453.1h1v1h-1zM413.2 475.4h1v1h-1zM435.0 453.9h1v1h-1zM422.0 470.6h1v1h-1zM424.2 471.4h1v1h-1zM430.2 461.7h1v1h-1zM422.2 467.7h1v1h-1zM417.5 477.8h1v1h-1zM417.1 467.5h1v1h-1zM434.4 458.3h1v1h-1zM419.8 453.0h1v1h-1zM432.1 450.4h1v1h-1zM422.8 474.7h1v1h-1zM440.5 442.1h1v1h-1zM436.6 457.0h1v1h-1zM430.9 460.0h1v1h-1zM419.4 449.7h1v1h-1zM419.0 462.6h1v1h-1zM420.5 465.6h1v1h-1zM427.9 463.2h1v1h-1zM436.2 443.3h1v1h-1zM437.6 462.5h1v1h-1zM418.8 453.5h1v1h-1zM430.3 465.3h1v1h-1zM423.5 450.3h1v1h-1zM426.9 457.5h1v1h-1zM426.0 466.4h1v1h-1zM415.9 481.8h1v1h-1zM435.5 446.9h1v1h-1zM413.7 460.0h1v1h-1zM425.7 455.2h1v1h-1zM404.6 464.1h1v1h-1zM432.7 460.5h1v1h-1zM423.2 474.2h1v1h-1zM422.7 463.8h1v1h-1zM423.4 470.5h1v1h-1zM423.8 461.1h1v1h-1zM424.5 454.9h1v1h-1zM435.3 452.8h1v1h-1zM416.5 459.1h1v1h-1zM427.0 459.4h1v1h-1zM419.5 456.4h1v1h-1zM433.8 452.4h1v1h-1zM433.9 456.2h1v1h-1zM421.5 458.3h1v1h-1zM420.9 471.9h1v1h-1zM429.7 467.0h1v1h-1zM436.8 453.1h1v1h-1zM430.4 463.8h1v1h-1zM436.0 449.0h1v1h-1zM436.7 462.3h1v1h-1zM422.5 468.7h1v1h-1zM427.3 463.2h1v1h-1zM431.3 453.5h1v1h-1zM435.6 464.1h1v1h-1zM433.2 457.5h1v1h-1zM427.5 459.5h1v1h-1zM432.2 452.3h1v1h-1zM421.6 460.1h1v1h-1zM425.1 462.5h1v1h-1zM425.5 459.1h1v1h-1zM436.4 441.4h1v1h-1zM430.3 461.6h1v1h-1zM427.0 460.2h1v1h-1zM418.8 468.3h1v1h-1zM427.6 451.5h1v1h-1zM432.4 460.8h1v1h-1zM427.3 460.0h1v1h-1zM421.6 474.0h1v1h-1zM445.6 450.8h1v1h-1zM425.2 438.2h1v1h-1zM419.1 462.4h1v1h-1zM423.6 457.2h1v1h-1zM412.8 470.5h1v1h-1zM413.6 468.7h1v1h-1zM438.2 462.0h1v1h-1zM431.8 459.7h1v1h-1zM408.9 466.5h1v1h-1zM431.4 458.6h1v1h-1zM423.1 456.3h1v1h-1zM424.0 464.7h1v1h-1zM436.0 448.6h1v1h-1zM420.1 483.6h1v1h-1zM427.3 453.5h1v1h-1zM437.3 454.2h1v1h-1zM419.9 460.8h1v1h-1zM430.8 455.1h1v1h-1zM431.5 448.9h1v1h-1zM415.3 459.2h1v1h-1zM432.3 470.0h1v1h-1zM413.1 475.6h1v1h-1zM414.3 463.2h1v1h-1zM429.3 439.5h1v1h-1zM412.6 453.7h1v1h-1zM422.8 466.5h1v1h-1zM429.1 464.3h1v1h-1zM427.6 453.4h1v1h-1zM427.4 461.7h1v1h-1zM413.4 453.4h1v1h-1zM423.4 464.3h1v1h-1zM418.5 451.1h1v1h-1zM422.2 468.4h1v1h-1zM423.7 469.0h1v1h-1zM410.1 459.6h1v1h-1zM426.6 477.1h1v1h-1zM417.3 462.3h1v1h-1zM425.5 454.9h1v1h-1zM409.8 470.4h1v1h-1zM424.7 446.7h1v1h-1zM415.6 467.7h1v1h-1zM423.4 456.1h1v1h-1zM434.8 447.5h1v1h-1zM417.5 468.8h1v1h-1zM426.3 458.8h1v1h-1zM431.9 470.2h1v1h-1zM436.6 452.7h1v1h-1zM427.0 464.3h1v1h-1zM431.4 456.2h1v1h-1zM423.9 470.5h1v1h-1zM423.6 451.6h1v1h-1zM433.9 459.8h1v1h-1zM428.3 454.6h1v1h-1zM421.3 458.7h1v1h-1zM427.8 467.4h1v1h-1zM424.9 451.7h1v1h-1zM433.4 462.1h1v1h-1zM437.2 452.6h1v1h-1zM418.9 463.9h1v1h-1zM418.7 461.3h1v1h-1zM417.5 468.5h1v1h-1zM424.2 456.2h1v1h-1zM435.5 446.4h1v1h-1zM439.0 463.2h1v1h-1zM432.0 469.2h1v1h-1zM436.3 465.1h1v1h-1zM426.8 450.8h1v1h-1zM414.8 458.3h1v1h-1zM419.0 460.9h1v1h-1zM418.4 449.5h1v1h-1zM411.7 470.2h1v1h-1zM424.5 467.8h1v1h-1zM419.9 459.1h1v1h-1zM421.1 450.2h1v1h-1zM431.2 462.3h1v1h-1zM427.7 451.1h1v1h-1zM438.2 450.6h1v1h-1zM432.6 461.3h1v1h-1zM430.2 447.3h1v1h-1zM424.7 459.3h1v1h-1zM427.6 462.0h1v1h-1zM429.4 455.4h1v1h-1zM436.2 460.2h1v1h-1zM421.0 451.7h1v1h-1zM411.0 471.1h1v1h-1zM423.4 460.7h1v1h-1zM425.5 459.2h1v1h-1zM433.5 451.6h1v1h-1zM420.1 461.0h1v1h-1zM426.3 453.2h1v1h-1zM422.9 461.3h1v1h-1zM413.0 458.5h1v1h-1zM412.1 463.5h1v1h-1zM416.1 465.0h1v1h-1zM425.2 455.8h1v1h-1zM421.4 473.4h1v1h-1zM415.6 451.9h1v1h-1zM418.2 455.2h1v1h-1zM420.4 460.7h1v1h-1zM419.8 450.8h1v1h-1zM430.1 463.3h1v1h-1zM419.0 472.0h1v1h-1zM429.3 458.1h1v1h-1zM431.7 447.3h1v1h-1zM423.7 464.5h1v1h-1zM429.1 456.5h1v1h-1zM426.4 456.9h1v1h-1zM425.7 455.6h1v1h-1zM424.2 455.8h1v1h-1zM415.7 456.3h1v1h-1zM420.6 464.2h1v1h-1zM420.9 464.7h1v1h-1zM431.5 452.4h1v1h-1zM419.0 463.3h1v1h-1zM416.7 475.7h1v1h-1zM429.4 446.1h1v1h-1zM439.4 438.0h1v1h-1zM430.9 455.2h1v1h-1zM439.7 454.3h1v1h-1zM438.0 459.0h1v1h-1zM429.5 461.1h1v1h-1zM427.3 473.7h1v1h-1zM428.2 462.6h1v1h-1zM423.4 455.9h1v1h-1zM417.0 464.0h1v1h-1zM418.9 457.3h1v1h-1zM428.1 461.7h1v1h-1zM425.4 455.1h1v1h-1zM430.7 465.6h1v1h-1zM429.8 453.2h1v1h-1zM426.3 465.9h1v1h-1zM414.7 475.8h1v1h-1zM416.1 464.5h1v1h-1zM426.7 465.7h1v1h-1zM417.0 472.9h1v1h-1zM430.5 446.3h1v1h-1zM437.8 466.4h1v1h-1zM427.1 465.3h1v1h-1zM423.0 463.2h1v1h-1zM409.5 474.0h1v1h-1zM444.8 455.2h1v1h-1zM423.2 465.7h1v1h-1zM422.3 462.2h1v1h-1zM426.2 471.3h1v1h-1zM428.8 469.5h1v1h-1zM430.1 468.8h1v1h-1zM418.7 456.3h1v1h-1zM421.9 465.0h1v1h-1zM434.4 457.1h1v1h-1zM425.3 473.3h1v1h-1zM428.7 459.1h1v1h-1zM426.0 468.4h1v1h-1zM419.0 454.9h1v1h-1zM427.1 461.8h1v1h-1zM422.2 459.8h1v1h-1zM421.8 452.5h1v1h-1zM428.4 452.0h1v1h-1zM418.4 470.1h1v1h-1zM440.0 455.4h1v1h-1zM414.1 464.4h1v1h-1zM431.5 456.8h1v1h-1zM431.7 459.7h1v1h-1zM421.2 477.0h1v1h-1zM418.7 468.9h1v1h-1zM421.9 467.6h1v1h-1zM436.6 454.1h1v1h-1zM421.5 464.4h1v1h-1zM424.7 459.1h1v1h-1zM427.9 450.8h1v1h-1zM425.1 452.1h1v1h-1zM433.8 458.7h1v1h-1zM432.2 463.4h1v1h-1zM435.3 450.9h1v1h-1zM422.7 452.7h1v1h-1zM425.0 470.5h1v1h-1zM419.4 479.4h1v1h-1zM428.5 452.1h1v1h-1zM424.2 455.5h1v1h-1zM431.2 449.0h1v1h-1zM434.4 451.1h1v1h-1zM423.0 470.6h1v1h-1zM432.3 458.3h1v1h-1zM431.0 450.5h1v1h-1zM415.9 469.0h1v1h-1zM429.5 459.0h1v1h-1zM422.9 467.0h1v1h-1zM418.8 468.7h1v1h-1zM431.6 457.2h1v1h-1zM423.3 449.7h1v1h-1zM423.2 460.4h1v1h-1zM422.5 459.9h1v1h-1zM429.8 461.8h1v1h-1zM431.0 454.0h1v1h-1zM426.2 462.8h1v1h-1zM419.5 473.1h1v1h-1zM425.5 467.2h1v1h-1zM429.8 458.9h1v1h-1zM439.5 455.9h1v1h-1zM425.8 452.2h1v1h-1zM418.1 463.7h1v1h-1zM421.1 459.0h1v1h-1zM425.0 471.2h1v1h-1zM425.1 482.3h1v1h-1zM425.5 460.0h1v1h-1zM413.8 473.2h1v1h-1zM432.4 461.0h1v1h-1zM410.5 469.0h1v1h-1zM436.0 450.7h1v1h-1zM437.2 454.6h1v1h-1zM431.5 449.6h1v1h-1zM430.9 455.5h1v1h-1zM413.9 474.6h1v1h-1zM422.5 465.5h1v1h-1zM418.6 453.5h1v1h-1zM433.5 450.8h1v1h-1zM418.5 450.2h1v1h-1zM427.2 460.5h1v1h-1zM424.0 451.1h1v1h-1zM427.9 446.0h1v1h-1zM431.3 458.7h1v1h-1zM426.0 451.1h1v1h-1zM419.9 448.2h1v1h-1zM430.5 455.6h1v1h-1zM430.8 457.3h1v1h-1zM420.8 476.5h1v1h-1zM431.6 463.2h1v1h-1zM416.3 478.3h1v1h-1zM418.9 459.1h1v1h-1zM431.4 457.5h1v1h-1zM448.3 455.1h1v1h-1zM426.9 463.6h1v1h-1zM429.5 456.9h1v1h-1zM416.7 463.3h1v1h-1zM413.6 465.4h1v1h-1zM433.7 462.1h1v1h-1zM404.9 468.7h1v1h-1zM423.2 465.2h1v1h-1zM433.3 464.9h1v1h-1zM424.0 455.0h1v1h-1zM423.5 445.0h1v1h-1zM424.7 463.3h1v1h-1zM428.3 454.3h1v1h-1zM431.5 453.5h1v1h-1zM418.7 466.8h1v1h-1zM432.4 456.5h1v1h-1zM434.1 456.4h1v1h-1zM435.6 457.2h1v1h-1zM409.7 471.4h1v1h-1zM424.0 451.2h1v1h-1zM423.3 454.3h1v1h-1zM423.5 451.4h1v1h-1zM424.3 446.6h1v1h-1zM411.3 458.7h1v1h-1zM440.7 446.4h1v1h-1zM418.5 467.7h1v1h-1zM429.6 463.0h1v1h-1zM418.6 464.2h1v1h-1zM431.4 454.5h1v1h-1zM446.8 460.4h1v1h-1zM437.4 455.2h1v1h-1zM412.1 442.8h1v1h-1zM417.9 454.4h1v1h-1zM409.9 463.8h1v1h-1zM425.5 451.9h1v1h-1zM432.3 450.9h1v1h-1zM423.0 466.2h1v1h-1zM416.2 462.0h1v1h-1zM427.2 466.9h1v1h-1zM418.6 475.1h1v1h-1zM428.3 459.4h1v1h-1zM417.5 467.7h1v1h-1zM433.0 454.2h1v1h-1zM430.3 459.1h1v1h-1zM424.9 459.0h1v1h-1zM432.0 462.7h1v1h-1zM423.8 448.8h1v1h-1zM417.6 466.9h1v1h-1zM423.6 452.4h1v1h-1zM422.6 454.3h1v1h-1zM441.9 456.6h1v1h-1zM432.6 463.3h1v1h-1zM417.9 459.0h1v1h-1zM425.2 462.5h1v1h-1zM423.8 463.0h1v1h-1zM417.9 465.5h1v1h-1zM432.5 456.4h1v1h-1zM421.9 465.8h1v1h-1zM429.5 454.0h1v1h-1zM427.5 459.0h1v1h-1zM433.3 455.6h1v1h-1zM433.0 454.1h1v1h-1zM428.3 454.3h1v1h-1zM418.4 457.4h1v1h-1zM432.5 460.8h1v1h-1zM432.6 453.9h1v1h-1zM429.2 458.8h1v1h-1zM420.7 466.8h1v1h-1zM429.1 460.8h1v1h-1zM432.5 473.5h1v1h-1zM429.9 454.0h1v1h-1zM433.3 453.7h1v1h-1zM427.0 454.5h1v1h-1zM431.7 453.3h1v1h-1zM426.8 461.9h1v1h-1zM428.8 466.6h1v1h-1zM427.9 465.4h1v1h-1zM419.5 456.5h1v1h-1zM428.7 458.5h1v1h-1zM426.0 455.6h1v1h-1zM422.0 471.3h1v1h-1zM432.2 451.8h1v1h-1zM419.7 454.4h1v1h-1zM423.3 453.4h1v1h-1zM432.1 463.4h1v1h-1zM421.3 460.9h1v1h-1zM417.3 463.4h1v1h-1zM423.5 468.5h1v1h-1zM424.5 466.9h1v1h-1zM430.6 454.2h1v1h-1zM425.0 460.6h1v1h-1zM429.7 470.2h1v1h-1zM415.9 469.3h1v1h-1zM430.5 448.6h1v1h-1zM434.8 445.6h1v1h-1zM433.4 463.2h1v1h-1zM435.1 452.0h1v1h-1zM429.9 448.0h1v1h-1zM428.1 450.4h1v1h-1zM423.3 456.3h1v1h-1zM426.7 462.3h1v1h-1zM438.0 457.9h1v1h-1zM438.3 455.8h1v1h-1zM432.2 469.1h1v1h-1zM427.0 458.0h1v1h-1zM414.5 465.4h1v1h-1zM424.4 461.5h1v1h-1zM415.8 469.7h1v1h-1zM421.5 463.3h1v1h-1zM423.9 461.1h1v1h-1zM431.3 460.8h1v1h-1zM420.0 466.4h1v1h-1zM434.3 470.4h1v1h-1zM429.9 458.5h1v1h-1zM421.8 456.5h1v1h-1zM427.2 446.2h1v1h-1zM416.5 468.7h1v1h-1zM422.6 472.2h1v1h-1zM433.1 450.4h1v1h-1zM422.8 476.2h1v1h-1zM436.2 449.8h1v1h-1zM428.9 454.9h1v1h-1zM422.1 460.4h1v1h-1zM419.7 477.8h1v1h-1zM430.3 457.9h1v1h-1zM429.5 460.0h1v1h-1zM438.1 467.6h1v1h-1zM416.6 462.7h1v1h-1zM423.0 451.2h1v1h-1zM430.5 453.8h1v1h-1zM410.5 471.5h1v1h-1zM428.9 473.8h1v1h-1zM423.6 468.1h1v1h-1zM424.2 463.7h1v1h-1zM424.8 471.0h1v1h-1zM425.9 451.1h1v1h-1zM435.2 454.3h1v1h-1zM415.8 460.4h1v1h-1zM426.8 461.6h1v1h-1zM420.3 464.2h1v1h-1zM423.9 447.2h1v1h-1zM438.0 453.1h1v1h-1zM420.5 467.6h1v1h-1zM415.6 474.1h1v1h-1zM443.3 453.0h1v1h-1zM429.1 452.1h1v1h-1zM435.4 447.8h1v1h-1zM417.7 458.5h1v1h-1zM418.5 456.5h1v1h-1zM423.7 455.9h1v1h-1zM422.7 465.8h1v1h-1zM435.3 450.3h1v1h-1zM420.0 461.7h1v1h-1zM423.3 450.0h1v1h-1zM420.8 453.8h1v1h-1zM428.1 468.7h1v1h-1zM430.2 465.4h1v1h-1zM423.9 452.6h1v1h-1zM427.3 446.6h1v1h-1zM420.4 467.0h1v1h-1zM428.9 465.7h1v1h-1zM439.5 453.9h1v1h-1zM427.2 461.5h1v1h-1zM432.1 459.2h1v1h-1zM426.2 469.2h1v1h-1zM425.7 464.7h1v1h-1zM418.9 468.1h1v1h-1zM419.1 465.7h1v1h-1zM405.1 473.7h1v1h-1zM424.4 471.1h1v1h-1zM419.3 471.6h1v1h-1zM421.1 473.4h1v1h-1zM434.9 449.9h1v1h-1zM424.1 458.7h1v1h-1zM415.9 458.0h1v1h-1zM437.2 460.1h1v1h-1zM423.3 445.7h1v1h-1zM423.5 464.7h1v1h-1zM426.4 460.3h1v1h-1zM407.9 477.2h1v1h-1zM423.9 468.8h1v1h-1zM437.9 457.9h1v1h-1zM425.0 465.8h1v1h-1zM423.5 450.4h1v1h-1zM413.8 465.9h1v1h-1zM436.8 458.4h1v1h-1zM415.2 465.2h1v1h-1zM426.4 467.1h1v1h-1zM433.7 456.8h1v1h-1zM418.4 468.7h1v1h-1zM417.2 468.8h1v1h-1zM401.5 475.7h1v1h-1zM435.3 460.1h1v1h-1zM417.9 453.2h1v1h-1zM430.5 460.6h1v1h-1zM417.5 456.9h1v1h-1zM427.2 471.9h1v1h-1zM422.1 465.6h1v1h-1zM421.8 464.8h1v1h-1zM414.4 449.7h1v1h-1zM418.8 456.1h1v1h-1zM443.5 453.3h1v1h-1zM428.0 446.3h1v1h-1zM423.5 458.7h1v1h-1zM426.9 467.3h1v1h-1zM420.4 461.8h1v1h-1zM427.7 451.4h1v1h-1zM415.0 453.6h1v1h-1zM428.0 462.8h1v1h-1zM421.7 461.8h1v1h-1zM427.3 458.6h1v1h-1zM420.2 449.9h1v1h-1zM423.3 468.3h1v1h-1zM419.2 463.3h1v1h-1zM425.7 466.7h1v1h-1zM431.2 467.0h1v1h-1zM422.0 462.2h1v1h-1zM437.8 455.5h1v1h-1zM414.1 473.1h1v1h-1zM418.6 456.3h1v1h-1zM430.9 465.9h1v1h-1zM416.7 471.5h1v1h-1zM437.0 472.7h1v1h-1zM438.5 439.7h1v1h-1zM424.2 464.8h1v1h-1zM417.8 472.3h1v1h-1zM424.4 460.0h1v1h-1zM438.4 467.8h1v1h-1zM422.9 462.0h1v1h-1zM412.7 466.6h1v1h-1zM427.0 456.3h1v1h-1zM422.8 458.8h1v1h-1zM416.6 461.1h1v1h-1zM429.7 456.5h1v1h-1zM420.1 471.7h1v1h-1zM430.2 454.7h1v1h-1zM430.1 467.8h1v1h-1zM419.0 469.6h1v1h-1zM426.2 448.3h1v1h-1zM421.8 467.0h1v1h-1zM417.3 457.9h1v1h-1zM417.8 459.6h1v1h-1zM422.0 457.6h1v1h-1zM424.0 453.8h1v1h-1zM424.4 462.4h1v1h-1zM424.7 451.5h1v1h-1zM419.1 460.9h1v1h-1zM434.5 454.8h1v1h-1zM421.2 463.9h1v1h-1zM425.2 458.4h1v1h-1zM426.9 444.4h1v1h-1zM443.7 453.8h1v1h-1zM429.5 453.2h1v1h-1zM418.1 473.5h1v1h-1zM438.9 452.2h1v1h-1zM434.6 451.7h1v1h-1zM433.3 454.7h1v1h-1zM418.6 457.1h1v1h-1zM424.8 465.6h1v1h-1zM431.6 457.6h1v1h-1zM429.5 461.9h1v1h-1zM430.3 458.7h1v1h-1zM424.2 463.4h1v1h-1zM421.3 457.5h1v1h-1zM421.6 453.5h1v1h-1zM417.0 455.4h1v1h-1zM424.5 470.7h1v1h-1zM439.2 450.1h1v1h-1zM413.7 453.5h1v1h-1zM425.4 464.1h1v1h-1zM422.5 457.9h1v1h-1zM426.9 453.4h1v1h-1zM425.8 457.2h1v1h-1zM430.0 470.0h1v1h-1zM437.5 454.1h1v1h-1zM422.5 469.6h1v1h-1zM430.3 460.7h1v1h-1zM428.1 448.3h1v1h-1zM428.6 459.2h1v1h-1zM430.4 458.5h1v1h-1zM428.9 466.5h1v1h-1zM429.0 474.6h1v1h-1zM434.2 455.9h1v1h-1zM412.6 462.5h1v1h-1zM417.7 469.5h1v1h-1zM431.2 459.8h1v1h-1zM425.6 458.5h1v1h-1zM409.7 471.0h1v1h-1zM427.8 455.2h1v1h-1zM432.4 452.9h1v1h-1zM438.8 457.6h1v1h-1zM405.5 475.2h1v1h-1zM439.5 457.1h1v1h-1zM425.9 461.7h1v1h-1zM437.3 460.2h1v1h-1zM430.7 448.0h1v1h-1zM418.3 459.9h1v1h-1zM427.2 465.8h1v1h-1zM429.6 457.9h1v1h-1zM435.0 468.6h1v1h-1zM428.0 454.0h1v1h-1zM428.1 456.0h1v1h-1zM422.2 459.9h1v1h-1zM404.1 470.6h1v1h-1zM418.5 454.6h1v1h-1zM412.7 459.7h1v1h-1zM412.7 473.4h1v1h-1zM417.5 455.2h1v1h-1zM433.6 466.3h1v1h-1zM427.2 457.5h1v1h-1zM418.6 471.1h1v1h-1zM422.6 449.0h1v1h-1zM426.8 467.1h1v1h-1zM414.1 449.5h1v1h-1zM426.8 459.7h1v1h-1zM425.7 458.1h1v1h-1zM432.6 456.9h1v1h-1zM440.0 446.6h1v1h-1zM428.2 457.9h1v1h-1zM419.3 466.2h1v1h-1zM417.3 451.8h1v1h-1zM441.5 446.6h1v1h-1zM432.6 456.2h1v1h-1zM428.2 462.3h1v1h-1zM438.9 453.7h1v1h-1zM426.3 465.9h1v1h-1zM427.7 452.6h1v1h-1zM429.3 459.8h1v1h-1zM425.2 462.5h1v1h-1zM419.0 459.8h1v1h-1zM418.6 458.9h1v1h-1zM448.2 446.6h1v1h-1zM420.0 454.6h1v1h-1zM435.8 458.7h1v1h-1zM414.6 468.3h1v1h-1zM436.3 453.6h1v1h-1zM433.9 447.0h1v1h-1zM421.0 459.9h1v1h-1zM414.5 462.0h1v1h-1zM434.7 468.5h1v1h-1zM426.5 462.0h1v1h-1zM413.7 474.9h1v1h-1zM421.0 458.4h1v1h-1zM420.1 475.7h1v1h-1zM430.1 452.0h1v1h-1zM420.8 465.2h1v1h-1zM411.8 458.3h1v1h-1zM425.9 472.6h1v1h-1zM416.0 469.6h1v1h-1zM418.6 455.4h1v1h-1zM442.4 462.0h1v1h-1zM430.4 456.8h1v1h-1zM436.6 456.8h1v1h-1zM411.9 479.4h1v1h-1zM428.3 460.3h1v1h-1zM431.1 454.9h1v1h-1zM424.2 454.2h1v1h-1zM420.0 464.7h1v1h-1zM429.9 468.6h1v1h-1zM433.5 452.1h1v1h-1zM429.3 453.7h1v1h-1zM417.0 469.3h1v1h-1zM427.1 463.6h1v1h-1zM425.5 459.5h1v1h-1zM431.0 463.8h1v1h-1zM427.7 458.8h1v1h-1zM427.9 446.9h1v1h-1zM408.6 473.6h1v1h-1zM424.0 449.5h1v1h-1zM423.7 471.7h1v1h-1zM425.4 466.4h1v1h-1zM425.7 460.1h1v1h-1zM421.8 450.1h1v1h-1zM425.5 452.9h1v1h-1zM417.7 457.3h1v1h-1zM429.1 465.3h1v1h-1zM439.3 456.0h1v1h-1zM423.9 459.3h1v1h-1zM416.6 456.6h1v1h-1zM446.4 447.4h1v1h-1zM432.4 452.5h1v1h-1zM425.4 460.6h1v1h-1zM419.9 452.5h1v1h-1zM427.5 461.0h1v1h-1zM420.6 473.3h1v1h-1zM426.9 468.6h1v1h-1zM421.6 459.1h1v1h-1zM421.3 462.0h1v1h-1zM423.3 453.3h1v1h-1zM428.2 452.1h1v1h-1zM422.6 468.0h1v1h-1zM417.9 472.7h1v1h-1zM425.8 461.0h1v1h-1zM421.5 460.2h1v1h-1zM431.8 459.8h1v1h-1zM421.5 465.0h1v1h-1zM428.2 453.6h1v1h-1zM428.1 454.0h1v1h-1zM438.0 448.8h1v1h-1zM424.8 462.0h1v1h-1zM412.6 463.1h1v1h-1zM421.4 471.3h1v1h-1zM430.3 454.9h1v1h-1zM403.7 465.1h1v1h-1zM429.9 470.6h1v1h-1zM436.7 455.7h1v1h-1zM414.0 468.7h1v1h-1zM415.0 468.9h1v1h-1zM440.4 455.2h1v1h-1zM415.0 468.2h1v1h-1zM421.2 454.7h1v1h-1zM427.1 448.5h1v1h-1zM427.2 461.9h1v1h-1zM414.7 453.4h1v1h-1zM425.8 465.9h1v1h-1zM409.7 457.8h1v1h-1zM422.5 460.8h1v1h-1zM418.4 467.2h1v1h-1zM433.8 462.9h1v1h-1zM417.8 464.2h1v1h-1zM421.8 461.1h1v1h-1zM428.3 453.1h1v1h-1zM426.1 474.0h1v1h-1zM403.2 470.4h1v1h-1zM421.2 451.1h1v1h-1zM433.4 449.2h1v1h-1zM434.8 454.7h1v1h-1zM418.5 468.2h1v1h-1zM441.4 441.1h1v1h-1zM415.8 454.7h1v1h-1zM432.4 453.3h1v1h-1zM421.7 465.1h1v1h-1zM426.3 458.2h1v1h-1zM425.0 439.3h1v1h-1zM425.6 461.6h1v1h-1zM423.6 463.4h1v1h-1zM431.2 451.3h1v1h-1zM435.2 462.3h1v1h-1zM417.1 467.4h1v1h-1zM439.6 466.6h1v1h-1zM428.8 444.7h1v1h-1zM423.6 444.6h1v1h-1zM433.7 465.9h1v1h-1zM423.7 465.0h1v1h-1zM419.0 456.9h1v1h-1zM430.4 465.1h1v1h-1zM421.8 469.8h1v1h-1zM419.4 452.2h1v1h-1zM428.1 465.0h1v1h-1zM437.7 467.8h1v1h-1zM429.6 455.2h1v1h-1zM424.1 468.7h1v1h-1zM436.1 457.1h1v1h-1zM420.7 460.1h1v1h-1zM429.0 468.4h1v1h-1zM427.8 456.3h1v1h-1zM415.2 454.1h1v1h-1zM411.7 448.5h1v1h-1zM428.1 462.8h1v1h-1zM431.3 452.3h1v1h-1zM417.8 458.4h1v1h-1zM423.9 460.8h1v1h-1zM428.6 458.3h1v1h-1zM425.9 457.2h1v1h-1zM424.8 463.9h1v1h-1zM414.8 461.5h1v1h-1zM422.3 450.4h1v1h-1zM423.3 456.9h1v1h-1zM413.5 479.0h1v1h-1zM417.9 473.7h1v1h-1zM419.3 464.1h1v1h-1zM426.7 457.4h1v1h-1zM413.5 461.1h1v1h-1zM425.3 457.7h1v1h-1zM419.1 461.7h1v1h-1zM423.4 459.9h1v1h-1zM419.3 468.0h1v1h-1zM428.1 464.0h1v1h-1zM419.5 455.4h1v1h-1zM423.3 468.1h1v1h-1zM415.6 462.1h1v1h-1zM410.7 457.5h1v1h-1zM428.5 456.3h1v1h-1zM418.1 468.7h1v1h-1zM431.2 458.9h1v1h-1zM432.0 460.9h1v1h-1zM425.7 462.7h1v1h-1zM415.9 456.6h1v1h-1zM428.4 461.9h1v1h-1zM427.1 470.3h1v1h-1zM437.0 457.1h1v1h-1zM429.0 454.4h1v1h-1zM432.0 464.4h1v1h-1zM425.5 455.5h1v1h-1zM433.1 455.5h1v1h-1zM424.1 463.9h1v1h-1zM424.8 457.8h1v1h-1zM420.1 459.9h1v1h-1zM432.8 457.9h1v1h-1zM423.2 467.0h1v1h-1zM417.4 461.3h1v1h-1zM426.4 464.1h1v1h-1zM411.1 465.2h1v1h-1zM425.5 454.8h1v1h-1zM419.6 459.1h1v1h-1zM422.9 460.3h1v1h-1zM421.8 455.1h1v1h-1zM416.9 451.6h1v1h-1zM439.4 457.5h1v1h-1zM429.0 454.9h1v1h-1zM411.7 460.2h1v1h-1zM435.9 452.8h1v1h-1zM427.3 466.9h1v1h-1zM432.0 460.8h1v1h-1zM427.4 454.0h1v1h-1zM423.9 464.0h1v1h-1zM424.7 464.9h1v1h-1zM424.8 467.3h1v1h-1zM416.0 467.6h1v1h-1zM424.1 460.3h1v1h-1zM406.9 480.5h1v1h-1zM426.9 449.6h1v1h-1zM420.0 458.7h1v1h-1zM430.6 456.1h1v1h-1zM429.6 452.7h1v1h-1zM420.7 465.6h1v1h-1zM434.0 452.9h1v1h-1zM439.0 453.7h1v1h-1zM421.8 461.9h1v1h-1zM427.2 460.9h1v1h-1zM431.1 460.2h1v1h-1zM423.6 467.4h1v1h-1zM442.7 449.2h1v1h-1zM416.5 483.7h1v1h-1zM434.8 461.9h1v1h-1zM426.4 452.8h1v1h-1zM422.2 456.9h1v1h-1zM422.0 458.6h1v1h-1zM426.0 444.2h1v1h-1zM427.6 464.1h1v1h-1zM420.7 457.7h1v1h-1zM418.0 462.7h1v1h-1zM430.9 449.7h1v1h-1zM427.1 451.2h1v1h-1zM412.1 466.7h1v1h-1zM426.2 448.4h1v1h-1zM419.7 470.4h1v1h-1zM422.4 457.6h1v1h-1zM435.6 457.6h1v1h-1zM431.6 467.2h1v1h-1zM435.5 451.1h1v1h-1zM426.9 459.1h1v1h-1zM431.6 460.5h1v1h-1zM435.3 458.0h1v1h-1zM426.9 450.1h1v1h-1zM437.9 464.2h1v1h-1zM431.1 453.1h1v1h-1zM432.6 450.4h1v1h-1zM427.1 458.4h1v1h-1zM444.0 460.5h1v1h-1zM438.2 463.4h1v1h-1zM414.5 452.2h1v1h-1zM420.2 460.5h1v1h-1zM424.8 458.7h1v1h-1zM425.6 466.3h1v1h-1zM422.5 454.6h1v1h-1zM429.2 459.6h1v1h-1zM431.7 461.4h1v1h-1zM425.2 460.3h1v1h-1zM432.8 450.7h1v1h-1zM430.4 466.3h1v1h-1zM429.0 456.5h1v1h-1zM431.2 457.1h1v1h-1zM409.1 467.8h1v1h-1zM422.2 462.3h1v1h-1zM411.0 455.9h1v1h-1zM421.1 459.7h1v1h-1zM415.2 464.5h1v1h-1zM419.3 460.5h1v1h-1zM417.8 464.9h1v1h-1zM423.0 458.0h1v1h-1zM412.9 454.4h1v1h-1zM422.7 465.7h1v1h-1zM429.0 463.7h1v1h-1zM416.6 462.1h1v1h-1zM432.7 461.0h1v1h-1zM428.9 462.3h1v1h-1zM424.0 471.0h1v1h-1zM422.2 465.3h1v1h-1zM430.0 456.4h1v1h-1zM414.9 463.7h1v1h-1zM429.7 462.8h1v1h-1zM422.5 459.7h1v1h-1zM416.6 462.6h1v1h-1zM429.0 466.9h1v1h-1zM433.7 458.7h1v1h-1zM424.9 464.6h1v1h-1zM418.1 476.2h1v1h-1zM425.3 451.9h1v1h-1zM422.8 450.5h1v1h-1zM421.4 464.7h1v1h-1zM428.0 465.6h1v1h-1zM435.3 457.1h1v1h-1zM416.3 469.4h1v1h-1zM440.7 448.4h1v1h-1zM416.9 459.9h1v1h-1zM428.6 469.3h1v1h-1zM438.6 465.5h1v1h-1zM432.7 461.7h1v1h-1zM431.5 475.1h1v1h-1zM431.7 464.7h1v1h-1zM441.8 452.4h1v1h-1zM431.6 448.6h1v1h-1zM431.5 457.6h1v1h-1zM432.9 459.0h1v1h-1zM425.8 457.3h1v1h-1zM432.7 457.2h1v1h-1zM421.2 464.4h1v1h-1zM416.9 473.0h1v1h-1zM420.3 467.0h1v1h-1zM417.7 455.4h1v1h-1zM416.7 474.2h1v1h-1zM419.1 453.2h1v1h-1zM420.8 462.6h1v1h-1zM417.9 454.1h1v1h-1zM415.6 462.7h1v1h-1zM414.5 467.5h1v1h-1zM429.8 464.9h1v1h-1zM432.7 443.6h1v1h-1zM424.6 459.9h1v1h-1zM423.9 462.5h1v1h-1zM429.0 449.2h1v1h-1zM419.7 454.8h1v1h-1zM434.5 458.2h1v1h-1zM424.6 455.8h1v1h-1zM423.5 457.7h1v1h-1zM429.1 465.4h1v1h-1zM432.5 455.7h1v1h-1zM417.3 466.9h1v1h-1zM429.9 446.9h1v1h-1zM434.3 468.8h1v1h-1zM412.2 467.1h1v1h-1zM433.2 457.2h1v1h-1zM425.4 468.2h1v1h-1zM426.4 457.3h1v1h-1zM426.6 462.8h1v1h-1zM420.9 455.0h1v1h-1zM416.7 467.4h1v1h-1zM433.3 462.3h1v1h-1zM411.7 464.1h1v1h-1zM431.5 463.4h1v1h-1zM423.2 462.7h1v1h-1zM423.8 456.3h1v1h-1zM421.7 457.6h1v1h-1zM416.7 448.8h1v1h-1zM431.2 457.2h1v1h-1zM422.0 457.2h1v1h-1zM429.8 463.9h1v1h-1zM414.0 456.4h1v1h-1zM421.0 460.6h1v1h-1zM423.7 462.2h1v1h-1zM414.1 460.6h1v1h-1zM427.0 460.4h1v1h-1zM413.8 459.1h1v1h-1zM426.3 458.5h1v1h-1zM429.1 447.7h1v1h-1zM427.3 460.7h1v1h-1zM425.5 457.9h1v1h-1zM421.6 466.8h1v1h-1zM421.4 462.2h1v1h-1zM413.9 467.7h1v1h-1zM424.7 462.8h1v1h-1zM418.9 462.2h1v1h-1zM428.7 453.8h1v1h-1zM433.1 461.1h1v1h-1zM424.8 462.9h1v1h-1zM419.3 462.2h1v1h-1zM427.5 456.0h1v1h-1zM434.4 457.5h1v1h-1zM415.5 450.6h1v1h-1zM412.5 455.8h1v1h-1zM415.2 470.7h1v1h-1zM421.9 468.7h1v1h-1zM424.6 458.7h1v1h-1zM419.0 457.3h1v1h-1zM421.1 455.1h1v1h-1zM435.9 451.9h1v1h-1zM434.6 452.2h1v1h-1zM427.9 450.9h1v1h-1zM421.8 472.0h1v1h-1zM437.6 464.9h1v1h-1zM440.2 448.2h1v1h-1zM440.2 449.4h1v1h-1zM420.9 469.2h1v1h-1zM428.4 469.7h1v1h-1zM428.5 456.0h1v1h-1zM421.6 462.9h1v1h-1zM424.4 458.2h1v1h-1zM425.9 464.6h1v1h-1zM422.4 457.6h1v1h-1zM429.2 446.6h1v1h-1zM445.0 454.9h1v1h-1zM428.0 448.1h1v1h-1zM421.3 457.4h1v1h-1zM429.4 463.2h1v1h-1zM436.3 448.4h1v1h-1zM430.3 460.5h1v1h-1zM417.6 459.9h1v1h-1zM427.5 462.3h1v1h-1zM428.8 463.9h1v1h-1zM428.6 463.9h1v1h-1zM412.7 463.4h1v1h-1zM418.9 463.2h1v1h-1zM428.1 460.2h1v1h-1zM429.6 455.7h1v1h-1zM418.8 461.2h1v1h-1zM436.6 455.8h1v1h-1zM423.4 460.9h1v1h-1zM410.1 460.4h1v1h-1zM424.2 467.9h1v1h-1zM433.4 448.7h1v1h-1zM426.4 452.0h1v1h-1zM423.4 455.1h1v1h-1zM431.0 460.5h1v1h-1zM428.7 463.2h1v1h-1zM427.3 457.0h1v1h-1zM422.3 456.4h1v1h-1zM416.9 484.9h1v1h-1zM414.8 464.5h1v1h-1zM425.2 457.7h1v1h-1zM425.5 463.2h1v1h-1zM426.8 449.3h1v1h-1zM425.8 451.1h1v1h-1zM433.9 455.4h1v1h-1zM426.1 443.4h1v1h-1zM425.7 457.9h1v1h-1zM429.0 451.3h1v1h-1zM422.4 460.3h1v1h-1zM434.8 449.3h1v1h-1zM411.7 468.0h1v1h-1zM424.1 466.7h1v1h-1zM426.8 463.0h1v1h-1zM420.2 454.6h1v1h-1zM413.3 460.1h1v1h-1zM420.8 468.3h1v1h-1zM420.5 464.5h1v1h-1zM429.7 447.5h1v1h-1zM427.7 463.7h1v1h-1zM426.0 454.5h1v1h-1zM422.5 465.2h1v1h-1zM422.3 463.6h1v1h-1zM426.1 462.8h1v1h-1zM415.4 461.8h1v1h-1zM432.2 470.3h1v1h-1zM438.0 443.1h1v1h-1zM431.1 468.2h1v1h-1zM422.9 458.4h1v1h-1zM419.8 475.7h1v1h-1zM423.1 460.6h1v1h-1zM434.2 456.2h1v1h-1zM431.2 446.6h1v1h-1zM429.7 454.2h1v1h-1zM434.7 464.9h1v1h-1zM415.3 476.3h1v1h-1zM420.0 459.1h1v1h-1zM426.9 458.0h1v1h-1zM436.6 443.9h1v1h-1zM421.5 461.3h1v1h-1zM427.4 460.7h1v1h-1zM423.2 462.2h1v1h-1zM424.5 452.2h1v1h-1zM427.2 453.4h1v1h-1zM419.0 468.4h1v1h-1zM428.7 457.4h1v1h-1zM420.7 461.1h1v1h-1zM426.5 447.7h1v1h-1zM430.9 464.8h1v1h-1zM422.2 458.6h1v1h-1zM423.7 459.6h1v1h-1zM434.2 451.7h1v1h-1zM420.8 470.5h1v1h-1zM440.4 458.3h1v1h-1zM421.4 473.1h1v1h-1zM426.9 454.1h1v1h-1zM431.5 461.8h1v1h-1zM406.5 474.9h1v1h-1zM422.9 464.5h1v1h-1zM421.7 447.9h1v1h-1zM433.1 444.6h1v1h-1zM427.2 465.9h1v1h-1zM432.8 467.3h1v1h-1zM426.8 453.1h1v1h-1zM423.6 460.6h1v1h-1zM435.0 453.4h1v1h-1zM428.3 464.9h1v1h-1zM445.1 456.6h1v1h-1zM421.9 448.3h1v1h-1zM425.6 463.5h1v1h-1zM441.5 458.0h1v1h-1zM421.5 464.6h1v1h-1zM432.1 444.5h1v1h-1zM436.2 463.2h1v1h-1zM428.6 460.4h1v1h-1zM433.9 463.2h1v1h-1zM420.8 466.9h1v1h-1zM423.0 457.1h1v1h-1zM420.4 452.0h1v1h-1zM426.0 461.4h1v1h-1zM427.5 464.9h1v1h-1zM427.0 459.1h1v1h-1zM425.3 459.9h1v1h-1zM426.7 458.7h1v1h-1zM426.4 468.5h1v1h-1zM426.8 455.1h1v1h-1zM439.1 470.0h1v1h-1zM422.4 459.3h1v1h-1zM423.5 457.8h1v1h-1zM419.1 471.2h1v1h-1zM430.3 470.9h1v1h-1zM429.3 457.2h1v1h-1zM405.3 460.3h1v1h-1zM415.3 460.8h1v1h-1zM419.0 459.6h1v1h-1zM423.4 470.9h1v1h-1zM446.6 451.3h1v1h-1zM420.1 465.7h1v1h-1zM434.2 463.6h1v1h-1zM423.7 454.8h1v1h-1zM424.6 468.1h1v1h-1zM441.0 459.8h1v1h-1zM436.7 452.6h1v1h-1zM424.7 448.6h1v1h-1zM430.6 457.2h1v1h-1zM436.7 449.0h1v1h-1zM407.7 460.3h1v1h-1zM439.2 455.7h1v1h-1zM425.2 470.2h1v1h-1zM429.6 454.6h1v1h-1zM422.8 458.8h1v1h-1zM432.5 454.7h1v1h-1zM437.4 458.6h1v1h-1zM420.1 463.1h1v1h-1zM433.8 457.6h1v1h-1zM425.1 450.0h1v1h-1zM426.3 452.2h1v1h-1zM425.2 454.2h1v1h-1zM431.4 453.8h1v1h-1zM428.2 446.8h1v1h-1zM418.4 462.6h1v1h-1zM430.3 463.8h1v1h-1zM427.2 449.4h1v1h-1zM418.8 459.9h1v1h-1zM427.7 469.9h1v1h-1zM428.8 459.7h1v1h-1zM409.2 470.6h1v1h-1zM429.0 456.5h1v1h-1zM418.4 463.4h1v1h-1zM422.1 453.2h1v1h-1zM423.3 461.2h1v1h-1zM426.2 465.2h1v1h-1zM421.6 464.9h1v1h-1zM438.2 448.7h1v1h-1zM420.5 467.2h1v1h-1zM427.3 461.3h1v1h-1zM433.3 466.6h1v1h-1zM428.7 447.2h1v1h-1zM429.9 443.1h1v1h-1zM418.9 464.7h1v1h-1zM439.3 457.9h1v1h-1zM422.0 470.5h1v1h-1zM430.8 462.7h1v1h-1zM432.4 454.3h1v1h-1zM433.9 457.6h1v1h-1zM433.8 449.8h1v1h-1zM425.6 463.0h1v1h-1zM436.5 456.0h1v1h-1zM447.5 439.5h1v1h-1zM430.2 466.8h1v1h-1zM434.2 464.1h1v1h-1zM414.6 453.5h1v1h-1zM421.6 454.1h1v1h-1zM424.0 454.1h1v1h-1zM428.4 458.9h1v1h-1zM432.8 458.3h1v1h-1zM415.0 475.4h1v1h-1zM420.2 447.3h1v1h-1zM427.6 460.3h1v1h-1zM417.9 464.7h1v1h-1zM411.0 462.4h1v1h-1zM417.8 455.7h1v1h-1zM437.1 451.3h1v1h-1zM439.9 450.7h1v1h-1zM426.7 465.4h1v1h-1zM420.1 478.1h1v1h-1zM428.5 470.0h1v1h-1zM428.3 457.1h1v1h-1zM423.0 462.1h1v1h-1zM431.3 458.8h1v1h-1zM436.2 448.6h1v1h-1zM439.6 446.2h1v1h-1zM424.6 460.7h1v1h-1zM418.4 462.0h1v1h-1zM403.5 468.9h1v1h-1zM431.8 458.9h1v1h-1zM414.6 469.0h1v1h-1zM437.7 463.1h1v1h-1zM425.2 461.3h1v1h-1zM431.0 453.9h1v1h-1zM434.9 459.4h1v1h-1zM422.2 455.8h1v1h-1zM429.2 467.3h1v1h-1zM418.2 457.5h1v1h-1zM414.4 458.6h1v1h-1zM441.4 461.0h1v1h-1zM421.7 454.0h1v1h-1zM431.9 456.8h1v1h-1zM415.6 462.8h1v1h-1zM435.0 463.9h1v1h-1zM441.3 449.2h1v1h-1zM435.0 468.5h1v1h-1zM421.0 462.0h1v1h-1zM430.0 461.7h1v1h-1zM432.7 455.4h1v1h-1zM422.7 462.6h1v1h-1zM425.3 470.1h1v1h-1zM422.2 449.9h1v1h-1zM432.5 455.7h1v1h-1zM426.0 465.4h1v1h-1zM432.5 451.0h1v1h-1zM420.0 460.5h1v1h-1zM424.4 474.3h1v1h-1zM413.4 458.6h1v1h-1zM423.0 461.2h1v1h-1zM428.2 455.9h1v1h-1zM430.8 462.8h1v1h-1zM415.7 462.0h1v1h-1zM415.8 469.7h1v1h-1zM430.4 457.5h1v1h-1zM428.0 470.2h1v1h-1zM420.9 464.3h1v1h-1zM420.6 457.7h1v1h-1zM424.4 456.5h1v1h-1zM437.2 450.2h1v1h-1zM439.6 458.2h1v1h-1zM417.4 462.8h1v1h-1zM438.4 452.6h1v1h-1zM434.8 452.1h1v1h-1zM425.4 469.7h1v1h-1zM434.5 456.0h1v1h-1zM424.4 462.3h1v1h-1zM430.1 455.9h1v1h-1zM423.7 461.2h1v1h-1zM429.7 458.7h1v1h-1zM407.7 467.8h1v1h-1zM432.7 461.6h1v1h-1zM430.4 459.1h1v1h-1zM434.9 461.1h1v1h-1zM410.0 471.5h1v1h-1zM423.1 459.8h1v1h-1zM430.2 453.1h1v1h-1zM423.3 442.7h1v1h-1zM415.6 471.9h1v1h-1zM424.5 458.2h1v1h-1zM412.6 462.5h1v1h-1zM425.4 458.5h1v1h-1zM418.1 465.6h1v1h-1zM427.1 457.0h1v1h-1zM426.1 467.1h1v1h-1zM420.1 463.8h1v1h-1zM435.0 462.7h1v1h-1zM429.2 453.4h1v1h-1zM418.1 463.1h1v1h-1zM441.2 465.3h1v1h-1zM401.2 459.2h1v1h-1zM429.7 451.3h1v1h-1zM417.2 457.5h1v1h-1zM427.2 457.8h1v1h-1zM412.2 471.5h1v1h-1zM424.7 462.2h1v1h-1zM422.6 470.0h1v1h-1zM428.5 455.6h1v1h-1zM429.5 462.7h1v1h-1zM432.0 461.2h1v1h-1zM426.1 451.9h1v1h-1zM431.5 473.1h1v1h-1zM422.3 464.4h1v1h-1zM423.7 457.1h1v1h-1zM423.2 460.0h1v1h-1zM413.3 467.3h1v1h-1zM428.6 464.6h1v1h-1zM417.3 454.9h1v1h-1zM422.2 454.7h1v1h-1zM430.7 451.2h1v1h-1zM424.0 463.8h1v1h-1zM420.7 455.9h1v1h-1zM417.9 448.3h1v1h-1zM426.9 466.2h1v1h-1zM414.6 454.0h1v1h-1zM429.0 452.8h1v1h-1zM431.6 465.6h1v1h-1zM422.9 447.6h1v1h-1zM429.5 464.5h1v1h-1zM420.1 463.6h1v1h-1zM434.5 455.2h1v1h-1zM430.4 465.6h1v1h-1zM427.3 467.3h1v1h-1zM427.1 456.5h1v1h-1zM425.9 461.3h1v1h-1zM411.4 462.1h1v1h-1zM426.1 441.0h1v1h-1zM428.6 460.9h1v1h-1zM413.9 461.1h1v1h-1zM427.6 449.2h1v1h-1zM432.1 461.1h1v1h-1zM413.5 467.7h1v1h-1zM426.2 444.1h1v1h-1zM430.9 449.2h1v1h-1zM418.2 460.3h1v1h-1zM420.0 457.9h1v1h-1zM427.5 453.8h1v1h-1zM419.3 465.0h1v1h-1zM415.6 468.4h1v1h-1zM429.8 464.7h1v1h-1zM414.6 466.8h1v1h-1zM413.6 464.5h1v1h-1zM433.5 457.5h1v1h-1zM413.4 472.2h1v1h-1zM420.6 460.6h1v1h-1zM427.6 462.3h1v1h-1zM430.1 461.5h1v1h-1zM418.9 459.1h1v1h-1zM427.7 451.2h1v1h-1zM422.6 451.5h1v1h-1zM428.3 453.0h1v1h-1zM427.1 472.8h1v1h-1zM418.0 460.7h1v1h-1zM425.0 455.4h1v1h-1zM433.0 462.9h1v1h-1zM423.6 454.0h1v1h-1zM433.9 451.9h1v1h-1zM428.9 449.9h1v1h-1zM431.5 454.9h1v1h-1zM430.6 454.7h1v1h-1zM421.9 459.1h1v1h-1zM417.1 460.9h1v1h-1zM449.0 444.6h1v1h-1zM431.9 462.8h1v1h-1zM430.9 467.0h1v1h-1zM428.0 461.2h1v1h-1zM427.7 439.3h1v1h-1zM437.4 464.9h1v1h-1zM444.0 449.7h1v1h-1zM430.0 458.9h1v1h-1zM419.2 456.0h1v1h-1zM417.1 472.3h1v1h-1zM434.8 447.3h1v1h-1zM436.0 464.6h1v1h-1zM434.1 448.3h1v1h-1zM400.7 464.7h1v1h-1zM417.0 477.2h1v1h-1zM420.4 451.5h1v1h-1zM421.1 466.3h1v1h-1zM424.9 454.0h1v1h-1zM430.6 458.8h1v1h-1zM424.0 459.0h1v1h-1zM436.9 454.7h1v1h-1zM423.6 462.8h1v1h-1zM433.6 457.6h1v1h-1zM425.1 457.3h1v1h-1zM425.7 459.5h1v1h-1zM429.7 454.0h1v1h-1zM421.3 468.7h1v1h-1zM423.3 466.1h1v1h-1zM419.3 468.1h1v1h-1zM418.2 464.0h1v1h-1zM434.0 461.6h1v1h-1zM428.9 457.4h1v1h-1zM425.8 468.2h1v1h-1zM443.7 451.4h1v1h-1zM419.4 456.9h1v1h-1zM418.8 463.6h1v1h-1zM440.0 448.1h1v1h-1zM411.7 472.9h1v1h-1zM424.3 465.0h1v1h-1zM406.4 459.3h1v1h-1zM434.2 460.3h1v1h-1zM434.9 453.7h1v1h-1zM421.2 466.9h1v1h-1zM429.0 451.5h1v1h-1zM419.3 473.1h1v1h-1zM427.8 455.6h1v1h-1zM445.1 458.3h1v1h-1zM415.6 456.5h1v1h-1zM439.2 443.5h1v1h-1zM420.5 462.0h1v1h-1zM419.6 458.3h1v1h-1zM417.7 460.6h1v1h-1zM418.9 468.8h1v1h-1zM420.5 456.6h1v1h-1zM424.7 459.3h1v1h-1zM436.1 455.3h1v1h-1zM430.6 471.6h1v1h-1zM419.0 471.8h1v1h-1zM431.0 467.0h1v1h-1zM417.4 460.0h1v1h-1zM424.0 456.2h1v1h-1zM420.9 465.1h1v1h-1zM408.8 455.1h1v1h-1zM423.1 453.1h1v1h-1zM430.1 455.9h1v1h-1zM430.7 459.3h1v1h-1zM434.2 447.3h1v1h-1zM422.4 462.3h1v1h-1zM432.3 464.4h1v1h-1zM420.7 451.7h1v1h-1zM408.9 466.2h1v1h-1zM423.1 462.6h1v1h-1zM426.8 464.4h1v1h-1zM429.1 446.1h1v1h-1zM420.0 459.9h1v1h-1zM425.1 455.8h1v1h-1zM427.1 452.9h1v1h-1zM428.6 465.3h1v1h-1zM424.0 449.8h1v1h-1zM425.8 458.4h1v1h-1zM431.2 453.3h1v1h-1zM433.8 448.4h1v1h-1zM418.4 466.9h1v1h-1zM428.9 444.9h1v1h-1zM420.3 478.0h1v1h-1zM434.4 450.6h1v1h-1zM432.0 460.1h1v1h-1zM424.9 460.7h1v1h-1zM419.1 462.7h1v1h-1zM428.1 453.7h1v1h-1zM448.1 445.0h1v1h-1zM424.5 450.6h1v1h-1zM419.7 467.8h1v1h-1zM419.9 464.6h1v1h-1zM427.1 455.8h1v1h-1zM423.5 460.8h1v1h-1zM428.2 454.2h1v1h-1zM435.6 463.5h1v1h-1zM432.5 457.6h1v1h-1zM431.7 456.0h1v1h-1zM439.6 455.2h1v1h-1zM430.8 462.4h1v1h-1zM425.6 457.3h1v1h-1zM424.1 459.6h1v1h-1zM426.5 455.6h1v1h-1zM425.4 453.9h1v1h-1zM416.5 456.4h1v1h-1zM423.8 465.0h1v1h-1zM417.4 468.5h1v1h-1zM428.2 458.4h1v1h-1zM424.7 458.2h1v1h-1zM429.5 461.2h1v1h-1zM424.9 459.3h1v1h-1zM422.7 459.6h1v1h-1zM432.4 460.9h1v1h-1zM416.7 462.3h1v1h-1zM432.3 465.9h1v1h-1zM406.5 480.6h1v1h-1zM431.8 462.7h1v1h-1zM416.9 451.7h1v1h-1zM428.2 471.1h1v1h-1zM428.1 462.9h1v1h-1zM406.2 457.7h1v1h-1zM425.4 458.0h1v1h-1zM419.2 472.6h1v1h-1zM419.7 450.9h1v1h-1zM428.2 457.4h1v1h-1zM420.6 464.4h1v1h-1zM414.4 461.9h1v1h-1zM424.7 461.4h1v1h-1zM422.7 469.5h1v1h-1zM421.9 463.7h1v1h-1zM417.5 459.0h1v1h-1zM416.3 461.9h1v1h-1zM433.4 468.1h1v1h-1zM423.8 462.7h1v1h-1zM432.2 468.5h1v1h-1zM419.4 472.0h1v1h-1zM431.6 462.8h1v1h-1zM422.7 468.8h1v1h-1zM414.7 455.4h1v1h-1zM424.4 461.6h1v1h-1zM431.2 443.3h1v1h-1zM421.5 455.5h1v1h-1zM437.7 446.8h1v1h-1zM429.4 452.5h1v1h-1zM420.8 461.4h1v1h-1zM431.4 462.9h1v1h-1zM426.4 463.1h1v1h-1zM438.4 447.8h1v1h-1zM432.3 457.4h1v1h-1zM433.0 457.2h1v1h-1zM421.6 457.5h1v1h-1zM423.5 461.9h1v1h-1zM431.6 440.3h1v1h-1zM420.2 462.9h1v1h-1zM420.3 467.8h1v1h-1zM428.5 457.7h1v1h-1zM437.2 455.7h1v1h-1zM426.3 452.9h1v1h-1zM425.4 463.0h1v1h-1zM416.3 469.5h1v1h-1zM433.1 469.9h1v1h-1zM429.2 454.5h1v1h-1zM429.1 449.1h1v1h-1zM422.2 467.9h1v1h-1zM425.6 461.3h1v1h-1zM418.8 462.2h1v1h-1zM417.1 459.6h1v1h-1zM417.0 468.9h1v1h-1zM428.8 456.8h1v1h-1zM414.8 466.6h1v1h-1zM433.9 459.9h1v1h-1zM432.1 473.7h1v1h-1zM412.4 460.5h1v1h-1zM421.4 449.9h1v1h-1zM427.7 455.3h1v1h-1zM433.7 455.7h1v1h-1zM427.2 464.8h1v1h-1zM441.7 456.3h1v1h-1zM434.6 460.7h1v1h-1zM425.7 459.9h1v1h-1zM429.7 453.7h1v1h-1zM422.0 460.0h1v1h-1zM433.7 468.9h1v1h-1zM432.4 461.7h1v1h-1zM419.5 468.6h1v1h-1zM419.5 462.7h1v1h-1zM429.7 456.1h1v1h-1zM432.6 447.2h1v1h-1zM438.3 456.3h1v1h-1zM420.4 458.3h1v1h-1zM419.5 462.3h1v1h-1zM425.7 458.8h1v1h-1zM434.0 458.6h1v1h-1zM417.0 467.0h1v1h-1zM419.7 456.8h1v1h-1zM430.1 474.3h1v1h-1zM433.0 457.3h1v1h-1zM414.4 472.6h1v1h-1zM446.6 448.8h1v1h-1zM424.3 461.4h1v1h-1zM428.2 466.5h1v1h-1zM424.0 454.4h1v1h-1zM420.7 460.0h1v1h-1zM419.1 467.8h1v1h-1zM428.4 458.8h1v1h-1zM428.9 457.3h1v1h-1zM415.6 480.2h1v1h-1zM417.4 458.6h1v1h-1zM412.5 461.8h1v1h-1zM426.2 458.2h1v1h-1zM423.3 458.1h1v1h-1zM424.2 455.6h1v1h-1zM413.5 461.1h1v1h-1zM426.4 448.0h1v1h-1zM428.5 448.8h1v1h-1zM420.6 457.6h1v1h-1zM430.2 463.8h1v1h-1zM428.2 460.9h1v1h-1zM420.4 462.8h1v1h-1zM424.1 457.3h1v1h-1zM436.3 454.9h1v1h-1zM426.9 457.1h1v1h-1zM423.5 452.9h1v1h-1zM412.8 459.7h1v1h-1zM427.8 459.2h1v1h-1zM427.6 456.0h1v1h-1zM418.8 459.7h1v1h-1zM428.3 460.4h1v1h-1zM422.6 468.0h1v1h-1zM434.7 457.3h1v1h-1zM424.9 459.6h1v1h-1zM428.2 469.8h1v1h-1zM426.3 449.3h1v1h-1zM420.2 468.1h1v1h-1zM424.3 464.1h1v1h-1zM431.2 474.4h1v1h-1zM408.7 464.7h1v1h-1zM420.1 460.7h1v1h-1zM420.2 464.3h1v1h-1zM434.5 452.9h1v1h-1zM422.7 447.5h1v1h-1zM428.7 459.0h1v1h-1zM418.6 466.1h1v1h-1zM424.4 457.9h1v1h-1zM416.7 450.7h1v1h-1zM422.8 455.5h1v1h-1zM418.0 461.3h1v1h-1zM429.4 461.4h1v1h-1zM426.5 465.1h1v1h-1zM416.3 462.9h1v1h-1zM417.9 470.5h1v1h-1zM434.4 451.3h1v1h-1zM445.6 452.5h1v1h-1zM416.6 463.1h1v1h-1zM436.3 458.7h1v1h-1zM430.8 454.1h1v1h-1zM418.4 459.5h1v1h-1zM432.9 457.0h1v1h-1zM430.9 474.8h1v1h-1zM426.7 464.5h1v1h-1zM422.5 472.5h1v1h-1zM423.9 476.4h1v1h-1zM424.9 473.8h1v1h-1zM428.7 456.4h1v1h-1zM416.3 463.2h1v1h-1zM422.7 453.4h1v1h-1zM437.3 451.6h1v1h-1zM414.5 460.2h1v1h-1zM445.8 451.9h1v1h-1zM430.7 460.8h1v1h-1zM419.2 468.1h1v1h-1zM426.2 473.0h1v1h-1zM421.6 473.1h1v1h-1zM425.8 454.2h1v1h-1zM451.1 451.4h1v1h-1zM417.8 459.9h1v1h-1zM432.5 467.2h1v1h-1zM421.6 463.0h1v1h-1zM434.0 445.1h1v1h-1zM432.8 456.6h1v1h-1zM413.0 459.8h1v1h-1zM427.9 452.5h1v1h-1zM439.1 453.0h1v1h-1zM423.2 461.2h1v1h-1zM419.7 473.0h1v1h-1zM415.0 461.3h1v1h-1zM434.4 448.0h1v1h-1zM425.6 452.3h1v1h-1zM417.9 455.6h1v1h-1zM435.5 445.3h1v1h-1zM425.1 455.3h1v1h-1zM429.0 465.3h1v1h-1zM416.2 456.8h1v1h-1zM422.5 463.2h1v1h-1zM433.2 449.9h1v1h-1zM430.2 453.5h1v1h-1zM420.3 458.5h1v1h-1zM425.7 457.0h1v1h-1zM426.5 460.0h1v1h-1zM426.9 443.1h1v1h-1zM398.9 476.7h1v1h-1zM428.3 452.5h1v1h-1zM418.9 463.0h1v1h-1zM418.2 451.2h1v1h-1zM420.1 468.4h1v1h-1zM416.3 465.0h1v1h-1zM420.0 468.9h1v1h-1zM423.5 467.6h1v1h-1zM441.4 461.5h1v1h-1zM421.3 471.0h1v1h-1zM424.7 464.9h1v1h-1zM431.1 449.2h1v1h-1zM425.0 451.3h1v1h-1zM427.8 461.2h1v1h-1zM425.9 455.8h1v1h-1zM424.5 452.5h1v1h-1zM425.6 466.9h1v1h-1zM426.9 443.5h1v1h-1zM426.4 469.6h1v1h-1zM425.3 469.4h1v1h-1zM428.3 473.0h1v1h-1zM433.7 454.5h1v1h-1zM423.6 472.0h1v1h-1zM428.8 459.0h1v1h-1zM419.9 471.5h1v1h-1zM435.1 456.2h1v1h-1zM423.7 471.8h1v1h-1zM428.2 456.5h1v1h-1zM429.0 450.8h1v1h-1zM421.6 458.1h1v1h-1zM435.4 466.7h1v1h-1zM414.9 452.1h1v1h-1zM410.4 467.4h1v1h-1zM430.3 449.3h1v1h-1zM424.7 469.5h1v1h-1zM417.4 466.4h1v1h-1zM431.3 461.8h1v1h-1zM426.8 454.6h1v1h-1zM428.7 448.3h1v1h-1zM434.1 460.1h1v1h-1zM418.8 469.4h1v1h-1zM427.5 455.8h1v1h-1zM443.1 437.9h1v1h-1zM431.1 441.0h1v1h-1zM426.6 464.7h1v1h-1zM419.1 467.0h1v1h-1zM434.0 449.3h1v1h-1zM411.0 459.9h1v1h-1zM430.1 452.3h1v1h-1zM425.0 467.5h1v1h-1zM432.4 466.0h1v1h-1zM428.9 457.4h1v1h-1zM432.0 449.4h1v1h-1zM407.6 464.2h1v1h-1zM429.0 462.6h1v1h-1zM423.2 466.8h1v1h-1zM422.9 470.3h1v1h-1zM424.5 461.6h1v1h-1zM417.0 458.0h1v1h-1zM427.9 467.9h1v1h-1zM424.7 461.2h1v1h-1zM438.1 469.0h1v1h-1zM425.8 463.0h1v1h-1zM434.8 447.1h1v1h-1zM426.8 460.6h1v1h-1zM434.7 462.6h1v1h-1zM430.1 453.7h1v1h-1zM430.6 456.5h1v1h-1zM426.8 456.1h1v1h-1zM445.3 459.9h1v1h-1zM423.9 464.1h1v1h-1zM407.2 460.6h1v1h-1zM442.3 458.1h1v1h-1zM419.7 452.6h1v1h-1zM432.5 454.3h1v1h-1zM418.1 451.7h1v1h-1zM427.0 461.9h1v1h-1zM424.5 455.3h1v1h-1zM415.3 455.6h1v1h-1zM423.4 460.1h1v1h-1zM428.4 462.4h1v1h-1zM418.1 475.2h1v1h-1zM425.8 461.0h1v1h-1zM433.9 451.0h1v1h-1zM430.7 468.0h1v1h-1zM423.7 474.4h1v1h-1zM424.8 449.5h1v1h-1zM433.4 467.6h1v1h-1zM419.2 456.9h1v1h-1zM421.9 475.1h1v1h-1zM418.2 463.3h1v1h-1zM421.5 458.7h1v1h-1zM421.5 454.9h1v1h-1zM415.0 469.6h1v1h-1zM412.5 464.3h1v1h-1zM413.0 462.9h1v1h-1zM426.2 468.2h1v1h-1zM431.1 454.4h1v1h-1zM427.4 457.0h1v1h-1zM425.8 460.7h1v1h-1zM419.1 454.3h1v1h-1zM418.2 467.1h1v1h-1zM432.0 449.1h1v1h-1zM427.0 473.2h1v1h-1zM423.7 453.2h1v1h-1zM424.2 470.0h1v1h-1zM418.3 464.0h1v1h-1zM424.5 464.4h1v1h-1zM427.7 468.8h1v1h-1zM426.1 456.0h1v1h-1zM426.6 456.1h1v1h-1zM418.7 456.6h1v1h-1zM420.8 461.5h1v1h-1zM437.3 458.4h1v1h-1zM430.9 457.5h1v1h-1zM432.5 459.2h1v1h-1zM429.6 460.6h1v1h-1zM419.8 459.6h1v1h-1zM430.4 471.4h1v1h-1zM408.2 472.4h1v1h-1zM435.0 460.0h1v1h-1zM425.5 461.0h1v1h-1zM426.4 459.9h1v1h-1zM423.0 461.0h1v1h-1zM428.3 456.6h1v1h-1zM418.4 463.5h1v1h-1zM426.9 456.9h1v1h-1zM423.0 462.1h1v1h-1zM427.2 465.5h1v1h-1zM431.1 446.9h1v1h-1zM419.0 448.1h1v1h-1zM422.4 454.4h1v1h-1zM443.4 456.5h1v1h-1zM437.7 450.2h1v1h-1zM430.0 455.9h1v1h-1zM425.1 462.2h1v1h-1zM419.1 463.7h1v1h-1zM433.5 470.8h1v1h-1zM427.7 447.3h1v1h-1zM426.4 467.8h1v1h-1zM412.0 456.6h1v1h-1zM422.0 462.0h1v1h-1zM424.6 456.7h1v1h-1zM433.1 462.6h1v1h-1zM435.0 460.2h1v1h-1zM420.7 476.8h1v1h-1zM426.0 463.7h1v1h-1zM434.3 444.6h1v1h-1zM424.8 467.6h1v1h-1zM423.0 469.6h1v1h-1zM426.4 465.8h1v1h-1zM412.7 463.5h1v1h-1zM422.9 463.4h1v1h-1zM414.2 469.6h1v1h-1zM436.2 458.6h1v1h-1zM427.8 455.1h1v1h-1zM426.3 465.4h1v1h-1zM421.7 462.8h1v1h-1zM425.4 453.7h1v1h-1zM420.2 454.2h1v1h-1zM421.3 445.4h1v1h-1zM428.5 465.4h1v1h-1zM430.5 447.6h1v1h-1zM418.3 461.2h1v1h-1zM425.3 460.8h1v1h-1zM415.5 480.5h1v1h-1zM418.5 449.5h1v1h-1zM413.4 447.0h1v1h-1zM438.1 443.5h1v1h-1zM431.9 456.3h1v1h-1zM420.6 466.8h1v1h-1zM426.4 458.0h1v1h-1zM429.1 459.3h1v1h-1zM418.5 447.3h1v1h-1zM435.8 454.5h1v1h-1zM441.7 458.3h1v1h-1zM430.3 448.9h1v1h-1zM433.1 447.2h1v1h-1zM419.0 457.8h1v1h-1zM430.3 458.7h1v1h-1zM424.2 458.2h1v1h-1zM419.9 463.2h1v1h-1zM429.5 450.5h1v1h-1zM425.7 458.5h1v1h-1zM427.3 458.9h1v1h-1zM436.4 444.5h1v1h-1zM427.8 450.6h1v1h-1zM446.5 447.9h1v1h-1zM433.4 456.7h1v1h-1zM429.9 453.1h1v1h-1zM440.9 448.1h1v1h-1zM430.2 466.7h1v1h-1zM424.8 466.6h1v1h-1zM421.5 451.4h1v1h-1zM409.3 468.2h1v1h-1zM419.0 467.3h1v1h-1zM412.3 467.8h1v1h-1zM417.7 466.3h1v1h-1zM420.5 461.1h1v1h-1zM428.2 455.0h1v1h-1zM432.5 465.9h1v1h-1zM415.2 468.2h1v1h-1zM433.8 460.7h1v1h-1zM428.4 454.5h1v1h-1zM415.9 457.2h1v1h-1zM413.5 457.4h1v1h-1zM417.5 470.4h1v1h-1zM413.9 465.1h1v1h-1zM425.9 453.9h1v1h-1zM414.2 469.6h1v1h-1zM429.7 465.7h1v1h-1zM423.8 452.3h1v1h-1zM424.4 451.9h1v1h-1zM418.0 456.2h1v1h-1zM428.9 449.8h1v1h-1zM427.5 463.6h1v1h-1zM422.3 461.7h1v1h-1zM442.6 459.3h1v1h-1zM411.1 468.7h1v1h-1zM424.3 448.8h1v1h-1zM420.9 467.7h1v1h-1zM424.7 464.7h1v1h-1zM430.5 457.5h1v1h-1zM427.4 452.3h1v1h-1zM433.5 454.6h1v1h-1zM429.3 454.2h1v1h-1zM412.9 464.8h1v1h-1zM439.4 450.0h1v1h-1zM422.8 459.9h1v1h-1zM424.3 471.4h1v1h-1zM426.5 450.7h1v1h-1zM426.8 459.5h1v1h-1zM420.6 472.7h1v1h-1zM423.4 471.6h1v1h-1zM416.3 455.8h1v1h-1zM436.2 454.1h1v1h-1zM419.5 475.6h1v1h-1zM423.0 476.4h1v1h-1zM421.1 466.7h1v1h-1zM427.0 462.3h1v1h-1zM422.4 449.4h1v1h-1zM419.3 462.4h1v1h-1zM418.0 455.4h1v1h-1zM427.7 457.3h1v1h-1zM420.0 470.7h1v1h-1zM425.1 462.9h1v1h-1zM421.8 473.9h1v1h-1zM409.6 465.7h1v1h-1zM427.7 452.3h1v1h-1zM424.2 463.8h1v1h-1zM429.4 456.2h1v1h-1zM434.5 444.9h1v1h-1zM429.0 458.0h1v1h-1zM434.2 464.5h1v1h-1zM421.2 464.5h1v1h-1zM430.2 460.1h1v1h-1zM414.7 466.8h1v1h-1zM446.6 454.6h1v1h-1zM416.4 468.2h1v1h-1zM429.5 462.2h1v1h-1zM427.1 458.9h1v1h-1zM422.9 463.2h1v1h-1zM409.9 471.3h1v1h-1zM403.7 462.7h1v1h-1zM416.7 463.7h1v1h-1zM429.1 459.1h1v1h-1zM427.7 448.7h1v1h-1zM422.3 453.5h1v1h-1zM415.2 467.0h1v1h-1zM434.9 456.3h1v1h-1zM434.5 453.6h1v1h-1zM412.6 464.1h1v1h-1zM432.0 451.9h1v1h-1zM439.3 445.8h1v1h-1zM426.5 466.2h1v1h-1zM426.7 461.0h1v1h-1zM420.1 468.7h1v1h-1zM411.1 456.5h1v1h-1zM428.0 450.1h1v1h-1zM414.5 475.7h1v1h-1zM424.5 463.7h1v1h-1zM428.6 462.7h1v1h-1zM427.9 464.0h1v1h-1zM431.0 464.9h1v1h-1zM421.4 468.2h1v1h-1zM434.9 468.0h1v1h-1zM424.2 451.7h1v1h-1zM423.3 468.0h1v1h-1zM418.1 478.3h1v1h-1zM417.2 456.7h1v1h-1zM415.8 460.3h1v1h-1zM434.3 454.0h1v1h-1zM420.2 455.0h1v1h-1zM420.4 471.3h1v1h-1zM432.5 464.5h1v1h-1zM420.7 469.7h1v1h-1zM424.9 450.3h1v1h-1zM430.4 449.6h1v1h-1zM429.2 464.8h1v1h-1zM432.5 454.8h1v1h-1zM420.8 466.9h1v1h-1zM431.1 452.2h1v1h-1zM429.9 469.6h1v1h-1zM424.6 453.7h1v1h-1zM421.6 451.6h1v1h-1zM421.6 459.8h1v1h-1zM427.8 462.6h1v1h-1zM416.7 458.1h1v1h-1zM419.9 469.4h1v1h-1zM423.3 459.2h1v1h-1zM425.9 460.2h1v1h-1zM427.9 464.3h1v1h-1zM422.0 478.5h1v1h-1zM416.8 471.0h1v1h-1zM428.6 466.9h1v1h-1zM422.6 458.9h1v1h-1zM427.2 464.8h1v1h-1zM435.5 457.3h1v1h-1zM414.3 465.7h1v1h-1zM430.9 459.1h1v1h-1zM423.2 461.2h1v1h-1zM428.3 463.0h1v1h-1zM429.0 458.7h1v1h-1zM423.4 455.7h1v1h-1zM415.3 455.8h1v1h-1zM443.0 458.2h1v1h-1zM427.5 449.8h1v1h-1zM424.6 466.4h1v1h-1zM418.1 473.6h1v1h-1zM427.7 456.4h1v1h-1zM435.4 454.4h1v1h-1zM421.4 455.3h1v1h-1zM421.6 464.3h1v1h-1zM419.2 460.6h1v1h-1zM427.9 454.9h1v1h-1zM439.5 446.2h1v1h-1zM419.4 464.0h1v1h-1zM417.1 469.1h1v1h-1zM433.8 473.7h1v1h-1zM429.6 455.6h1v1h-1zM437.5 458.3h1v1h-1zM421.0 462.2h1v1h-1zM416.7 468.6h1v1h-1zM431.1 459.1h1v1h-1zM422.8 463.7h1v1h-1zM423.0 474.0h1v1h-1zM441.2 452.1h1v1h-1zM440.3 449.4h1v1h-1zM418.7 457.9h1v1h-1zM431.2 456.4h1v1h-1zM415.7 461.6h1v1h-1zM429.3 454.7h1v1h-1zM414.6 471.8h1v1h-1zM421.2 464.1h1v1h-1zM431.0 455.0h1v1h-1zM423.5 457.4h1v1h-1zM428.4 467.4h1v1h-1zM438.3 456.1h1v1h-1zM436.3 465.7h1v1h-1zM430.7 456.9h1v1h-1zM418.4 469.4h1v1h-1zM426.2 461.1h1v1h-1zM423.2 474.7h1v1h-1zM431.5 453.0h1v1h-1zM431.3 454.6h1v1h-1zM426.0 459.6h1v1h-1zM415.2 467.9h1v1h-1zM441.5 440.8h1v1h-1zM444.3 457.6h1v1h-1zM436.8 448.2h1v1h-1zM434.1 449.6h1v1h-1zM428.4 453.1h1v1h-1zM423.2 459.9h1v1h-1zM436.2 449.6h1v1h-1zM423.4 463.9h1v1h-1zM423.9 460.4h1v1h-1zM437.6 435.2h1v1h-1zM423.8 454.2h1v1h-1zM429.5 459.5h1v1h-1zM412.3 463.1h1v1h-1zM446.4 456.0h1v1h-1zM429.0 469.1h1v1h-1zM439.7 455.2h1v1h-1zM436.9 467.1h1v1h-1zM428.4 456.4h1v1h-1zM431.7 462.9h1v1h-1zM424.1 453.5h1v1h-1zM426.7 460.6h1v1h-1zM429.7 444.2h1v1h-1zM423.1 453.9h1v1h-1zM421.8 466.6h1v1h-1zM431.7 463.8h1v1h-1zM417.3 463.0h1v1h-1zM420.6 456.6h1v1h-1zM435.0 458.5h1v1h-1zM416.1 462.5h1v1h-1zM420.0 468.9h1v1h-1zM415.7 461.7h1v1h-1zM443.1 459.1h1v1h-1zM424.2 457.7h1v1h-1zM426.3 471.0h1v1h-1zM441.7 457.3h1v1h-1zM412.3 462.0h1v1h-1zM428.2 460.8h1v1h-1zM412.7 464.6h1v1h-1zM440.0 450.1h1v1h-1zM424.6 455.5h1v1h-1zM436.2 466.8h1v1h-1zM428.1 464.2h1v1h-1zM426.1 459.2h1v1h-1zM423.9 455.7h1v1h-1zM431.1 462.1h1v1h-1zM434.5 446.4h1v1h-1zM423.4 451.3h1v1h-1zM423.8 459.7h1v1h-1zM436.6 459.9h1v1h-1zM425.9 470.8h1v1h-1zM434.7 460.7h1v1h-1zM433.7 458.3h1v1h-1zM413.2 470.3h1v1h-1zM414.7 470.1h1v1h-1zM424.7 472.6h1v1h-1zM424.9 466.7h1v1h-1zM416.7 483.6h1v1h-1zM434.4 451.9h1v1h-1zM436.7 447.5h1v1h-1zM432.5 454.8h1v1h-1zM432.2 463.1h1v1h-1zM430.8 469.0h1v1h-1zM419.8 475.1h1v1h-1zM431.5 461.4h1v1h-1zM418.7 451.9h1v1h-1zM422.6 455.4h1v1h-1zM430.3 463.9h1v1h-1zM442.0 462.3h1v1h-1zM434.3 459.9h1v1h-1zM425.8 460.8h1v1h-1zM425.0 470.7h1v1h-1zM412.3 458.3h1v1h-1zM423.1 460.2h1v1h-1zM422.9 468.9h1v1h-1zM416.1 465.8h1v1h-1zM427.0 465.1h1v1h-1zM426.6 464.0h1v1h-1zM427.3 460.6h1v1h-1zM436.0 447.6h1v1h-1zM430.2 455.4h1v1h-1zM431.4 466.3h1v1h-1zM427.4 466.5h1v1h-1zM428.1 451.0h1v1h-1zM437.1 457.8h1v1h-1zM416.3 462.3h1v1h-1zM429.0 456.2h1v1h-1zM432.2 459.9h1v1h-1zM420.9 466.3h1v1h-1zM416.4 463.1h1v1h-1zM422.9 457.9h1v1h-1zM409.4 473.9h1v1h-1zM425.7 461.5h1v1h-1zM432.3 458.6h1v1h-1zM431.2 448.5h1v1h-1zM424.6 458.1h1v1h-1zM418.9 456.4h1v1h-1zM427.6 455.5h1v1h-1zM427.6 459.4h1v1h-1zM428.0 467.1h1v1h-1zM422.3 479.0h1v1h-1zM429.2 460.1h1v1h-1zM436.4 450.0h1v1h-1zM420.9 466.5h1v1h-1zM422.8 462.3h1v1h-1zM414.8 461.1h1v1h-1zM438.4 445.2h1v1h-1zM441.3 455.2h1v1h-1zM424.4 466.9h1v1h-1zM435.1 455.8h1v1h-1zM427.5 456.2h1v1h-1zM414.6 465.4h1v1h-1zM423.4 459.6h1v1h-1zM431.2 466.1h1v1h-1zM422.4 466.9h1v1h-1zM421.8 467.4h1v1h-1zM421.2 456.3h1v1h-1zM420.3 462.0h1v1h-1zM420.8 464.1h1v1h-1zM412.8 467.8h1v1h-1zM423.7 456.8h1v1h-1zM432.1 456.2h1v1h-1zM421.2 459.3h1v1h-1zM431.8 453.0h1v1h-1zM434.0 449.0h1v1h-1zM425.1 466.7h1v1h-1zM430.7 456.1h1v1h-1zM426.2 470.4h1v1h-1zM425.1 470.0h1v1h-1zM433.2 452.8h1v1h-1zM427.8 450.0h1v1h-1zM416.8 464.9h1v1h-1zM430.0 456.5h1v1h-1zM415.8 469.5h1v1h-1zM423.0 458.4h1v1h-1zM413.6 467.4h1v1h-1zM428.3 451.2h1v1h-1zM432.3 455.3h1v1h-1zM412.2 469.8h1v1h-1zM431.2 460.0h1v1h-1zM430.1 447.8h1v1h-1zM438.4 448.4h1v1h-1zM408.5 474.9h1v1h-1zM426.1 466.9h1v1h-1zM431.4 470.2h1v1h-1zM434.2 461.2h1v1h-1zM423.1 459.9h1v1h-1zM431.4 447.9h1v1h-1zM431.8 469.7h1v1h-1zM437.0 458.9h1v1h-1zM426.1 453.1h1v1h-1zM424.2 455.8h1v1h-1zM435.1 438.3h1v1h-1zM416.4 479.5h1v1h-1zM434.1 467.3h1v1h-1zM413.8 470.2h1v1h-1zM421.9 460.6h1v1h-1zM423.0 456.1h1v1h-1zM427.5 467.0h1v1h-1zM430.8 460.2h1v1h-1zM421.4 455.1h1v1h-1zM433.6 451.3h1v1h-1zM431.3 452.9h1v1h-1zM429.4 460.6h1v1h-1zM438.3 452.9h1v1h-1zM427.5 453.5h1v1h-1zM425.0 456.2h1v1h-1zM428.3 465.4h1v1h-1zM431.2 459.3h1v1h-1zM426.4 462.2h1v1h-1zM428.0 465.6h1v1h-1zM433.7 457.6h1v1h-1zM433.9 460.8h1v1h-1zM427.5 458.0h1v1h-1zM436.9 458.3h1v1h-1zM425.1 457.7h1v1h-1zM427.3 457.3h1v1h-1zM444.3 450.3h1v1h-1zM415.9 467.1h1v1h-1zM415.1 467.0h1v1h-1zM409.6 466.9h1v1h-1zM425.5 466.2h1v1h-1zM438.3 440.4h1v1h-1zM423.8 466.7h1v1h-1zM428.2 458.5h1v1h-1zM421.8 461.2h1v1h-1zM432.0 458.5h1v1h-1zM432.0 455.9h1v1h-1zM418.0 465.3h1v1h-1zM434.6 476.7h1v1h-1zM425.8 472.5h1v1h-1zM420.2 459.7h1v1h-1zM433.0 459.7h1v1h-1zM425.8 467.7h1v1h-1zM419.4 460.2h1v1h-1zM417.9 459.8h1v1h-1zM416.2 462.2h1v1h-1zM426.7 450.1h1v1h-1zM429.1 469.3h1v1h-1zM424.3 466.4h1v1h-1zM425.1 461.1h1v1h-1zM426.2 465.3h1v1h-1zM427.5 453.9h1v1h-1zM422.2 460.5h1v1h-1zM435.5 465.6h1v1h-1zM427.2 460.9h1v1h-1zM432.1 450.1h1v1h-1zM423.7 444.3h1v1h-1zM416.2 458.1h1v1h-1zM422.4 458.8h1v1h-1zM415.0 473.2h1v1h-1zM431.4 459.0h1v1h-1zM418.0 469.0h1v1h-1zM429.0 454.6h1v1h-1zM424.6 462.1h1v1h-1zM422.2 460.1h1v1h-1zM412.0 470.6h1v1h-1zM435.5 458.1h1v1h-1zM417.6 463.8h1v1h-1zM421.8 452.9h1v1h-1zM414.2 477.3h1v1h-1zM421.0 456.2h1v1h-1zM427.9 459.2h1v1h-1zM410.7 466.1h1v1h-1zM413.9 461.3h1v1h-1zM424.9 453.9h1v1h-1zM423.8 454.9h1v1h-1zM415.9 468.4h1v1h-1zM412.0 457.3h1v1h-1zM413.5 456.9h1v1h-1zM400.3 472.2h1v1h-1zM431.3 456.0h1v1h-1zM429.7 445.3h1v1h-1zM423.5 465.2h1v1h-1zM451.4 453.4h1v1h-1zM426.8 464.6h1v1h-1zM425.2 468.5h1v1h-1zM444.7 438.9h1v1h-1zM415.6 463.9h1v1h-1zM420.0 458.6h1v1h-1zM419.7 466.9h1v1h-1zM430.3 452.1h1v1h-1zM433.1 454.8h1v1h-1zM447.1 467.6h1v1h-1zM426.6 451.0h1v1h-1zM426.9 453.0h1v1h-1zM431.4 461.2h1v1h-1zM427.0 450.6h1v1h-1zM438.2 446.6h1v1h-1zM436.8 461.6h1v1h-1zM421.3 452.5h1v1h-1zM422.5 464.5h1v1h-1zM423.2 454.3h1v1h-1zM421.6 458.7h1v1h-1zM425.7 467.6h1v1h-1zM426.3 458.9h1v1h-1zM418.7 466.4h1v1h-1zM430.7 461.9h1v1h-1zM425.4 452.8h1v1h-1zM419.7 459.7h1v1h-1zM427.8 456.8h1v1h-1zM413.8 461.1h1v1h-1zM429.0 453.0h1v1h-1zM425.1 463.4h1v1h-1zM435.0 452.9h1v1h-1zM425.2 448.6h1v1h-1zM431.8 443.6h1v1h-1zM426.1 466.2h1v1h-1zM415.9 472.9h1v1h-1zM424.3 460.9h1v1h-1zM421.9 451.5h1v1h-1zM411.6 462.7h1v1h-1zM432.9 454.3h1v1h-1zM423.5 471.4h1v1h-1zM413.5 454.7h1v1h-1zM421.0 459.5h1v1h-1zM436.1 457.2h1v1h-1zM416.3 471.0h1v1h-1zM434.9 453.6h1v1h-1zM428.1 446.4h1v1h-1zM427.8 449.6h1v1h-1zM422.9 460.0h1v1h-1zM434.1 454.6h1v1h-1zM408.7 467.4h1v1h-1zM429.9 465.3h1v1h-1zM420.0 455.7h1v1h-1zM403.7 476.8h1v1h-1zM427.6 457.3h1v1h-1zM433.2 452.2h1v1h-1zM420.7 465.3h1v1h-1zM414.6 453.2h1v1h-1zM424.4 463.4h1v1h-1zM426.5 467.2h1v1h-1zM421.4 452.8h1v1h-1zM411.6 457.5h1v1h-1zM432.2 466.1h1v1h-1zM425.0 456.5h1v1h-1zM426.7 461.2h1v1h-1zM419.5 453.6h1v1h-1zM443.9 445.8h1v1h-1zM427.8 465.0h1v1h-1zM429.2 445.7h1v1h-1zM427.5 461.4h1v1h-1zM427.9 463.9h1v1h-1zM423.4 463.7h1v1h-1zM425.6 465.9h1v1h-1zM442.2 460.5h1v1h-1zM412.3 457.1h1v1h-1zM420.1 464.8h1v1h-1zM425.9 464.5h1v1h-1zM417.8 452.0h1v1h-1zM428.0 461.9h1v1h-1zM413.5 471.1h1v1h-1zM440.1 451.1h1v1h-1zM422.3 453.7h1v1h-1zM433.3 446.2h1v1h-1zM418.3 462.5h1v1h-1zM419.0 453.7h1v1h-1zM431.3 455.3h1v1h-1zM425.3 466.0h1v1h-1zM410.3 461.0h1v1h-1zM431.0 453.0h1v1h-1zM426.9 461.3h1v1h-1zM428.5 467.4h1v1h-1zM411.1 470.6h1v1h-1zM417.9 461.3h1v1h-1zM432.4 453.7h1v1h-1zM431.8 469.2h1v1h-1zM421.3 456.4h1v1h-1zM423.8 460.6h1v1h-1zM416.5 451.8h1v1h-1zM431.9 443.7h1v1h-1zM438.0 461.6h1v1h-1zM424.0 460.7h1v1h-1zM432.5 466.6h1v1h-1zM423.9 465.8h1v1h-1zM425.8 467.0h1v1h-1zM422.6 454.3h1v1h-1zM429.2 448.0h1v1h-1zM407.5 482.4h1v1h-1zM430.7 468.5h1v1h-1zM421.0 466.4h1v1h-1zM432.5 456.5h1v1h-1zM428.6 456.3h1v1h-1zM421.9 469.5h1v1h-1zM424.5 463.2h1v1h-1zM427.0 467.8h1v1h-1zM416.5 458.5h1v1h-1zM435.5 453.8h1v1h-1zM438.7 466.6h1v1h-1zM422.9 461.7h1v1h-1zM419.4 467.1h1v1h-1zM425.4 468.4h1v1h-1zM427.2 449.8h1v1h-1zM420.1 460.1h1v1h-1zM413.5 466.7h1v1h-1zM434.9 467.4h1v1h-1zM423.9 454.5h1v1h-1zM427.4 461.8h1v1h-1zM410.5 465.2h1v1h-1zM420.9 461.2h1v1h-1zM433.4 459.1h1v1h-1zM411.6 470.4h1v1h-1zM432.5 461.5h1v1h-1zM423.9 456.8h1v1h-1zM437.1 458.9h1v1h-1zM433.3 456.8h1v1h-1zM420.7 459.3h1v1h-1zM414.8 449.6h1v1h-1zM421.6 463.0h1v1h-1zM416.3 460.5h1v1h-1zM420.5 453.0h1v1h-1zM417.9 455.3h1v1h-1zM413.8 468.8h1v1h-1zM437.7 451.1h1v1h-1zM433.2 452.3h1v1h-1zM420.9 455.4h1v1h-1zM420.7 464.9h1v1h-1zM432.5 465.7h1v1h-1zM428.8 451.0h1v1h-1zM422.1 457.9h1v1h-1zM439.1 457.9h1v1h-1zM426.8 463.1h1v1h-1zM437.1 451.9h1v1h-1zM426.1 457.2h1v1h-1zM420.1 468.0h1v1h-1zM427.0 456.1h1v1h-1zM427.7 445.4h1v1h-1zM443.2 460.8h1v1h-1zM430.5 465.6h1v1h-1zM421.4 450.3h1v1h-1zM412.5 463.3h1v1h-1zM442.0 454.0h1v1h-1zM417.8 469.5h1v1h-1zM414.9 464.1h1v1h-1zM409.3 461.7h1v1h-1zM430.7 454.4h1v1h-1zM441.1 458.7h1v1h-1zM415.2 467.8h1v1h-1zM427.0 462.4h1v1h-1zM427.3 462.0h1v1h-1zM432.1 447.5h1v1h-1zM427.4 451.4h1v1h-1zM418.6 455.3h1v1h-1zM421.8 460.5h1v1h-1zM432.9 458.0h1v1h-1zM431.3 457.2h1v1h-1zM422.7 459.0h1v1h-1zM415.8 457.8h1v1h-1zM423.7 460.9h1v1h-1zM423.9 457.4h1v1h-1zM417.5 471.6h1v1h-1zM437.5 451.5h1v1h-1zM426.3 461.8h1v1h-1zM444.2 451.5h1v1h-1zM418.8 464.9h1v1h-1zM417.8 453.3h1v1h-1zM412.8 472.2h1v1h-1zM424.7 445.5h1v1h-1zM420.9 461.8h1v1h-1zM436.9 455.9h1v1h-1zM415.0 454.9h1v1h-1zM427.9 453.7h1v1h-1zM431.4 459.6h1v1h-1zM434.9 462.1h1v1h-1zM429.8 440.1h1v1h-1zM431.6 454.5h1v1h-1zM422.3 457.4h1v1h-1zM428.0 460.1h1v1h-1zM427.2 466.5h1v1h-1zM431.8 454.2h1v1h-1zM425.4 459.5h1v1h-1zM425.2 462.6h1v1h-1zM417.5 467.6h1v1h-1zM418.7 449.9h1v1h-1zM428.6 457.4h1v1h-1zM420.0 454.4h1v1h-1zM419.2 470.8h1v1h-1zM428.1 470.2h1v1h-1zM417.7 470.1h1v1h-1zM433.5 465.4h1v1h-1zM420.6 464.4h1v1h-1zM420.7 450.0h1v1h-1zM445.5 452.0h1v1h-1zM426.2 463.4h1v1h-1zM421.3 466.8h1v1h-1zM425.6 457.5h1v1h-1zM425.3 450.2h1v1h-1zM424.0 468.2h1v1h-1zM423.2 462.9h1v1h-1zM442.9 459.3h1v1h-1z" fill="#000"/>
<rect x="351.0" y="363.9" width="131.6" height="130.0" fill="none" stroke="#000" stroke-width="1.4"/>
<line x1="400.2" y1="363.9" x2="400.2" y2="493.9" stroke="#000" stroke-width="1.3"/>
<line x1="351.0" y1="444.6" x2="482.6" y2="444.6" stroke="#000" stroke-width="1.3"/>
<line x1="459.7" y1="363.9" x2="459.7" y2="388.4" stroke="#000" stroke-width="1"/>
<line x1="435.4" y1="375.7" x2="482.6" y2="375.7" stroke="#000" stroke-width="1"/>
<text class="s" x="454.0" y="372.9" font-size="10.3" text-anchor="end">3.3</text>
<text class="s" x="478.0" y="372.9" font-size="10.3" text-anchor="end">1.8</text>
<text class="s" x="454.6" y="386.1" font-size="10.3" text-anchor="end">0.4</text>
<text class="s" x="478.4" y="386.1" font-size="10.3" text-anchor="end">94.5</text>
<path d="M349.4 484.1h1.6 M360.9 493.9v1.6 M349.4 478.4h1.6 M366.7 493.9v1.6 M349.4 474.3h1.6 M370.8 493.9v1.6 M349.4 471.2h1.6 M374.0 493.9v1.6 M349.4 468.6h1.6 M376.6 493.9v1.6 M349.4 466.4h1.6 M378.8 493.9v1.6 M349.4 464.5h1.6 M380.7 493.9v1.6 M349.4 462.9h1.6 M382.4 493.9v1.6 M348.0 461.4h3.0 M383.9 493.9v3.0 M349.4 451.6h1.6 M393.8 493.9v1.6 M349.4 445.9h1.6 M399.6 493.9v1.6 M349.4 441.8h1.6 M403.7 493.9v1.6 M349.4 438.7h1.6 M406.9 493.9v1.6 M349.4 436.1h1.6 M409.5 493.9v1.6 M349.4 433.9h1.6 M411.7 493.9v1.6 M349.4 432.0h1.6 M413.6 493.9v1.6 M349.4 430.4h1.6 M415.3 493.9v1.6 M348.0 428.9h3.0 M416.8 493.9v3.0 M349.4 419.1h1.6 M426.7 493.9v1.6 M349.4 413.4h1.6 M432.5 493.9v1.6 M349.4 409.3h1.6 M436.6 493.9v1.6 M349.4 406.2h1.6 M439.8 493.9v1.6 M349.4 403.6h1.6 M442.4 493.9v1.6 M349.4 401.4h1.6 M444.6 493.9v1.6 M349.4 399.5h1.6 M446.5 493.9v1.6 M349.4 397.9h1.6 M448.2 493.9v1.6 M348.0 396.4h3.0 M449.7 493.9v3.0 M349.4 386.6h1.6 M459.6 493.9v1.6 M349.4 380.9h1.6 M465.4 493.9v1.6 M349.4 376.8h1.6 M469.5 493.9v1.6 M349.4 373.7h1.6 M472.7 493.9v1.6 M349.4 371.1h1.6 M475.3 493.9v1.6 M349.4 368.9h1.6 M477.5 493.9v1.6 M349.4 367.0h1.6 M479.4 493.9v1.6 M349.4 365.4h1.6 M481.1 493.9v1.6" stroke="#000" stroke-width="0.8" fill="none"/>
<path d="M140.1 434 V516.7 H269" stroke-linejoin="round" fill="none" stroke="#000" stroke-width="2"/>
<polygon points="134.3,434.7 139.8,424.4 145,434.7" fill="#000"/>
<polygon points="268.8,512.8 279.2,517.3 268.8,522" fill="#000"/>
<text class="s" font-size="14" transform="translate(143.1,418.7) rotate(-90)">NEMO</text>
<text class="s" x="286.5" y="522" font-size="14.5" textLength="72" lengthAdjust="spacingAndGlyphs">Surface IgD</text>
</svg></body></html>
